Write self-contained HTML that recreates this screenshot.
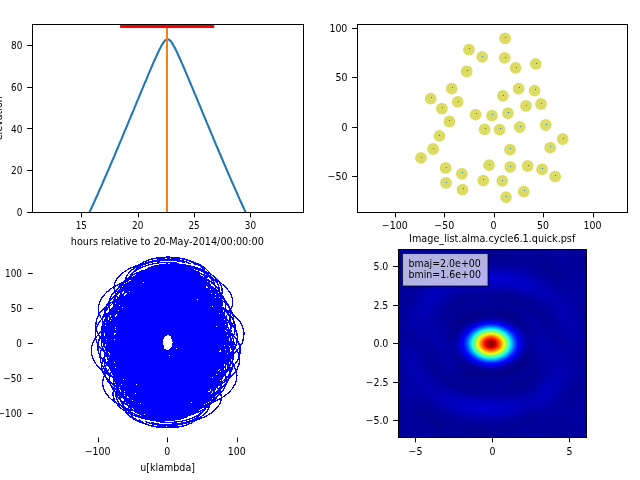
<!DOCTYPE html>
<html lang="en"><head><meta charset="utf-8"><title>simobserve quick look</title>
<style>html,body{margin:0;padding:0;background:#fff}svg{display:block}text{font-family:"DejaVu Sans","Liberation Sans",sans-serif;font-size:9.72px;fill:#000}.sp{stroke:#000;stroke-width:1;fill:none;stroke-linecap:square}.tk{stroke:#000;stroke-width:1;fill:none}</style></head><body>
<svg width="640" height="480" viewBox="0 0 640 480">
<rect width="640" height="480" fill="#fff"/>
<clipPath id="c1"><rect x="32.5" y="24.5" width="271.0" height="188.0"/></clipPath>
<g clip-path="url(#c1)">
<polyline points="32.3,289.4 33.4,289.4 34.6,289.3 35.7,289.1 36.8,288.8 37.9,288.5 39.1,288.1 40.2,287.6 41.3,287.0 42.4,286.3 43.6,285.6 44.7,284.8 45.8,283.9 47.0,283.0 48.1,282.0 49.2,280.9 50.3,279.7 51.5,278.5 52.6,277.2 53.7,275.9 54.8,274.5 56.0,273.0 57.1,271.5 58.2,270.0 59.4,268.4 60.5,266.7 61.6,265.0 62.7,263.3 63.9,261.5 65.0,259.6 66.1,257.8 67.2,255.9 68.4,253.9 69.5,251.9 70.6,249.9 71.8,247.9 72.9,245.8 74.0,243.7 75.1,241.5 76.3,239.4 77.4,237.2 78.5,235.0 79.6,232.7 80.8,230.5 81.9,228.2 83.0,225.9 84.2,223.5 85.3,221.2 86.4,218.8 87.5,216.4 88.7,214.0 89.8,211.6 90.9,209.2 92.0,206.7 93.2,204.3 94.3,201.8 95.4,199.3 96.6,196.8 97.7,194.3 98.8,191.7 99.9,189.2 101.1,186.7 102.2,184.1 103.3,181.5 104.4,178.9 105.6,176.3 106.7,173.7 107.8,171.1 109.0,168.5 110.1,165.9 111.2,163.3 112.3,160.6 113.5,158.0 114.6,155.3 115.7,152.7 116.8,150.0 118.0,147.3 119.1,144.7 120.2,142.0 121.4,139.3 122.5,136.6 123.6,133.9 124.7,131.2 125.9,128.5 127.0,125.8 128.1,123.1 129.2,120.4 130.4,117.7 131.5,115.0 132.6,112.3 133.8,109.6 134.9,106.9 136.0,104.1 137.1,101.4 138.3,98.7 139.4,96.0 140.5,93.3 141.6,90.6 142.8,87.9 143.9,85.2 145.0,82.5 146.2,79.8 147.3,77.1 148.4,74.4 149.5,71.8 150.7,69.1 151.8,66.5 152.9,63.9 154.0,61.3 155.2,58.8 156.3,56.3 157.4,53.8 158.6,51.4 159.7,49.1 160.8,46.9 161.9,44.9 163.1,43.1 164.2,41.5 165.3,40.3 166.4,39.5 167.6,39.2 168.7,39.5 169.8,40.3 171.0,41.5 172.1,43.1 173.2,44.9 174.3,46.9 175.5,49.1 176.6,51.4 177.7,53.8 178.8,56.3 180.0,58.8 181.1,61.3 182.2,63.9 183.4,66.5 184.5,69.1 185.6,71.8 186.7,74.4 187.9,77.1 189.0,79.8 190.1,82.5 191.2,85.2 192.4,87.9 193.5,90.6 194.6,93.3 195.8,96.0 196.9,98.7 198.0,101.4 199.1,104.1 200.3,106.9 201.4,109.6 202.5,112.3 203.6,115.0 204.8,117.7 205.9,120.4 207.0,123.1 208.2,125.8 209.3,128.5 210.4,131.2 211.5,133.9 212.7,136.6 213.8,139.3 214.9,142.0 216.0,144.7 217.2,147.3 218.3,150.0 219.4,152.7 220.6,155.3 221.7,158.0 222.8,160.6 223.9,163.3 225.1,165.9 226.2,168.5 227.3,171.1 228.4,173.7 229.6,176.3 230.7,178.9 231.8,181.5 233.0,184.1 234.1,186.7 235.2,189.2 236.3,191.7 237.5,194.3 238.6,196.8 239.7,199.3 240.8,201.8 242.0,204.3 243.1,206.7 244.2,209.2 245.4,211.6 246.5,214.0 247.6,216.4 248.7,218.8 249.9,221.2 251.0,223.5 252.1,225.9 253.2,228.2 254.4,230.5 255.5,232.7 256.6,235.0 257.8,237.2 258.9,239.4 260.0,241.5 261.1,243.7 262.3,245.8 263.4,247.9 264.5,249.9 265.6,251.9 266.8,253.9 267.9,255.9 269.0,257.8 270.2,259.6 271.3,261.5 272.4,263.3 273.5,265.0 274.7,266.7 275.8,268.4 276.9,270.0 278.0,271.5 279.2,273.0 280.3,274.5 281.4,275.9 282.6,277.2 283.7,278.5 284.8,279.7 285.9,280.9 287.1,282.0 288.2,283.0 289.3,283.9 290.4,284.8 291.6,285.6 292.7,286.3 293.8,287.0 295.0,287.6 296.1,288.1 297.2,288.5 298.3,288.8 299.5,289.1 300.6,289.3 301.7,289.4 302.9,289.4" fill="none" stroke="#1f77b4" stroke-width="2.08" stroke-linejoin="round"/>
<rect x="166" y="25" width="2" height="188" fill="#ff7f0e"/>
<rect x="120.1" y="25" width="94.2" height="3" fill="#f00"/>
</g>
<rect class="sp" x="32.5" y="24.5" width="271.0" height="188.0"/>
<path class="tk" d="M81.5 212.5v4.86M138.5 212.5v4.86M194.5 212.5v4.86M250.5 212.5v4.86"/>
<text transform="translate(81.30 229.40) scale(0.91 1.03)" text-anchor="middle">15</text>
<text transform="translate(137.67 229.40) scale(0.91 1.03)" text-anchor="middle">20</text>
<text transform="translate(194.03 229.40) scale(0.91 1.03)" text-anchor="middle">25</text>
<text transform="translate(250.39 229.40) scale(0.91 1.03)" text-anchor="middle">30</text>
<path class="tk" d="M32.0 212.5h-4.86M32.0 170.5h-4.86M32.0 128.5h-4.86M32.0 87.5h-4.86M32.0 45.5h-4.86"/>
<text transform="translate(22.38 216.00) scale(0.92 1.03)" text-anchor="end">0</text>
<text transform="translate(22.38 174.31) scale(0.92 1.03)" text-anchor="end">20</text>
<text transform="translate(22.38 132.62) scale(0.92 1.03)" text-anchor="end">40</text>
<text transform="translate(22.38 90.93) scale(0.92 1.03)" text-anchor="end">60</text>
<text transform="translate(22.38 49.24) scale(0.92 1.03)" text-anchor="end">80</text>
<text transform="translate(167.30 244.60) scale(0.997 1)" text-anchor="middle">hours relative to 20-May-2014/00:00:00</text>
<text transform="translate(2.40 118.20) rotate(-90) scale(0.985 1)" text-anchor="middle">elevation</text>
<clipPath id="c2"><rect x="357.5" y="24.5" width="270.0" height="188.0"/></clipPath>
<g clip-path="url(#c2)">
<g fill="#dcdc64"><circle cx="505.0" cy="38.3" r="5.9"/><circle cx="469.0" cy="49.7" r="5.9"/><circle cx="482.2" cy="56.9" r="5.9"/><circle cx="504.7" cy="57.8" r="5.9"/><circle cx="515.6" cy="67.9" r="5.9"/><circle cx="535.8" cy="63.8" r="5.9"/><circle cx="466.7" cy="71.5" r="5.9"/><circle cx="451.7" cy="88.6" r="5.9"/><circle cx="518.6" cy="88.7" r="5.9"/><circle cx="534.6" cy="90.7" r="5.9"/><circle cx="502.9" cy="95.8" r="5.9"/><circle cx="430.7" cy="98.7" r="5.9"/><circle cx="457.7" cy="101.9" r="5.9"/><circle cx="541.0" cy="104.0" r="5.9"/><circle cx="526.0" cy="105.9" r="5.9"/><circle cx="441.9" cy="108.6" r="5.9"/><circle cx="507.9" cy="113.2" r="5.9"/><circle cx="475.6" cy="114.6" r="5.9"/><circle cx="491.9" cy="115.7" r="5.9"/><circle cx="449.4" cy="121.5" r="5.9"/><circle cx="545.8" cy="125.0" r="5.9"/><circle cx="519.8" cy="127.0" r="5.9"/><circle cx="484.6" cy="129.3" r="5.9"/><circle cx="499.6" cy="129.7" r="5.9"/><circle cx="439.4" cy="135.8" r="5.9"/><circle cx="562.7" cy="139.0" r="5.9"/><circle cx="550.2" cy="147.7" r="5.9"/><circle cx="433.1" cy="149.0" r="5.9"/><circle cx="510.0" cy="149.6" r="5.9"/><circle cx="421.0" cy="157.9" r="5.9"/><circle cx="489.0" cy="165.1" r="5.9"/><circle cx="510.2" cy="166.9" r="5.9"/><circle cx="527.7" cy="166.0" r="5.9"/><circle cx="445.6" cy="167.9" r="5.9"/><circle cx="542.1" cy="169.4" r="5.9"/><circle cx="461.9" cy="173.8" r="5.9"/><circle cx="555.2" cy="176.7" r="5.9"/><circle cx="483.3" cy="180.6" r="5.9"/><circle cx="502.3" cy="180.8" r="5.9"/><circle cx="446.0" cy="182.9" r="5.9"/><circle cx="462.5" cy="189.6" r="5.9"/><circle cx="523.8" cy="191.7" r="5.9"/><circle cx="506.0" cy="197.1" r="5.9"/></g>
<path fill="#1f77b4" d="M505 37h1v1h-1zM469 48h1v1h-1zM482 56h1v1h-1zM505 57h1v1h-1zM516 67h1v1h-1zM536 63h1v1h-1zM467 70h1v1h-1zM452 87h1v1h-1zM519 87h1v1h-1zM535 89h1v1h-1zM503 95h1v1h-1zM431 97h1v1h-1zM458 101h1v1h-1zM541 103h1v1h-1zM526 105h1v1h-1zM442 107h1v1h-1zM508 112h1v1h-1zM476 113h1v1h-1zM492 114h1v1h-1zM449 120h1v1h-1zM546 124h1v1h-1zM520 126h1v1h-1zM485 128h1v1h-1zM500 128h1v1h-1zM439 135h1v1h-1zM563 138h1v1h-1zM550 146h1v1h-1zM433 148h1v1h-1zM510 148h1v1h-1zM421 157h1v1h-1zM489 164h1v1h-1zM510 166h1v1h-1zM528 165h1v1h-1zM446 167h1v1h-1zM542 168h1v1h-1zM462 172h1v1h-1zM555 175h1v1h-1zM483 179h1v1h-1zM502 180h1v1h-1zM446 182h1v1h-1zM463 188h1v1h-1zM524 190h1v1h-1zM506 196h1v1h-1z"/>
</g>
<rect class="sp" x="357.5" y="24.5" width="270.0" height="188.0"/>
<path class="tk" d="M395.5 212.5v4.86M444.5 212.5v4.86M494.5 212.5v4.86M543.5 212.5v4.86M593.5 212.5v4.86"/>
<text transform="translate(394.80 229.40) scale(0.97 1.03)" text-anchor="middle">−100</text>
<text transform="translate(444.20 229.40) scale(0.97 1.03)" text-anchor="middle">−50</text>
<text transform="translate(493.60 229.40) scale(0.97 1.03)" text-anchor="middle">0</text>
<text transform="translate(543.00 229.40) scale(0.97 1.03)" text-anchor="middle">50</text>
<text transform="translate(592.40 229.40) scale(0.97 1.03)" text-anchor="middle">100</text>
<path class="tk" d="M357.0 176.5h-4.86M357.0 127.5h-4.86M357.0 77.5h-4.86M357.0 28.5h-4.86"/>
<text transform="translate(347.38 180.32) scale(0.97 1.03)" text-anchor="end">−50</text>
<text transform="translate(347.38 130.90) scale(0.97 1.03)" text-anchor="end">0</text>
<text transform="translate(347.38 81.48) scale(0.97 1.03)" text-anchor="end">50</text>
<text transform="translate(347.38 32.05) scale(0.97 1.03)" text-anchor="end">100</text>
<path d="M160.0 356.4A19.6 9.8 0 0 1 155.9 339.5M164.9 356.8A12.9 6.5 0 0 1 158.1 346.1M171.1 352.0A4.1 2.1 0 0 1 164.0 351.8M175.9 354.3A8.5 4.3 0 0 1 165.1 359.3M180.6 347.6A17.5 8.8 0 0 1 171.3 362.0M163.4 367.5A21.8 11.0 0 0 1 151.2 349.6M162.5 379.4A30.7 15.4 0 0 1 144.1 354.3M180.5 363.7A12.9 6.5 0 0 1 162.1 370.1M185.2 360.9A19.4 9.8 0 0 1 166.1 374.8M177.6 370.8A12.2 6.1 0 0 1 156.6 369.8M158.6 389.2A42.1 21.1 0 0 1 136.6 354.3M166.5 384.4A28.8 14.5 0 0 1 143.3 362.2M189.4 365.9A23.9 12.0 0 0 1 165.4 382.8M185.7 370.3A18.2 9.1 0 0 1 161.0 380.2M163.5 391.4A37.1 18.7 0 0 1 137.8 361.7M182.1 378.1A15.9 8.0 0 0 1 154.7 379.5M173.7 386.4A22.6 11.4 0 0 1 145.8 372.6M178.3 383.1A17.8 8.9 0 0 1 150.0 376.9M167.9 395.9A34.8 17.5 0 0 1 137.4 369.8M194.5 374.9A28.6 14.4 0 0 1 162.8 394.1M187.9 382.0A20.4 10.2 0 0 1 155.4 388.9M178.8 391.4A22.1 11.1 0 0 1 145.5 381.8M182.9 388.0A19.5 9.8 0 0 1 149.5 385.5M167.8 405.1A40.9 20.6 0 0 1 132.1 374.3M201.6 377.7A37.7 18.9 0 0 1 164.8 404.8M199.8 384.9A33.6 16.9 0 0 1 159.9 406.1M168.5 413.0A45.3 22.7 0 0 1 128.0 379.3M189.3 395.3A23.6 11.9 0 0 1 148.7 397.6M166.8 420.2A51.9 26.1 0 0 1 123.1 380.7M186.5 407.7A28.1 14.1 0 0 1 140.2 400.2M192.6 403.6A27.3 13.7 0 0 1 145.5 406.0M197.1 399.1A29.6 14.9 0 0 1 150.4 409.7M175.3 419.2A42.1 21.2 0 0 1 127.9 391.4M201.6 397.3A34.2 17.1 0 0 1 153.7 414.7M180.8 418.3A36.9 18.5 0 0 1 131.3 398.0M206.5 397.8A39.8 20.0 0 0 1 155.9 421.4M187.8 416.6A32.2 16.2 0 0 1 135.8 406.4M193.0 412.2A30.1 15.1 0 0 1 140.9 410.9M178.2 426.4A44.1 22.1 0 0 1 125.3 398.7M183.8 425.8A39.3 19.7 0 0 1 128.5 405.9M200.7 412.4A33.9 17.0 0 0 1 144.7 421.2M196.9 419.2A33.5 16.8 0 0 1 138.9 419.7M172.5 342.8A7.3 3.7 0 0 1 169.9 349.0M178.8 338.0A19.3 9.7 0 0 1 175.8 354.8M183.6 340.3A25.4 12.8 0 0 1 176.9 362.2M188.3 333.6A36.2 18.2 0 0 1 183.1 365.0M171.0 353.6A4.8 2.4 0 0 1 163.0 352.5M170.1 365.4A12.4 6.2 0 0 1 155.9 357.3M188.2 349.7A28.0 14.1 0 0 1 173.9 373.0M192.8 346.9A36.4 18.3 0 0 1 177.9 377.7M185.2 356.9A20.7 10.4 0 0 1 168.4 372.8M166.3 375.2A23.1 11.6 0 0 1 148.4 357.2M174.1 370.4A12.6 6.3 0 0 1 155.1 365.1M197.0 351.9A40.5 20.3 0 0 1 177.2 385.7M193.3 356.3A33.0 16.6 0 0 1 172.8 383.1M171.1 377.4A19.2 9.6 0 0 1 149.6 364.7M189.8 364.1A24.9 12.5 0 0 1 166.5 382.4M181.3 372.4A14.2 7.1 0 0 1 157.6 375.5M185.9 369.1A18.6 9.4 0 0 1 161.8 379.8M175.5 381.9A18.5 9.3 0 0 1 149.2 372.7M202.1 360.9A44.4 22.3 0 0 1 174.6 397.0M195.5 368.0A31.9 16.0 0 0 1 167.2 391.9M186.4 377.4A18.8 9.4 0 0 1 157.3 384.7M190.5 374.1A23.6 11.9 0 0 1 161.3 388.4M175.4 391.2A24.2 12.1 0 0 1 143.9 377.3M209.3 363.8A54.0 27.1 0 0 1 176.6 407.8M207.5 370.9A48.5 24.3 0 0 1 171.6 409.0M176.1 399.0A28.5 14.3 0 0 1 139.8 382.2M197.0 381.3A30.6 15.3 0 0 1 160.5 400.5M174.5 406.2A34.5 17.3 0 0 1 134.9 383.7M194.1 393.7A26.6 13.4 0 0 1 152.0 403.1M200.2 389.6A33.3 16.7 0 0 1 157.3 409.0M204.7 385.1A40.1 20.1 0 0 1 162.2 412.6M182.9 405.3A28.0 14.0 0 0 1 139.7 394.3M209.3 383.3A46.8 23.5 0 0 1 165.5 417.7M188.4 404.3A26.5 13.3 0 0 1 143.1 400.9M214.1 383.8A53.7 27.0 0 0 1 167.7 424.3M195.4 402.6A28.7 14.4 0 0 1 147.6 409.3M200.6 398.2A33.0 16.6 0 0 1 152.7 413.8M185.8 412.5A30.7 15.4 0 0 1 137.1 401.7M191.5 411.8A29.7 14.9 0 0 1 140.3 408.8M208.4 398.5A42.1 21.1 0 0 1 156.5 424.2M204.6 405.3A37.0 18.6 0 0 1 150.7 422.6M173.9 337.6A12.1 6.1 0 0 1 173.6 348.2M178.7 339.9A18.2 9.1 0 0 1 174.7 355.6M183.4 333.2A29.0 14.5 0 0 1 180.9 358.4M166.1 353.2A8.9 4.5 0 0 1 160.8 345.9M165.2 365.0A17.8 8.9 0 0 1 153.6 350.7M183.3 349.3A20.8 10.4 0 0 1 171.7 366.4M188.0 346.5A29.2 14.6 0 0 1 175.6 371.1M180.3 356.5A13.9 7.0 0 0 1 166.1 366.2M161.4 374.8A29.2 14.6 0 0 1 146.1 350.6M169.3 370.0A16.3 8.2 0 0 1 152.8 358.5M192.1 351.5A33.3 16.7 0 0 1 174.9 379.1M188.4 355.9A25.8 13.0 0 0 1 170.5 376.5M166.2 377.0A24.3 12.2 0 0 1 147.3 358.1M184.9 363.7A18.3 9.2 0 0 1 164.3 375.8M176.4 372.0A12.7 6.4 0 0 1 155.3 368.9M181.0 368.7A13.5 6.8 0 0 1 159.5 373.2M170.6 381.5A22.3 11.2 0 0 1 147.0 366.1M197.3 360.6A37.2 18.7 0 0 1 172.4 390.4M190.6 367.6A25.1 12.6 0 0 1 165.0 385.3M181.5 377.0A15.3 7.7 0 0 1 155.1 378.1M185.7 373.7A18.0 9.0 0 0 1 159.0 381.8M170.5 390.8A28.5 14.3 0 0 1 141.7 370.7M204.4 363.4A46.8 23.5 0 0 1 174.4 401.2M202.6 370.5A41.4 20.8 0 0 1 169.4 402.4M171.2 398.6A32.9 16.5 0 0 1 137.6 375.6M192.1 380.9A24.7 12.4 0 0 1 158.2 393.9M169.6 405.8A39.3 19.7 0 0 1 132.7 377.1M189.3 393.3A23.1 11.6 0 0 1 149.7 396.5M195.3 389.2A27.7 13.9 0 0 1 155.1 402.4M199.9 384.7A33.7 16.9 0 0 1 160.0 406.0M178.1 404.9A30.6 15.4 0 0 1 137.5 387.7M204.4 383.0A40.1 20.1 0 0 1 163.3 411.1M183.5 403.9A27.0 13.6 0 0 1 140.8 394.4M209.2 383.4A46.8 23.5 0 0 1 165.5 417.7M190.6 402.2A26.1 13.1 0 0 1 145.3 402.7M195.7 397.8A28.3 14.2 0 0 1 150.4 407.3M180.9 412.1A33.0 16.6 0 0 1 134.9 395.1M186.6 411.4A30.0 15.0 0 0 1 138.1 402.2M203.5 398.1A36.2 18.2 0 0 1 154.2 417.6M199.7 404.9A32.3 16.2 0 0 1 148.4 416.0M172.4 344.8A6.3 3.1 0 0 1 168.7 349.9M177.1 338.1A16.8 8.5 0 0 1 174.9 352.7M159.9 358.0A20.7 10.4 0 0 1 154.9 340.2M159.0 369.8A29.3 14.7 0 0 1 147.7 344.9M177.0 354.2A9.9 5.0 0 0 1 165.8 360.7M181.7 351.4A17.6 8.8 0 0 1 169.7 365.4M174.1 361.3A8.1 4.1 0 0 1 160.2 360.5M155.2 379.7A40.9 20.5 0 0 1 140.2 344.9M163.0 374.9A27.0 13.6 0 0 1 146.9 352.8M185.9 356.3A21.9 11.0 0 0 1 169.0 373.4M182.2 360.8A15.3 7.7 0 0 1 164.6 370.8M160.0 381.8A35.5 17.9 0 0 1 141.4 352.3M178.6 368.6A11.8 5.9 0 0 1 158.4 370.1M170.2 376.8A19.8 9.9 0 0 1 149.4 363.2M174.8 373.5A14.0 7.0 0 0 1 153.6 367.5M164.4 386.3A32.7 16.4 0 0 1 141.1 360.4M191.0 365.4A26.3 13.2 0 0 1 166.5 384.7M184.4 372.5A16.7 8.4 0 0 1 159.1 379.6M175.3 381.8A18.6 9.3 0 0 1 149.2 372.4M179.4 378.5A15.4 7.7 0 0 1 153.1 376.1M164.3 395.6A38.9 19.5 0 0 1 135.8 365.0M198.1 368.2A35.7 17.9 0 0 1 168.5 395.4M196.4 375.4A31.0 15.6 0 0 1 163.5 396.7M165.0 403.5A43.2 21.7 0 0 1 131.7 369.9M185.9 385.7A19.6 9.8 0 0 1 152.3 388.2M163.4 410.6A49.9 25.0 0 0 1 126.8 371.4M183.0 398.2A24.2 12.1 0 0 1 143.8 390.8M189.1 394.1A23.2 11.7 0 0 1 149.2 396.7M193.6 389.5A26.0 13.1 0 0 1 154.1 400.3M171.8 409.7A39.5 19.8 0 0 1 131.6 382.0M198.1 387.8A31.0 15.6 0 0 1 157.3 405.4M177.3 408.7A33.7 16.9 0 0 1 134.9 388.6M203.0 388.3A37.0 18.6 0 0 1 159.5 412.0M184.3 407.0A28.4 14.2 0 0 1 139.4 397.0M189.5 402.7A26.0 13.1 0 0 1 144.5 401.5M174.7 416.9A41.2 20.7 0 0 1 128.9 389.3M180.4 416.3A35.9 18.1 0 0 1 132.2 396.5M197.3 402.9A30.1 15.1 0 0 1 148.3 411.9M193.5 409.7A29.4 14.8 0 0 1 142.5 410.3M172.4 335.7A10.9 5.5 0 0 1 173.9 345.2M155.1 355.7A26.4 13.3 0 0 1 153.8 332.7M154.2 367.5A34.8 17.5 0 0 1 146.6 337.5M172.3 351.8A4.7 2.3 0 0 1 164.7 353.2M176.9 349.0A11.3 5.7 0 0 1 168.6 358.0M169.3 359.0A9.0 4.5 0 0 1 159.1 353.0M150.4 377.3A46.3 23.2 0 0 1 139.1 337.5M158.2 372.5A32.1 16.1 0 0 1 145.8 345.4M181.1 354.0A15.7 7.9 0 0 1 167.9 365.9M177.4 358.4A9.8 4.9 0 0 1 163.5 363.3M155.2 379.5A40.7 20.4 0 0 1 140.3 344.9M173.9 366.2A10.4 5.2 0 0 1 157.3 362.6M165.4 374.5A23.7 11.9 0 0 1 148.3 355.7M170.0 371.2A16.3 8.2 0 0 1 152.5 360.1M159.6 384.0A37.5 18.8 0 0 1 140.0 352.9M186.2 363.1A20.3 10.2 0 0 1 165.4 377.2M179.6 370.1A12.7 6.4 0 0 1 158.0 372.1M170.5 379.5A21.2 10.6 0 0 1 148.1 365.0M174.6 376.2A15.6 7.9 0 0 1 152.0 368.7M159.5 393.3A43.5 21.9 0 0 1 134.7 357.5M193.4 365.9A29.5 14.8 0 0 1 167.4 388.0M191.6 373.0A25.1 12.6 0 0 1 162.4 389.3M160.2 401.1A47.7 24.0 0 0 1 130.6 362.4M181.1 383.4A17.5 8.8 0 0 1 151.2 380.8M158.6 408.3A54.5 27.4 0 0 1 125.7 363.9M178.2 395.8A25.0 12.6 0 0 1 142.7 383.3M184.3 391.7A21.1 10.6 0 0 1 148.1 389.2M188.8 387.2A21.7 10.9 0 0 1 153.0 392.9M167.0 407.4A43.3 21.7 0 0 1 130.5 374.5M193.4 385.5A25.8 12.9 0 0 1 156.2 397.9M172.5 406.4A36.6 18.4 0 0 1 133.8 381.2M198.2 385.9A31.4 15.8 0 0 1 158.5 404.5M179.5 404.7A29.5 14.8 0 0 1 138.3 389.5M184.7 400.3A24.9 12.5 0 0 1 143.4 394.1M169.9 414.6A44.7 22.5 0 0 1 127.9 381.9M175.6 413.9A38.5 19.3 0 0 1 131.1 389.0M192.5 400.6A26.5 13.3 0 0 1 147.2 404.4M188.7 407.4A27.8 13.9 0 0 1 141.4 402.9M150.4 362.4A37.3 18.7 0 0 1 147.6 330.0M149.5 374.2A45.7 22.9 0 0 1 140.4 334.7M167.6 358.6A10.7 5.4 0 0 1 158.5 350.5M172.2 355.8A5.7 2.9 0 0 1 162.4 355.2M164.6 365.7A19.0 9.5 0 0 1 152.9 350.2M145.7 384.0A57.2 28.7 0 0 1 132.9 334.7M153.5 379.3A42.9 21.5 0 0 1 139.6 342.6M176.4 360.7A8.9 4.5 0 0 1 161.7 363.2M172.7 365.2A10.3 5.2 0 0 1 157.3 360.6M150.5 386.2A51.6 25.9 0 0 1 134.1 342.1M169.2 373.0A18.3 9.2 0 0 1 151.1 359.9M160.7 381.2A34.2 17.2 0 0 1 142.1 353.0M165.3 377.9A26.1 13.1 0 0 1 146.3 357.3M154.9 390.7A48.2 24.2 0 0 1 133.8 350.2M181.5 369.8A14.0 7.0 0 0 1 159.2 374.5M174.9 376.9A15.9 8.0 0 0 1 151.8 369.3M165.8 386.2A30.9 15.5 0 0 1 141.9 362.2M169.9 382.9A24.0 12.0 0 0 1 145.8 365.9M154.8 400.0A54.2 27.2 0 0 1 128.5 354.7M188.7 372.6A21.5 10.8 0 0 1 161.2 385.2M186.9 379.8A19.3 9.7 0 0 1 156.2 386.5M155.5 407.9A58.3 29.3 0 0 1 124.4 359.7M176.4 390.1A22.8 11.5 0 0 1 145.0 378.0M153.9 415.0A65.1 32.7 0 0 1 119.5 361.1M173.5 402.6A33.1 16.6 0 0 1 136.5 380.6M179.6 398.5A25.8 12.9 0 0 1 141.9 386.4M184.1 393.9A22.0 11.1 0 0 1 146.8 390.1M162.3 414.1A53.4 26.8 0 0 1 124.3 371.8M188.7 392.2A22.5 11.3 0 0 1 150.0 395.1M167.8 413.1A46.1 23.2 0 0 1 127.6 378.4M193.5 392.7A26.0 13.1 0 0 1 152.3 401.8M174.8 411.4A37.6 18.9 0 0 1 132.1 386.8M180.0 407.1A30.6 15.4 0 0 1 137.2 391.3M165.2 421.3A54.6 27.4 0 0 1 121.7 379.1M170.9 420.7A47.6 23.9 0 0 1 124.9 386.3M187.8 407.3A27.8 13.9 0 0 1 141.0 401.7M184.0 414.1A32.4 16.3 0 0 1 135.2 400.1M166.7 354.3A8.9 4.5 0 0 1 160.5 347.2M184.8 338.6A28.2 14.2 0 0 1 178.5 363.0M189.5 335.8A36.9 18.5 0 0 1 182.5 367.7M181.9 345.7A20.2 10.1 0 0 1 173.0 362.7M162.9 364.1A20.3 10.2 0 0 1 153.0 347.2M170.8 359.3A8.0 4.0 0 0 1 159.7 355.1M193.6 340.8A40.7 20.4 0 0 1 181.8 375.7M189.9 345.2A32.8 16.5 0 0 1 177.4 373.1M167.7 366.3A15.5 7.8 0 0 1 154.2 354.6M186.4 353.0A23.9 12.0 0 0 1 171.1 372.3M177.9 361.3A10.3 5.2 0 0 1 162.2 365.4M182.5 358.0A16.5 8.3 0 0 1 166.4 369.8M172.1 370.8A14.1 7.1 0 0 1 153.8 362.6M198.8 349.8A44.2 22.2 0 0 1 179.2 387.0M192.1 356.9A31.0 15.5 0 0 1 171.8 381.8M183.0 366.3A15.6 7.8 0 0 1 161.9 374.7M187.2 363.0A21.6 10.8 0 0 1 165.9 378.4M172.0 380.0A20.0 10.1 0 0 1 148.5 367.2M205.9 352.7A53.7 27.0 0 0 1 181.2 397.7M204.1 359.8A47.8 24.0 0 0 1 176.3 399.0M172.7 387.9A24.4 12.3 0 0 1 144.4 372.2M193.6 370.2A28.6 14.4 0 0 1 165.1 390.5M171.1 395.1A30.7 15.4 0 0 1 139.5 373.6M190.8 382.6A23.1 11.6 0 0 1 156.6 393.1M196.8 378.5A30.9 15.5 0 0 1 162.0 398.9M201.4 374.0A38.5 19.3 0 0 1 166.8 402.6M179.6 394.2A23.3 11.7 0 0 1 144.3 384.3M205.9 372.2A45.6 22.9 0 0 1 170.1 407.6M185.0 393.2A21.7 10.9 0 0 1 147.7 390.9M210.8 372.7A52.7 26.4 0 0 1 172.3 414.2M192.1 391.5A24.7 12.4 0 0 1 152.2 399.3M197.2 387.1A30.0 15.1 0 0 1 157.3 403.8M182.4 401.3A26.0 13.1 0 0 1 141.7 391.6M188.1 400.7A25.0 12.6 0 0 1 144.9 398.7M205.0 387.4A39.9 20.0 0 0 1 161.1 414.1M201.2 394.1A33.9 17.0 0 0 1 155.3 412.6M185.7 326.8A36.1 18.1 0 0 1 185.7 358.2M190.4 324.0A44.7 22.5 0 0 1 189.6 362.9M182.8 333.9A27.7 13.9 0 0 1 180.1 358.0M163.8 352.3A11.5 5.8 0 0 1 160.1 342.4M171.7 347.5A4.3 2.2 0 0 1 166.8 350.3M194.6 329.0A48.3 24.3 0 0 1 188.9 370.9M190.9 333.4A40.3 20.2 0 0 1 184.5 368.3M168.7 354.5A6.8 3.4 0 0 1 161.4 349.9M187.3 341.2A30.8 15.5 0 0 1 178.3 367.6M178.9 349.5A14.0 7.0 0 0 1 169.3 360.7M183.5 346.2A22.4 11.3 0 0 1 173.5 365.0M173.0 358.9A7.1 3.5 0 0 1 161.0 357.9M199.7 338.0A51.4 25.8 0 0 1 186.4 382.2M193.0 345.1A37.6 18.9 0 0 1 179.0 377.1M184.0 354.5A19.7 9.9 0 0 1 169.1 369.9M188.1 351.1A27.3 13.7 0 0 1 173.1 373.6M173.0 368.2A12.0 6.0 0 0 1 155.7 362.5M206.8 340.8A60.8 30.6 0 0 1 188.4 392.9M205.0 348.0A54.6 27.4 0 0 1 183.4 394.2M173.7 376.1A16.2 8.1 0 0 1 151.6 367.4M194.5 358.4A34.0 17.1 0 0 1 172.2 385.7M172.0 383.3A22.1 11.1 0 0 1 146.7 368.9M191.7 370.8A25.8 13.0 0 0 1 163.7 388.3M197.7 366.7A35.6 17.9 0 0 1 169.1 394.2M202.3 362.2A44.1 22.2 0 0 1 174.0 397.8M180.5 382.3A17.1 8.6 0 0 1 151.5 379.5M206.8 360.4A51.7 26.0 0 0 1 177.3 402.9M186.0 381.4A18.8 9.4 0 0 1 154.8 386.1M211.7 360.9A58.9 29.6 0 0 1 179.5 409.5M193.0 379.7A25.8 13.0 0 0 1 159.4 394.5M198.2 375.3A33.5 16.8 0 0 1 164.5 399.0M183.3 389.5A20.1 10.1 0 0 1 148.9 386.8M189.0 388.9A22.1 11.1 0 0 1 152.1 394.0M205.9 375.5A44.6 22.4 0 0 1 168.2 409.4M202.1 382.3A37.2 18.7 0 0 1 162.5 407.8M172.3 339.7A8.6 4.3 0 0 1 171.6 347.2M164.7 349.6A8.6 4.3 0 0 1 162.1 342.2M145.8 367.9A47.5 23.8 0 0 1 142.1 326.7M153.6 363.1A33.0 16.6 0 0 1 148.8 334.6M176.5 344.6A12.5 6.3 0 0 1 170.9 355.1M172.8 349.1A5.4 2.7 0 0 1 166.5 352.5M150.6 370.1A41.6 20.9 0 0 1 143.3 334.1M169.2 356.8A7.8 3.9 0 0 1 160.3 351.8M160.8 365.1A23.8 12.0 0 0 1 151.3 344.9M165.4 361.8A15.5 7.8 0 0 1 155.5 349.3M155.0 374.6A38.0 19.1 0 0 1 143.0 342.1M181.6 353.7A16.6 8.3 0 0 1 168.4 366.4M175.0 360.7A8.1 4.1 0 0 1 161.0 361.3M165.9 370.1A20.3 10.2 0 0 1 151.1 354.2M170.0 366.8A13.4 6.7 0 0 1 155.0 357.9M154.9 383.9A43.9 22.0 0 0 1 137.7 346.7M188.7 356.5A26.1 13.1 0 0 1 170.4 377.2M187.0 363.6A21.1 10.6 0 0 1 165.4 378.5M155.6 391.8A47.9 24.0 0 0 1 133.6 351.6M176.5 374.0A13.7 6.9 0 0 1 154.2 370.0M154.0 398.9A54.7 27.4 0 0 1 128.7 353.1M173.6 386.5A22.7 11.4 0 0 1 145.7 372.6M179.7 382.3A17.1 8.6 0 0 1 151.1 378.4M184.2 377.8A17.0 8.6 0 0 1 156.0 382.1M162.4 398.0A42.8 21.5 0 0 1 133.5 363.7M188.7 376.1A21.2 10.7 0 0 1 159.2 387.1M167.9 397.0A35.5 17.8 0 0 1 136.8 370.4M193.6 376.5A27.1 13.6 0 0 1 161.4 393.7M174.9 395.3A27.2 13.7 0 0 1 141.3 378.7M180.1 390.9A21.3 10.7 0 0 1 146.4 383.3M165.3 405.2A43.9 22.1 0 0 1 130.8 371.1M171.0 404.6A37.0 18.6 0 0 1 134.1 378.2M187.9 391.2A21.9 11.0 0 0 1 150.2 393.6M184.1 398.0A23.9 12.0 0 0 1 144.4 392.1M160.0 352.4A17.1 8.6 0 0 1 158.2 337.5M141.1 370.7A56.1 28.2 0 0 1 138.2 321.9M148.9 365.9A41.6 20.9 0 0 1 144.9 329.8M171.8 347.4A4.5 2.2 0 0 1 166.9 350.4M168.1 351.8A5.6 2.8 0 0 1 162.6 347.8M145.9 372.9A50.2 25.2 0 0 1 139.4 329.4M164.6 359.6A15.2 7.6 0 0 1 156.3 347.1M156.1 367.9A32.2 16.2 0 0 1 147.4 340.2M160.7 364.6A23.6 11.9 0 0 1 151.6 344.6M150.3 377.4A46.4 23.3 0 0 1 139.0 337.4M176.9 356.5A9.4 4.7 0 0 1 164.4 361.7M170.3 363.5A11.1 5.6 0 0 1 157.0 356.6M161.2 372.9A28.2 14.2 0 0 1 147.1 349.4M165.3 369.6A20.6 10.3 0 0 1 151.1 353.2M150.2 386.7A52.3 26.2 0 0 1 133.7 342.0M184.1 359.3A18.3 9.2 0 0 1 166.4 372.5M182.3 366.4A14.7 7.4 0 0 1 161.4 373.8M150.9 394.5A56.1 28.2 0 0 1 129.6 346.9M171.8 376.8A18.2 9.1 0 0 1 150.2 365.2M149.3 401.7A62.9 31.6 0 0 1 124.7 348.4M168.9 389.2A29.2 14.7 0 0 1 141.7 367.8M175.0 385.1A20.8 10.4 0 0 1 147.1 373.7M179.6 380.6A16.3 8.2 0 0 1 152.0 377.4M157.7 400.8A50.7 25.5 0 0 1 129.5 359.0M184.1 378.9A17.1 8.6 0 0 1 155.3 382.4M163.2 399.8A43.0 21.6 0 0 1 132.9 365.7M188.9 379.3A21.3 10.7 0 0 1 157.5 389.0M170.2 398.1A33.6 16.9 0 0 1 137.4 374.0M175.4 393.7A25.8 13.0 0 0 1 142.5 378.6M160.6 408.0A51.6 25.9 0 0 1 126.9 366.4M166.3 407.3A44.2 22.2 0 0 1 130.1 373.5M183.2 394.0A22.1 11.1 0 0 1 146.3 388.9M179.4 400.8A27.2 13.7 0 0 1 140.5 387.3M148.7 360.8A39.0 19.6 0 0 1 147.6 326.9M156.6 356.0A24.4 12.3 0 0 1 154.3 334.8M179.4 337.5A20.6 10.4 0 0 1 176.4 355.4M175.7 341.9A12.6 6.4 0 0 1 172.0 352.8M153.5 363.0A33.0 16.6 0 0 1 148.9 334.3M172.2 349.7A4.6 2.3 0 0 1 165.8 352.1M163.7 358.0A15.3 7.7 0 0 1 156.8 345.2M168.3 354.7A7.3 3.7 0 0 1 161.0 349.5M157.9 367.5A29.4 14.8 0 0 1 148.5 342.4M184.6 346.5A24.0 12.0 0 0 1 173.9 366.7M177.9 353.6A11.2 5.6 0 0 1 166.5 361.5M168.8 363.0A12.1 6.1 0 0 1 156.6 354.4M173.0 359.7A7.4 3.7 0 0 1 160.6 358.1M157.8 376.8A35.3 17.7 0 0 1 143.2 346.9M191.7 349.4A33.5 16.8 0 0 1 175.9 377.4M189.9 356.5A27.8 13.9 0 0 1 170.9 378.7M158.5 384.6A39.3 19.7 0 0 1 139.1 351.9M179.4 366.9A12.0 6.0 0 0 1 159.7 370.2M156.9 391.8A46.1 23.2 0 0 1 134.2 353.3M176.6 379.3A16.4 8.3 0 0 1 151.2 372.8M182.6 375.2A15.5 7.8 0 0 1 156.6 378.6M187.2 370.7A20.0 10.0 0 0 1 161.5 382.3M165.4 390.9A34.5 17.3 0 0 1 139.0 364.0M191.7 368.9A26.2 13.2 0 0 1 164.8 387.3M170.8 389.9A27.6 13.8 0 0 1 142.3 370.6M196.5 369.4A33.0 16.6 0 0 1 167.0 394.0M177.9 388.2A20.8 10.4 0 0 1 146.9 379.0M183.0 383.8A17.9 9.0 0 0 1 152.0 383.5M168.2 398.0A35.8 18.0 0 0 1 136.4 371.3M173.9 397.4A29.4 14.8 0 0 1 139.6 378.5M190.8 384.1A23.2 11.6 0 0 1 155.7 393.9M187.0 390.9A21.4 10.8 0 0 1 150.0 392.3M175.5 337.7A14.6 7.3 0 0 1 174.4 350.3M198.4 319.1A59.5 29.9 0 0 1 196.4 370.9M194.7 323.6A51.5 25.8 0 0 1 192.0 368.3M172.5 344.6A6.4 3.2 0 0 1 168.9 349.9M191.1 331.4A41.8 21.0 0 0 1 185.8 367.6M182.7 339.6A24.5 12.3 0 0 1 176.9 360.7M187.3 336.3A33.2 16.7 0 0 1 181.1 365.1M176.9 349.1A11.2 5.6 0 0 1 168.5 357.9M203.5 328.2A62.4 31.3 0 0 1 193.9 382.2M196.9 335.3A48.5 24.3 0 0 1 186.5 377.1M187.8 344.6A29.8 15.0 0 0 1 176.6 369.9M191.9 341.3A37.8 19.0 0 0 1 180.6 373.7M176.8 358.4A9.1 4.6 0 0 1 163.2 362.5M210.6 331.0A71.7 36.0 0 0 1 195.9 393.0M208.9 338.2A65.3 32.8 0 0 1 190.9 394.3M177.5 366.3A10.7 5.4 0 0 1 159.1 367.4M198.4 348.5A44.1 22.2 0 0 1 179.7 385.7M175.9 373.4A13.5 6.8 0 0 1 154.2 368.9M195.5 361.0A34.4 17.3 0 0 1 171.2 388.3M201.6 356.9A45.3 22.7 0 0 1 176.6 394.2M206.1 352.3A54.2 27.2 0 0 1 181.5 397.9M184.3 372.5A16.7 8.4 0 0 1 159.0 379.5M210.6 350.6A61.9 31.1 0 0 1 184.8 402.9M189.8 371.5A23.1 11.6 0 0 1 162.4 386.2M215.5 351.1A69.2 34.7 0 0 1 187.0 409.5M196.8 369.8A33.2 16.7 0 0 1 166.9 394.5M202.0 365.5A42.3 21.3 0 0 1 172.0 399.1M187.2 379.7A19.6 9.8 0 0 1 156.4 386.9M192.8 379.1A25.7 12.9 0 0 1 159.6 394.0M209.8 365.7A53.9 27.1 0 0 1 175.8 409.4M206.0 372.5A45.6 22.9 0 0 1 170.0 407.8M190.5 323.9A45.0 22.6 0 0 1 189.7 363.0M186.8 328.4A36.9 18.5 0 0 1 185.3 360.4M164.6 349.4A8.6 4.3 0 0 1 162.2 342.0M183.3 336.1A27.2 13.7 0 0 1 179.1 359.7M174.8 344.4A10.0 5.0 0 0 1 170.2 352.8M179.4 341.1A18.7 9.4 0 0 1 174.4 357.2M169.0 353.9A6.1 3.1 0 0 1 161.8 350.0M195.6 333.0A47.8 24.0 0 0 1 187.2 374.3M189.0 340.0A33.9 17.0 0 0 1 179.8 369.2M179.9 349.4A15.6 7.8 0 0 1 169.9 362.1M184.0 346.1A23.4 11.7 0 0 1 173.9 365.8M168.9 363.2A12.2 6.1 0 0 1 156.5 354.6M202.8 335.8A57.2 28.7 0 0 1 189.2 385.1M201.0 343.0A50.8 25.5 0 0 1 184.2 386.4M169.6 371.1A16.6 8.3 0 0 1 152.4 359.5M190.5 353.3A30.0 15.0 0 0 1 173.0 377.9M168.0 378.2A23.1 11.6 0 0 1 147.5 361.0M187.6 365.8A21.5 10.8 0 0 1 164.5 380.4M193.7 361.7A31.5 15.8 0 0 1 169.9 386.3M198.3 357.1A40.1 20.1 0 0 1 174.8 390.0M176.4 377.3A15.4 7.7 0 0 1 152.3 371.6M202.8 355.4A47.7 24.0 0 0 1 178.1 395.0M181.9 376.3A15.3 7.7 0 0 1 155.7 378.3M207.6 355.8A54.9 27.6 0 0 1 180.3 401.6M188.9 374.6A21.6 10.8 0 0 1 160.2 386.6M194.1 370.2A29.3 14.7 0 0 1 165.3 391.2M179.3 384.5A18.2 9.2 0 0 1 149.7 379.0M185.0 383.9A18.7 9.4 0 0 1 152.9 386.1M201.9 370.5A40.4 20.3 0 0 1 169.1 401.5M198.1 377.3A32.9 16.5 0 0 1 163.3 400.0M163.9 346.9A8.1 4.1 0 0 1 163.3 339.9M141.7 367.9A53.5 26.9 0 0 1 140.1 321.4M160.4 354.7A18.0 9.0 0 0 1 157.0 339.1M151.9 362.9A35.4 17.8 0 0 1 148.1 332.2M156.5 359.6A26.6 13.4 0 0 1 152.3 336.6M146.1 372.4A49.6 24.9 0 0 1 139.7 329.4M172.8 351.5A5.1 2.6 0 0 1 165.1 353.8M166.1 358.6A12.4 6.2 0 0 1 157.7 348.6M157.1 368.0A30.9 15.5 0 0 1 147.8 341.5M161.2 364.6A23.0 11.5 0 0 1 151.8 345.2M146.0 381.7A55.2 27.7 0 0 1 134.4 334.0M179.9 354.3A13.8 7.0 0 0 1 167.1 364.5M178.1 361.5A10.5 5.3 0 0 1 162.1 365.8M146.8 389.6A59.0 29.6 0 0 1 130.3 339.0M167.6 371.8A19.3 9.7 0 0 1 151.0 357.3M145.1 396.8A65.8 33.0 0 0 1 125.4 340.4M164.8 384.3A30.9 15.5 0 0 1 142.5 359.9M170.8 380.2A21.3 10.7 0 0 1 147.8 365.7M175.4 375.6A14.9 7.5 0 0 1 152.7 369.4M153.6 395.8A53.2 26.7 0 0 1 130.2 351.1M179.9 373.9A13.8 6.9 0 0 1 156.0 374.4M159.1 394.8A45.2 22.7 0 0 1 133.6 357.7M184.8 374.4A17.2 8.6 0 0 1 158.2 381.0M166.1 393.1A35.1 17.6 0 0 1 138.1 366.1M171.2 388.8A26.4 13.3 0 0 1 143.2 370.6M156.4 403.0A53.9 27.1 0 0 1 127.6 358.4M162.1 402.4A46.1 23.1 0 0 1 130.8 365.5M179.0 389.0A20.7 10.4 0 0 1 147.0 380.9M175.2 395.8A27.3 13.7 0 0 1 141.2 379.4M145.4 363.5A45.4 22.8 0 0 1 144.5 324.0M164.1 350.2A9.9 5.0 0 0 1 161.4 341.7M155.6 358.5A27.3 13.7 0 0 1 152.5 334.8M160.2 355.2A18.5 9.3 0 0 1 156.7 339.2M149.8 368.0A41.5 20.8 0 0 1 144.1 332.0M176.5 347.1A11.4 5.7 0 0 1 169.5 356.4M169.8 354.1A5.6 2.8 0 0 1 162.1 351.2M160.8 363.5A22.9 11.5 0 0 1 152.2 344.1M164.9 360.2A15.1 7.6 0 0 1 156.2 347.8M149.7 377.3A47.2 23.7 0 0 1 138.8 336.6M183.6 349.9A21.0 10.5 0 0 1 171.5 367.1M181.8 357.0A15.8 7.9 0 0 1 166.5 368.4M150.5 385.2A51.0 25.6 0 0 1 134.7 341.6M171.3 367.4A12.6 6.3 0 0 1 155.3 359.9M148.8 392.3A57.7 29.0 0 0 1 129.8 343.0M168.5 379.8A23.6 11.8 0 0 1 146.8 362.5M174.5 375.7A15.4 7.8 0 0 1 152.2 368.3M179.1 371.2A12.7 6.4 0 0 1 157.1 372.0M157.3 391.4A45.3 22.8 0 0 1 134.6 353.7M183.6 369.5A16.0 8.0 0 0 1 160.4 377.0M162.8 390.4A37.4 18.8 0 0 1 138.0 360.3M188.5 369.9A21.7 10.9 0 0 1 162.6 383.6M169.8 388.7A27.9 14.0 0 0 1 142.5 368.7M174.9 384.3A20.3 10.2 0 0 1 147.6 373.2M160.1 398.6A46.1 23.2 0 0 1 132.0 361.0M165.8 397.9A38.6 19.4 0 0 1 135.2 368.1M182.7 384.6A18.1 9.1 0 0 1 151.4 383.5M178.9 391.4A22.1 11.1 0 0 1 145.6 382.0M186.3 329.2A35.6 17.9 0 0 1 184.6 360.2M177.8 337.5A18.2 9.2 0 0 1 175.6 353.3M182.4 334.2A27.0 13.6 0 0 1 179.8 357.6M172.0 346.9A4.9 2.4 0 0 1 167.3 350.5M198.7 326.0A56.2 28.2 0 0 1 192.7 374.8M192.0 333.1A42.2 21.2 0 0 1 185.3 369.7M183.0 342.5A23.5 11.8 0 0 1 175.4 362.5M187.1 339.1A31.5 15.8 0 0 1 179.4 366.2M171.9 356.2A5.9 3.0 0 0 1 162.0 355.1M205.8 328.8A65.5 32.9 0 0 1 194.7 385.5M204.0 336.0A59.0 29.6 0 0 1 189.7 386.8M172.7 364.1A9.8 4.9 0 0 1 157.9 360.0M193.5 346.4A37.8 19.0 0 0 1 178.5 378.3M171.0 371.3A15.3 7.7 0 0 1 153.0 361.5M190.7 358.8A28.1 14.1 0 0 1 170.0 380.9M196.7 354.7A38.9 19.5 0 0 1 175.4 386.8M201.3 350.2A47.9 24.0 0 0 1 180.3 390.4M179.5 370.3A12.7 6.4 0 0 1 157.8 372.1M205.8 348.4A55.6 27.9 0 0 1 183.6 395.5M185.0 369.4A17.5 8.8 0 0 1 161.1 378.7M210.7 348.9A62.8 31.5 0 0 1 185.8 402.1M192.0 367.7A27.0 13.6 0 0 1 165.7 387.1M197.1 363.3A36.0 18.1 0 0 1 170.8 391.6M182.3 377.5A15.8 8.0 0 0 1 155.2 379.4M188.0 376.9A20.4 10.2 0 0 1 158.4 386.6M204.9 363.5A47.5 23.9 0 0 1 174.5 402.0M201.1 370.3A39.3 19.7 0 0 1 168.8 400.4M159.2 350.7A17.4 8.8 0 0 1 158.7 335.5M163.8 347.4A8.7 4.3 0 0 1 162.9 339.9M153.4 360.2A31.6 15.9 0 0 1 150.3 332.7M180.0 339.3A20.6 10.3 0 0 1 175.7 357.1M173.4 346.4A7.1 3.5 0 0 1 168.3 351.9M164.3 355.7A13.0 6.5 0 0 1 158.4 344.8M168.4 352.4A5.7 2.8 0 0 1 162.4 348.5M153.3 369.5A37.3 18.7 0 0 1 145.0 337.3M187.2 342.1A30.1 15.1 0 0 1 177.7 367.8M185.4 349.3A24.0 12.0 0 0 1 172.8 369.1M154.0 377.4A41.1 20.6 0 0 1 140.9 342.3M174.9 359.6A7.8 3.9 0 0 1 161.6 360.6M152.4 384.5A47.8 24.0 0 0 1 136.0 343.7M172.0 372.1A15.0 7.5 0 0 1 153.1 363.2M178.1 368.0A11.4 5.7 0 0 1 158.5 369.0M182.6 363.4A15.4 7.8 0 0 1 163.3 372.7M160.8 383.6A35.5 17.9 0 0 1 140.8 354.4M187.2 361.7A21.9 11.0 0 0 1 166.6 377.7M166.3 382.6A27.9 14.0 0 0 1 144.2 361.0M192.0 362.1A28.8 14.5 0 0 1 168.8 384.3M173.3 380.9A19.5 9.8 0 0 1 148.7 369.4M178.5 376.6A14.6 7.3 0 0 1 153.8 373.9M163.7 390.8A36.5 18.3 0 0 1 138.2 361.7M169.4 390.2A29.3 14.7 0 0 1 141.4 368.8M186.3 376.8A18.6 9.4 0 0 1 157.6 384.2M182.5 383.6A17.7 8.9 0 0 1 151.8 382.7M172.2 339.2A8.8 4.4 0 0 1 171.8 346.8M161.8 351.9A14.2 7.1 0 0 1 159.3 339.6M188.5 331.0A37.9 19.1 0 0 1 184.7 364.0M181.8 338.1A24.0 12.1 0 0 1 177.3 358.8M172.8 347.5A5.8 2.9 0 0 1 167.4 351.7M176.9 344.1A13.3 6.7 0 0 1 171.4 355.4M161.8 361.2A20.0 10.1 0 0 1 154.0 344.2M195.6 333.8A47.3 23.7 0 0 1 186.7 374.7M193.8 341.0A40.9 20.5 0 0 1 181.7 376.0M162.5 369.1A24.1 12.1 0 0 1 149.9 349.2M183.3 351.4A20.0 10.0 0 0 1 170.5 367.5M160.8 376.3A30.9 15.5 0 0 1 145.0 350.6M180.5 363.8A12.9 6.5 0 0 1 162.0 370.1M186.5 359.7A21.7 10.9 0 0 1 167.4 375.9M191.1 355.2A30.1 15.1 0 0 1 172.3 379.6M169.3 375.3A19.7 9.9 0 0 1 149.8 361.3M195.6 353.4A37.7 18.9 0 0 1 175.6 384.6M174.8 374.4A14.5 7.3 0 0 1 153.1 367.9M200.5 353.9A44.9 22.6 0 0 1 177.8 391.3M181.8 372.7A14.5 7.3 0 0 1 157.7 376.3M187.0 368.3A20.1 10.1 0 0 1 162.8 380.8M172.1 382.5A21.5 10.8 0 0 1 147.2 368.6M177.8 381.9A17.3 8.7 0 0 1 150.4 375.8M194.7 368.5A30.7 15.4 0 0 1 166.6 391.1M190.9 375.3A23.9 12.0 0 0 1 160.8 389.6M157.2 355.2A23.0 11.5 0 0 1 155.1 335.3M183.9 334.3A29.2 14.6 0 0 1 180.5 359.6M177.2 341.4A15.2 7.7 0 0 1 173.1 354.5M168.2 350.8A4.9 2.4 0 0 1 163.2 347.3M172.3 347.4A5.1 2.6 0 0 1 167.2 351.0M157.2 364.5A28.6 14.4 0 0 1 149.8 339.9M191.0 337.1A38.5 19.3 0 0 1 182.5 370.4M189.2 344.3A32.2 16.2 0 0 1 177.5 371.7M157.9 372.4A32.5 16.3 0 0 1 145.7 344.8M178.7 354.6A12.1 6.1 0 0 1 166.3 363.1M156.2 379.6A39.3 19.7 0 0 1 140.8 346.3M175.9 367.1A10.5 5.3 0 0 1 157.8 365.7M181.9 363.0A14.6 7.4 0 0 1 163.2 371.6M186.5 358.4A22.0 11.1 0 0 1 168.1 375.2M164.7 378.6A27.3 13.7 0 0 1 145.6 356.9M191.0 356.7A29.4 14.7 0 0 1 171.4 380.3M170.2 377.6A20.3 10.2 0 0 1 148.9 363.6M195.9 357.2A36.5 18.3 0 0 1 173.6 386.9M177.2 375.9A14.5 7.3 0 0 1 153.5 371.9M182.4 371.6A14.8 7.5 0 0 1 158.6 376.5M167.5 385.8A28.5 14.3 0 0 1 143.0 364.3M173.2 385.2A22.2 11.2 0 0 1 146.2 371.4M190.1 371.8A23.5 11.8 0 0 1 162.4 386.8M186.3 378.6A18.8 9.4 0 0 1 156.6 385.2M194.3 321.5A52.0 26.1 0 0 1 193.0 366.8M187.7 328.6A38.0 19.1 0 0 1 185.6 361.6M178.6 338.0A19.1 9.6 0 0 1 175.7 354.5M182.7 334.6A27.1 13.6 0 0 1 179.7 358.2M167.6 351.7A6.2 3.1 0 0 1 162.3 347.0M201.4 324.3A61.3 30.8 0 0 1 195.0 377.5M199.6 331.5A54.7 27.5 0 0 1 190.1 378.8M168.3 359.6A10.5 5.3 0 0 1 158.2 352.0M189.1 341.9A33.2 16.7 0 0 1 178.9 370.3M166.6 366.8A17.1 8.6 0 0 1 153.3 353.4M186.3 354.3A23.3 11.7 0 0 1 170.4 372.9M192.4 350.2A34.2 17.2 0 0 1 175.8 378.7M196.9 345.7A43.3 21.7 0 0 1 180.6 382.4M175.1 365.8A10.0 5.0 0 0 1 158.1 364.1M201.4 343.9A51.0 25.6 0 0 1 183.9 387.4M180.6 364.9A12.9 6.5 0 0 1 161.5 370.7M206.3 344.4A58.3 29.3 0 0 1 186.1 394.1M187.6 363.2A22.1 11.1 0 0 1 166.0 379.1M192.8 358.8A31.2 15.7 0 0 1 171.1 383.6M178.0 373.0A13.1 6.6 0 0 1 155.5 371.4M183.6 372.4A16.0 8.0 0 0 1 158.7 378.6M200.5 359.0A42.8 21.5 0 0 1 174.9 393.9M196.7 365.8A34.5 17.3 0 0 1 169.1 392.4M161.0 349.5A14.0 7.0 0 0 1 160.3 337.3M151.9 358.9A33.0 16.6 0 0 1 150.3 330.2M156.0 355.6A25.0 12.5 0 0 1 154.3 333.9M140.9 372.7A57.5 28.9 0 0 1 137.0 322.7M174.8 345.3A9.6 4.8 0 0 1 169.7 353.2M173.0 352.4A5.3 2.7 0 0 1 164.7 354.5M141.6 380.5A61.0 30.6 0 0 1 132.9 327.6M162.5 362.8A20.0 10.0 0 0 1 153.5 346.0M140.0 387.7A67.7 34.0 0 0 1 128.0 329.1M159.7 375.2A31.8 16.0 0 0 1 145.0 348.6M165.7 371.1A21.1 10.6 0 0 1 150.4 354.4M170.3 366.6A13.0 6.6 0 0 1 155.3 358.1M148.5 386.8A54.8 27.5 0 0 1 132.8 339.7M174.8 364.9A9.6 4.8 0 0 1 158.5 363.1M153.9 385.8A46.4 23.3 0 0 1 136.1 346.4M179.6 365.3A12.0 6.0 0 0 1 160.7 369.7M160.9 384.1A35.7 17.9 0 0 1 140.6 354.7M166.1 379.7A26.3 13.2 0 0 1 145.7 359.3M151.3 394.0A55.2 27.7 0 0 1 130.1 347.1M157.0 393.3A47.0 23.6 0 0 1 133.4 354.2M173.9 380.0A18.4 9.3 0 0 1 149.5 369.6M170.1 386.8A26.3 13.2 0 0 1 143.7 368.1M158.6 351.8A19.0 9.5 0 0 1 157.7 335.3M162.7 348.5A10.9 5.5 0 0 1 161.7 339.0M147.6 365.6A43.4 21.8 0 0 1 144.3 327.8M181.4 338.2A23.3 11.7 0 0 1 177.0 358.3M179.6 345.4A17.0 8.5 0 0 1 172.1 359.6M148.3 373.5A47.0 23.6 0 0 1 140.2 332.8M169.1 355.7A7.1 3.6 0 0 1 160.9 351.1M146.6 380.6A53.7 27.0 0 0 1 135.3 334.2M166.3 368.2A18.5 9.3 0 0 1 152.4 353.7M172.4 364.1A9.9 5.0 0 0 1 157.8 359.5M176.9 359.5A9.3 4.7 0 0 1 162.7 363.2M155.1 379.7A41.0 20.6 0 0 1 140.2 344.9M181.4 357.8A15.0 7.5 0 0 1 165.9 368.2M160.6 378.7A32.8 16.5 0 0 1 143.5 351.5M186.3 358.2A21.8 10.9 0 0 1 168.1 374.9M167.6 377.0A22.7 11.4 0 0 1 148.0 359.9M172.8 372.7A14.8 7.4 0 0 1 153.1 364.4M158.0 386.9A41.5 20.9 0 0 1 137.5 352.2M163.6 386.3A33.6 16.9 0 0 1 140.7 359.4M180.5 372.9A13.8 6.9 0 0 1 156.9 374.8M176.7 379.7A16.6 8.3 0 0 1 151.1 373.2M171.8 339.1A8.1 4.1 0 0 1 171.6 346.2M156.6 356.2A24.4 12.3 0 0 1 154.3 335.0M190.5 328.8A42.2 21.2 0 0 1 187.0 365.5M188.7 336.0A35.6 17.9 0 0 1 182.0 366.8M157.4 364.1A28.1 14.1 0 0 1 150.2 339.9M178.2 346.3A14.4 7.2 0 0 1 170.8 358.3M155.7 371.2A34.9 17.5 0 0 1 145.3 341.4M175.4 358.8A7.9 4.0 0 0 1 162.3 360.8M181.4 354.7A15.9 8.0 0 0 1 167.7 366.7M186.0 350.1A24.5 12.3 0 0 1 172.6 370.4M164.2 370.3A22.6 11.3 0 0 1 150.1 352.0M190.5 348.4A32.2 16.2 0 0 1 175.8 375.4M169.6 369.3A15.4 7.7 0 0 1 153.4 358.7M195.4 348.9A39.4 19.8 0 0 1 178.0 382.0M176.7 367.6A10.8 5.4 0 0 1 157.9 367.0M181.8 363.3A14.5 7.3 0 0 1 163.0 371.6M167.0 377.5A23.7 11.9 0 0 1 147.4 359.4M172.7 376.9A17.4 8.8 0 0 1 150.7 366.5M189.6 363.5A24.9 12.5 0 0 1 166.8 381.9M185.8 370.3A18.4 9.2 0 0 1 161.0 380.4M152.5 359.5A32.5 16.3 0 0 1 150.3 331.3M186.4 332.2A34.1 17.1 0 0 1 183.0 361.8M184.6 339.3A27.6 13.8 0 0 1 178.0 363.1M153.2 367.4A36.1 18.1 0 0 1 146.2 336.2M174.1 349.7A7.0 3.5 0 0 1 166.8 354.5M151.6 374.6A42.8 21.5 0 0 1 141.3 337.7M171.3 362.1A9.4 4.7 0 0 1 158.3 357.1M177.3 358.0A9.7 4.9 0 0 1 163.7 363.0M181.9 353.5A17.0 8.5 0 0 1 168.6 366.7M160.1 373.7A30.2 15.2 0 0 1 146.1 348.3M186.4 351.7A24.4 12.3 0 0 1 171.9 371.7M165.5 372.7A22.4 11.2 0 0 1 149.4 355.0M191.2 352.2A31.6 15.9 0 0 1 174.1 378.3M172.6 371.0A13.9 7.0 0 0 1 153.9 363.3M177.7 366.6A10.9 5.5 0 0 1 159.0 367.9M162.9 380.8A31.0 15.6 0 0 1 143.5 355.7M168.6 380.2A23.7 11.9 0 0 1 146.7 362.8M185.5 366.9A18.5 9.3 0 0 1 162.8 378.2M181.7 373.6A14.6 7.4 0 0 1 157.1 376.6M201.5 315.1A66.5 33.4 0 0 1 200.3 372.9M199.7 322.2A59.8 30.1 0 0 1 195.4 374.2M168.4 350.3A4.4 2.2 0 0 1 163.5 347.4M189.2 332.6A38.2 19.2 0 0 1 184.2 365.7M166.7 357.5A11.0 5.5 0 0 1 158.6 348.9M186.4 345.0A27.5 13.8 0 0 1 175.7 368.3M192.4 340.9A38.8 19.5 0 0 1 181.1 374.2M197.0 336.4A48.1 24.1 0 0 1 186.0 377.8M175.2 356.6A7.6 3.8 0 0 1 163.5 359.5M201.5 334.6A55.9 28.1 0 0 1 189.2 382.8M180.7 355.6A14.5 7.3 0 0 1 166.8 366.1M206.4 335.1A63.1 31.7 0 0 1 191.4 389.5M187.7 353.9A25.5 12.8 0 0 1 171.3 374.5M192.8 349.5A35.2 17.7 0 0 1 176.4 379.0M178.0 363.7A10.6 5.3 0 0 1 160.8 366.8M183.7 363.1A16.9 8.5 0 0 1 164.1 374.0M200.6 349.8A47.0 23.6 0 0 1 180.2 389.4M196.8 356.5A38.2 19.2 0 0 1 174.4 387.8M165.9 349.6A7.0 3.5 0 0 1 162.7 343.7M134.5 377.7A70.0 35.1 0 0 1 130.9 316.9M155.4 360.0A28.5 14.3 0 0 1 151.5 335.2M132.9 384.9A76.6 38.5 0 0 1 126.0 318.4M152.5 372.4A40.2 20.2 0 0 1 143.0 337.8M158.6 368.3A28.9 14.5 0 0 1 148.4 343.7M163.1 363.8A19.7 9.9 0 0 1 153.3 347.3M141.3 383.9A63.5 31.9 0 0 1 130.8 329.0M167.6 362.0A12.8 6.4 0 0 1 156.5 352.4M146.8 383.0A54.9 27.6 0 0 1 134.1 335.6M172.5 362.5A8.9 4.5 0 0 1 158.7 359.0M153.8 381.3A43.7 22.0 0 0 1 138.6 344.0M159.0 376.9A33.8 17.0 0 0 1 143.7 348.5M144.2 391.1A63.7 32.0 0 0 1 128.1 336.4M149.9 390.5A55.1 27.7 0 0 1 131.4 343.5M166.8 377.2A23.8 11.9 0 0 1 147.5 358.9M163.0 383.9A33.0 16.6 0 0 1 141.7 357.3M136.3 370.6A63.2 31.7 0 0 1 135.8 315.6M157.1 352.8A21.7 10.9 0 0 1 156.5 333.9M134.7 377.7A69.8 35.0 0 0 1 130.9 317.1M154.3 365.3A33.2 16.7 0 0 1 148.0 336.5M160.4 361.1A22.0 11.0 0 0 1 153.3 342.4M164.9 356.6A12.7 6.4 0 0 1 158.2 346.0M143.1 376.8A56.6 28.4 0 0 1 135.7 327.7M169.4 354.9A6.3 3.2 0 0 1 161.5 351.1M148.6 375.8A48.0 24.1 0 0 1 139.1 334.4M174.3 355.3A6.7 3.4 0 0 1 163.7 357.7M155.6 374.1A36.8 18.5 0 0 1 143.6 342.7M160.8 369.7A26.8 13.4 0 0 1 148.7 347.3M146.0 384.0A56.7 28.5 0 0 1 133.1 335.1M151.6 383.4A48.1 24.2 0 0 1 136.3 342.2M168.6 370.0A17.0 8.6 0 0 1 152.5 357.6M164.8 376.8A26.0 13.1 0 0 1 146.7 356.0M188.5 324.7A41.5 20.8 0 0 1 188.3 360.8M166.0 349.6A6.8 3.4 0 0 1 162.8 343.9M185.7 337.1A30.4 15.2 0 0 1 179.8 363.4M191.7 333.0A41.8 21.0 0 0 1 185.2 369.2M196.3 328.5A51.2 25.7 0 0 1 190.1 372.9M174.5 348.7A7.8 3.9 0 0 1 167.6 354.6M200.8 326.8A59.0 29.6 0 0 1 193.3 377.9M179.9 347.7A16.4 8.2 0 0 1 170.9 361.2M205.7 327.2A66.2 33.2 0 0 1 195.5 384.5M187.0 346.0A27.9 14.0 0 0 1 175.4 369.6M192.1 341.6A37.9 19.1 0 0 1 180.5 374.1M177.3 355.9A10.0 5.0 0 0 1 164.9 361.9M183.0 355.2A18.0 9.1 0 0 1 168.2 369.0M199.9 341.9A49.7 25.0 0 0 1 184.3 384.4M196.1 348.7A40.6 20.4 0 0 1 178.5 382.9M145.2 367.4A48.1 24.1 0 0 1 142.1 325.6M164.8 354.9A11.8 5.9 0 0 1 159.2 345.0M170.9 350.8A3.7 1.8 0 0 1 164.5 350.9M175.4 346.2A10.2 5.1 0 0 1 169.4 354.6M153.6 366.4A35.0 17.6 0 0 1 146.9 336.2M179.9 344.5A17.8 8.9 0 0 1 172.7 359.6M159.1 365.5A26.5 13.3 0 0 1 150.3 342.9M184.8 345.0A25.1 12.6 0 0 1 174.9 366.2M166.1 363.8A15.8 7.9 0 0 1 154.8 351.2M171.3 359.4A7.8 3.9 0 0 1 159.9 355.8M156.5 373.6A35.2 17.7 0 0 1 144.3 343.6M162.1 373.0A27.0 13.6 0 0 1 147.5 350.7M179.1 359.6A11.6 5.8 0 0 1 163.7 366.1M175.3 366.4A10.3 5.1 0 0 1 157.9 364.5M187.3 330.0A36.7 18.4 0 0 1 184.7 361.9M193.4 325.9A48.2 24.2 0 0 1 190.1 367.7M197.9 321.3A57.6 28.9 0 0 1 195.0 371.4M176.1 341.5A13.4 6.8 0 0 1 172.5 353.1M202.4 319.6A65.4 32.8 0 0 1 198.2 376.4M181.6 340.5A22.3 11.2 0 0 1 175.8 359.7M207.3 320.1A72.5 36.4 0 0 1 200.4 383.1M188.6 338.8A34.0 17.1 0 0 1 180.3 368.1M193.8 334.5A44.1 22.2 0 0 1 185.4 372.6M179.0 348.7A14.5 7.3 0 0 1 169.8 360.4M184.6 348.1A23.4 11.7 0 0 1 173.1 367.6M201.6 334.7A55.9 28.1 0 0 1 189.2 383.0M197.8 341.5A46.6 23.4 0 0 1 183.4 381.4M173.7 338.3A11.4 5.7 0 0 1 173.0 348.3M178.3 333.8A20.9 10.5 0 0 1 177.9 352.0M156.5 354.0A23.4 11.8 0 0 1 155.4 333.6M182.8 332.1A28.7 14.4 0 0 1 181.2 357.0M161.9 353.0A14.7 7.4 0 0 1 158.8 340.3M187.6 332.5A35.8 18.0 0 0 1 183.4 363.6M168.9 351.3A4.5 2.3 0 0 1 163.3 348.6M174.1 346.9A7.9 4.0 0 0 1 168.4 353.2M159.3 361.2A23.5 11.8 0 0 1 152.8 341.0M165.0 360.6A15.2 7.6 0 0 1 156.0 348.1M181.9 347.2A19.6 9.8 0 0 1 172.2 363.5M178.1 354.0A11.4 5.7 0 0 1 166.4 362.0M172.2 337.9A9.4 4.7 0 0 1 172.5 346.1M150.4 358.1A34.9 17.5 0 0 1 150.0 327.8M176.7 336.2A17.2 8.6 0 0 1 175.8 351.1M155.9 357.1A26.1 13.1 0 0 1 153.4 334.4M181.6 336.6A24.4 12.2 0 0 1 178.0 357.8M162.9 355.4A14.8 7.4 0 0 1 157.9 342.8M168.1 351.0A5.2 2.6 0 0 1 163.0 347.3M153.3 365.3A34.8 17.5 0 0 1 147.4 335.1M158.9 364.7A26.2 13.1 0 0 1 150.6 342.3M175.8 351.3A9.0 4.5 0 0 1 166.8 357.7M172.0 358.1A6.8 3.4 0 0 1 161.0 356.1M145.8 362.6A44.3 22.3 0 0 1 145.1 324.1M172.2 340.7A7.8 3.9 0 0 1 170.9 347.5M151.3 361.7A35.5 17.9 0 0 1 148.5 330.8M177.0 341.2A15.0 7.5 0 0 1 173.1 354.1M158.3 360.0A24.2 12.1 0 0 1 153.0 339.1M163.5 355.6A14.1 7.1 0 0 1 158.1 343.7M148.7 369.8A44.2 22.2 0 0 1 142.5 331.5M154.4 369.2A35.5 17.8 0 0 1 145.7 338.6M171.3 355.8A5.8 2.9 0 0 1 161.9 354.0M167.5 362.6A13.4 6.7 0 0 1 156.1 352.4M194.0 320.5A52.1 26.2 0 0 1 193.4 365.8M173.1 341.5A8.9 4.5 0 0 1 171.0 349.1M198.8 321.0A59.2 29.7 0 0 1 195.6 372.4M180.1 339.8A20.5 10.3 0 0 1 175.5 357.5M185.3 335.4A30.7 15.4 0 0 1 180.6 362.0M170.5 349.6A3.2 1.6 0 0 1 165.0 349.8M176.2 349.0A10.2 5.1 0 0 1 168.2 356.9M193.1 335.7A42.5 21.3 0 0 1 184.4 372.3M189.3 342.4A33.2 16.7 0 0 1 178.6 370.8M146.8 363.4A43.3 21.7 0 0 1 145.2 325.7M172.5 342.9A7.2 3.6 0 0 1 169.9 349.1M153.8 361.7A31.8 16.0 0 0 1 149.7 334.1M159.0 357.3A21.6 10.9 0 0 1 154.8 338.6M144.2 371.6A51.9 26.1 0 0 1 139.3 326.4M149.9 370.9A43.2 21.7 0 0 1 142.5 333.6M166.8 357.6A11.0 5.5 0 0 1 158.6 349.0M163.0 364.4A20.3 10.2 0 0 1 152.8 347.4M193.4 322.0A50.4 25.3 0 0 1 192.3 365.8M174.7 340.7A11.6 5.8 0 0 1 172.2 350.8M179.8 336.4A21.9 11.0 0 0 1 177.3 355.4M165.0 350.6A8.8 4.4 0 0 1 161.7 343.2M170.7 350.0A3.4 1.7 0 0 1 164.9 350.3M187.6 336.6A33.6 16.9 0 0 1 181.1 365.7M183.8 343.4A24.3 12.2 0 0 1 175.3 364.1M149.0 361.2A38.8 19.5 0 0 1 147.5 327.5M154.1 356.9A28.6 14.3 0 0 1 152.6 332.0M139.3 371.1A58.9 29.6 0 0 1 137.1 319.8M145.0 370.5A50.1 25.2 0 0 1 140.3 327.0M161.9 357.1A17.3 8.7 0 0 1 156.4 342.3M158.1 363.9A26.9 13.5 0 0 1 150.6 340.8M172.8 338.1A10.3 5.1 0 0 1 172.7 347.0M158.0 352.3A20.1 10.1 0 0 1 157.2 334.8M163.7 351.7A11.4 5.7 0 0 1 160.4 341.9M180.6 338.3A22.0 11.0 0 0 1 176.5 357.3M176.8 345.1A12.7 6.4 0 0 1 170.8 355.8M152.8 356.7A30.4 15.3 0 0 1 152.1 330.3M158.5 356.1A21.6 10.8 0 0 1 155.3 337.4M175.4 342.7A11.8 5.9 0 0 1 171.4 352.8M171.6 349.5A4.0 2.0 0 0 1 165.7 351.2M173.3 341.8A9.0 4.5 0 0 1 170.9 349.6M190.2 328.5A42.0 21.1 0 0 1 187.0 365.0M186.4 335.3A32.5 16.3 0 0 1 181.2 363.4M184.6 329.1A33.1 16.6 0 0 1 183.8 357.8M180.8 335.9A23.5 11.8 0 0 1 178.0 356.3M163.8 349.2A9.6 4.8 0 0 1 161.9 340.9M175.3 328.5A19.6 9.8 0 0 1 179.4 345.4M170.4 328.1A12.9 6.5 0 0 1 177.2 338.8M164.2 332.9A4.1 2.1 0 0 1 171.3 333.1M159.4 330.6A8.5 4.3 0 0 1 170.2 325.6M154.7 337.3A17.5 8.8 0 0 1 164.0 322.9M171.9 317.4A21.8 11.0 0 0 1 184.1 335.3M172.8 305.5A30.7 15.4 0 0 1 191.2 330.6M154.8 321.2A12.9 6.5 0 0 1 173.2 314.8M150.1 324.0A19.4 9.8 0 0 1 169.2 310.1M157.7 314.1A12.2 6.1 0 0 1 178.7 315.1M176.7 295.7A42.1 21.1 0 0 1 198.7 330.6M168.8 300.5A28.8 14.5 0 0 1 192.0 322.7M145.9 319.0A23.9 12.0 0 0 1 169.9 302.1M149.6 314.6A18.2 9.1 0 0 1 174.3 304.7M171.8 293.5A37.1 18.7 0 0 1 197.5 323.2M153.2 306.8A15.9 8.0 0 0 1 180.6 305.4M161.6 298.5A22.6 11.4 0 0 1 189.5 312.3M157.0 301.8A17.8 8.9 0 0 1 185.3 308.0M167.4 289.0A34.8 17.5 0 0 1 197.9 315.1M140.8 310.0A28.6 14.4 0 0 1 172.5 290.8M147.4 302.9A20.4 10.2 0 0 1 179.9 296.0M156.5 293.5A22.1 11.1 0 0 1 189.8 303.1M152.4 296.9A19.5 9.8 0 0 1 185.8 299.4M167.5 279.8A40.9 20.6 0 0 1 203.2 310.6M133.7 307.2A37.7 18.9 0 0 1 170.5 280.1M135.5 300.0A33.6 16.9 0 0 1 175.4 278.8M166.8 271.9A45.3 22.7 0 0 1 207.3 305.6M146.0 289.6A23.6 11.9 0 0 1 186.6 287.3M168.5 264.7A51.9 26.1 0 0 1 212.2 304.2M148.8 277.2A28.1 14.1 0 0 1 195.1 284.7M142.7 281.3A27.3 13.7 0 0 1 189.8 278.9M138.2 285.8A29.6 14.9 0 0 1 184.9 275.2M160.0 265.7A42.1 21.2 0 0 1 207.4 293.5M133.7 287.6A34.2 17.1 0 0 1 181.6 270.2M154.5 266.6A36.9 18.5 0 0 1 204.0 286.9M128.8 287.1A39.8 20.0 0 0 1 179.4 263.5M147.5 268.3A32.2 16.2 0 0 1 199.5 278.5M142.3 272.7A30.1 15.1 0 0 1 194.4 274.0M157.1 258.5A44.1 22.1 0 0 1 210.0 286.2M151.5 259.1A39.3 19.7 0 0 1 206.8 279.0M134.6 272.5A33.9 17.0 0 0 1 190.6 263.7M138.4 265.7A33.5 16.8 0 0 1 196.4 265.2M162.8 342.1A7.3 3.7 0 0 1 165.4 335.9M156.5 346.9A19.3 9.7 0 0 1 159.5 330.1M151.7 344.6A25.4 12.8 0 0 1 158.4 322.7M147.0 351.3A36.2 18.2 0 0 1 152.2 319.9M164.3 331.3A4.8 2.4 0 0 1 172.3 332.4M165.2 319.5A12.4 6.2 0 0 1 179.4 327.6M147.1 335.2A28.0 14.1 0 0 1 161.4 311.9M142.5 338.0A36.4 18.3 0 0 1 157.4 307.2M150.1 328.0A20.7 10.4 0 0 1 166.9 312.1M169.0 309.7A23.1 11.6 0 0 1 186.9 327.7M161.2 314.5A12.6 6.3 0 0 1 180.2 319.8M138.3 333.0A40.5 20.3 0 0 1 158.1 299.2M142.0 328.6A33.0 16.6 0 0 1 162.5 301.8M164.2 307.5A19.2 9.6 0 0 1 185.7 320.2M145.5 320.8A24.9 12.5 0 0 1 168.8 302.5M154.0 312.5A14.2 7.1 0 0 1 177.7 309.4M149.4 315.8A18.6 9.4 0 0 1 173.5 305.1M159.8 303.0A18.5 9.3 0 0 1 186.1 312.2M133.2 324.0A44.4 22.3 0 0 1 160.7 287.9M139.8 316.9A31.9 16.0 0 0 1 168.1 293.0M148.9 307.5A18.8 9.4 0 0 1 178.0 300.2M144.8 310.8A23.6 11.9 0 0 1 174.0 296.5M159.9 293.7A24.2 12.1 0 0 1 191.4 307.6M126.0 321.1A54.0 27.1 0 0 1 158.7 277.1M127.8 314.0A48.5 24.3 0 0 1 163.7 275.9M159.2 285.9A28.5 14.3 0 0 1 195.5 302.7M138.3 303.6A30.6 15.3 0 0 1 174.8 284.4M160.8 278.7A34.5 17.3 0 0 1 200.4 301.2M141.2 291.2A26.6 13.4 0 0 1 183.3 281.8M135.1 295.3A33.3 16.7 0 0 1 178.0 275.9M130.6 299.8A40.1 20.1 0 0 1 173.1 272.3M152.4 279.6A28.0 14.0 0 0 1 195.6 290.6M126.0 301.6A46.8 23.5 0 0 1 169.8 267.2M146.9 280.6A26.5 13.3 0 0 1 192.2 284.0M121.2 301.1A53.7 27.0 0 0 1 167.6 260.6M139.9 282.3A28.7 14.4 0 0 1 187.7 275.6M134.7 286.7A33.0 16.6 0 0 1 182.6 271.1M149.5 272.4A30.7 15.4 0 0 1 198.2 283.2M143.8 273.1A29.7 14.9 0 0 1 195.0 276.1M126.9 286.4A42.1 21.1 0 0 1 178.8 260.7M130.7 279.6A37.0 18.6 0 0 1 184.6 262.3M161.4 347.3A12.1 6.1 0 0 1 161.7 336.7M156.6 345.0A18.2 9.1 0 0 1 160.6 329.3M151.9 351.7A29.0 14.5 0 0 1 154.4 326.5M169.2 331.7A8.9 4.5 0 0 1 174.5 339.0M170.1 319.9A17.8 8.9 0 0 1 181.7 334.2M152.0 335.6A20.8 10.4 0 0 1 163.6 318.5M147.3 338.4A29.2 14.6 0 0 1 159.7 313.8M155.0 328.4A13.9 7.0 0 0 1 169.2 318.7M173.9 310.1A29.2 14.6 0 0 1 189.2 334.3M166.0 314.9A16.3 8.2 0 0 1 182.5 326.4M143.2 333.4A33.3 16.7 0 0 1 160.4 305.8M146.9 329.0A25.8 13.0 0 0 1 164.8 308.4M169.1 307.9A24.3 12.2 0 0 1 188.0 326.8M150.4 321.2A18.3 9.2 0 0 1 171.0 309.1M158.9 312.9A12.7 6.4 0 0 1 180.0 316.0M154.3 316.2A13.5 6.8 0 0 1 175.8 311.7M164.7 303.4A22.3 11.2 0 0 1 188.3 318.8M138.0 324.3A37.2 18.7 0 0 1 162.9 294.5M144.7 317.3A25.1 12.6 0 0 1 170.3 299.6M153.8 307.9A15.3 7.7 0 0 1 180.2 306.8M149.6 311.2A18.0 9.0 0 0 1 176.3 303.1M164.8 294.1A28.5 14.3 0 0 1 193.6 314.2M130.9 321.5A46.8 23.5 0 0 1 160.9 283.7M132.7 314.4A41.4 20.8 0 0 1 165.9 282.5M164.1 286.3A32.9 16.5 0 0 1 197.7 309.3M143.2 304.0A24.7 12.4 0 0 1 177.1 291.0M165.7 279.1A39.3 19.7 0 0 1 202.6 307.8M146.0 291.6A23.1 11.6 0 0 1 185.6 288.4M140.0 295.7A27.7 13.9 0 0 1 180.2 282.5M135.4 300.2A33.7 16.9 0 0 1 175.3 278.9M157.2 280.0A30.6 15.4 0 0 1 197.8 297.2M130.9 301.9A40.1 20.1 0 0 1 172.0 273.8M151.8 281.0A27.0 13.6 0 0 1 194.5 290.5M126.1 301.5A46.8 23.5 0 0 1 169.8 267.2M144.7 282.7A26.1 13.1 0 0 1 190.0 282.2M139.6 287.1A28.3 14.2 0 0 1 184.9 277.6M154.4 272.8A33.0 16.6 0 0 1 200.4 289.8M148.7 273.5A30.0 15.0 0 0 1 197.2 282.7M131.8 286.8A36.2 18.2 0 0 1 181.1 267.3M135.6 280.0A32.3 16.2 0 0 1 186.9 268.9M162.9 340.1A6.3 3.1 0 0 1 166.6 335.0M158.2 346.8A16.8 8.5 0 0 1 160.4 332.2M175.4 326.9A20.7 10.4 0 0 1 180.4 344.7M176.3 315.1A29.3 14.7 0 0 1 187.6 340.0M158.3 330.7A9.9 5.0 0 0 1 169.5 324.2M153.6 333.5A17.6 8.8 0 0 1 165.6 319.5M161.2 323.6A8.1 4.1 0 0 1 175.1 324.4M180.1 305.2A40.9 20.5 0 0 1 195.1 340.0M172.3 310.0A27.0 13.6 0 0 1 188.4 332.1M149.4 328.6A21.9 11.0 0 0 1 166.3 311.5M153.1 324.1A15.3 7.7 0 0 1 170.7 314.1M175.3 303.1A35.5 17.9 0 0 1 193.9 332.6M156.7 316.3A11.8 5.9 0 0 1 176.9 314.8M165.1 308.1A19.8 9.9 0 0 1 185.9 321.7M160.5 311.4A14.0 7.0 0 0 1 181.7 317.4M170.9 298.6A32.7 16.4 0 0 1 194.2 324.5M144.3 319.5A26.3 13.2 0 0 1 168.8 300.2M150.9 312.4A16.7 8.4 0 0 1 176.2 305.3M160.0 303.1A18.6 9.3 0 0 1 186.1 312.5M155.9 306.4A15.4 7.7 0 0 1 182.2 308.8M171.0 289.3A38.9 19.5 0 0 1 199.5 319.9M137.2 316.7A35.7 17.9 0 0 1 166.8 289.5M138.9 309.5A31.0 15.6 0 0 1 171.8 288.2M170.3 281.4A43.2 21.7 0 0 1 203.6 315.0M149.4 299.2A19.6 9.8 0 0 1 183.0 296.7M171.9 274.3A49.9 25.0 0 0 1 208.5 313.5M152.3 286.7A24.2 12.1 0 0 1 191.5 294.1M146.2 290.8A23.2 11.7 0 0 1 186.1 288.2M141.7 295.4A26.0 13.1 0 0 1 181.2 284.6M163.5 275.2A39.5 19.8 0 0 1 203.7 302.9M137.2 297.1A31.0 15.6 0 0 1 178.0 279.5M158.0 276.2A33.7 16.9 0 0 1 200.4 296.3M132.3 296.6A37.0 18.6 0 0 1 175.8 272.9M151.0 277.9A28.4 14.2 0 0 1 195.9 287.9M145.8 282.2A26.0 13.1 0 0 1 190.8 283.4M160.6 268.0A41.2 20.7 0 0 1 206.4 295.6M154.9 268.6A35.9 18.1 0 0 1 203.1 288.4M138.0 282.0A30.1 15.1 0 0 1 187.0 273.0M141.8 275.2A29.4 14.8 0 0 1 192.8 274.6M162.9 349.2A10.9 5.5 0 0 1 161.4 339.7M180.2 329.2A26.4 13.3 0 0 1 181.5 352.2M181.1 317.4A34.8 17.5 0 0 1 188.7 347.4M163.0 333.1A4.7 2.3 0 0 1 170.6 331.7M158.4 335.9A11.3 5.7 0 0 1 166.7 326.9M166.0 325.9A9.0 4.5 0 0 1 176.2 331.9M184.9 307.6A46.3 23.2 0 0 1 196.2 347.4M177.1 312.4A32.1 16.1 0 0 1 189.5 339.5M154.2 330.9A15.7 7.9 0 0 1 167.4 319.0M157.9 326.5A9.8 4.9 0 0 1 171.8 321.6M180.1 305.4A40.7 20.4 0 0 1 195.0 340.0M161.4 318.7A10.4 5.2 0 0 1 178.0 322.3M169.9 310.4A23.7 11.9 0 0 1 187.0 329.2M165.3 313.7A16.3 8.2 0 0 1 182.8 324.8M175.7 300.9A37.5 18.8 0 0 1 195.3 332.0M149.1 321.8A20.3 10.2 0 0 1 169.9 307.7M155.7 314.8A12.7 6.4 0 0 1 177.3 312.8M164.8 305.4A21.2 10.6 0 0 1 187.2 319.9M160.7 308.7A15.6 7.9 0 0 1 183.3 316.2M175.8 291.6A43.5 21.9 0 0 1 200.6 327.4M141.9 319.0A29.5 14.8 0 0 1 167.9 296.9M143.7 311.9A25.1 12.6 0 0 1 172.9 295.6M175.1 283.8A47.7 24.0 0 0 1 204.7 322.5M154.2 301.5A17.5 8.8 0 0 1 184.1 304.1M176.7 276.6A54.5 27.4 0 0 1 209.6 321.0M157.1 289.1A25.0 12.6 0 0 1 192.6 301.6M151.0 293.2A21.1 10.6 0 0 1 187.2 295.7M146.5 297.7A21.7 10.9 0 0 1 182.3 292.0M168.3 277.5A43.3 21.7 0 0 1 204.8 310.4M141.9 299.4A25.8 12.9 0 0 1 179.1 287.0M162.8 278.5A36.6 18.4 0 0 1 201.5 303.7M137.1 299.0A31.4 15.8 0 0 1 176.8 280.4M155.8 280.2A29.5 14.8 0 0 1 197.0 295.4M150.6 284.6A24.9 12.5 0 0 1 191.9 290.8M165.4 270.3A44.7 22.5 0 0 1 207.4 303.0M159.7 271.0A38.5 19.3 0 0 1 204.2 295.9M142.8 284.3A26.5 13.3 0 0 1 188.1 280.5M146.6 277.5A27.8 13.9 0 0 1 193.9 282.0M184.9 322.5A37.3 18.7 0 0 1 187.7 354.9M185.8 310.7A45.7 22.9 0 0 1 194.9 350.2M167.7 326.3A10.7 5.4 0 0 1 176.8 334.4M163.1 329.1A5.7 2.9 0 0 1 172.9 329.7M170.7 319.2A19.0 9.5 0 0 1 182.4 334.7M189.6 300.9A57.2 28.7 0 0 1 202.4 350.2M181.8 305.6A42.9 21.5 0 0 1 195.7 342.3M158.9 324.2A8.9 4.5 0 0 1 173.6 321.7M162.6 319.7A10.3 5.2 0 0 1 178.0 324.3M184.8 298.7A51.6 25.9 0 0 1 201.2 342.8M166.1 311.9A18.3 9.2 0 0 1 184.2 325.0M174.6 303.7A34.2 17.2 0 0 1 193.2 331.9M170.0 307.0A26.1 13.1 0 0 1 189.0 327.6M180.4 294.2A48.2 24.2 0 0 1 201.5 334.7M153.8 315.1A14.0 7.0 0 0 1 176.1 310.4M160.4 308.0A15.9 8.0 0 0 1 183.5 315.6M169.5 298.7A30.9 15.5 0 0 1 193.4 322.7M165.4 302.0A24.0 12.0 0 0 1 189.5 319.0M180.5 284.9A54.2 27.2 0 0 1 206.8 330.2M146.6 312.3A21.5 10.8 0 0 1 174.1 299.7M148.4 305.1A19.3 9.7 0 0 1 179.1 298.4M179.8 277.0A58.3 29.3 0 0 1 210.9 325.2M158.9 294.8A22.8 11.5 0 0 1 190.3 306.9M181.4 269.9A65.1 32.7 0 0 1 215.8 323.8M161.8 282.3A33.1 16.6 0 0 1 198.8 304.3M155.7 286.4A25.8 12.9 0 0 1 193.4 298.5M151.2 291.0A22.0 11.1 0 0 1 188.5 294.8M173.0 270.8A53.4 26.8 0 0 1 211.0 313.1M146.6 292.7A22.5 11.3 0 0 1 185.3 289.8M167.5 271.8A46.1 23.2 0 0 1 207.7 306.5M141.8 292.2A26.0 13.1 0 0 1 183.0 283.1M160.5 273.5A37.6 18.9 0 0 1 203.2 298.1M155.3 277.8A30.6 15.4 0 0 1 198.1 293.6M170.1 263.6A54.6 27.4 0 0 1 213.6 305.8M164.4 264.2A47.6 23.9 0 0 1 210.4 298.6M147.5 277.6A27.8 13.9 0 0 1 194.3 283.2M151.3 270.8A32.4 16.3 0 0 1 200.1 284.8M168.6 330.6A8.9 4.5 0 0 1 174.8 337.7M150.5 346.3A28.2 14.2 0 0 1 156.8 321.9M145.8 349.1A36.9 18.5 0 0 1 152.8 317.2M153.4 339.2A20.2 10.1 0 0 1 162.3 322.2M172.4 320.8A20.3 10.2 0 0 1 182.3 337.7M164.5 325.6A8.0 4.0 0 0 1 175.6 329.8M141.7 344.1A40.7 20.4 0 0 1 153.5 309.2M145.4 339.7A32.8 16.5 0 0 1 157.9 311.8M167.6 318.6A15.5 7.8 0 0 1 181.1 330.3M148.9 331.9A23.9 12.0 0 0 1 164.2 312.6M157.4 323.6A10.3 5.2 0 0 1 173.1 319.5M152.8 326.9A16.5 8.3 0 0 1 168.9 315.1M163.2 314.1A14.1 7.1 0 0 1 181.5 322.3M136.5 335.1A44.2 22.2 0 0 1 156.1 297.9M143.2 328.0A31.0 15.5 0 0 1 163.5 303.1M152.3 318.6A15.6 7.8 0 0 1 173.4 310.2M148.1 321.9A21.6 10.8 0 0 1 169.4 306.5M163.3 304.9A20.0 10.1 0 0 1 186.8 317.7M129.4 332.2A53.7 27.0 0 0 1 154.1 287.2M131.2 325.1A47.8 24.0 0 0 1 159.0 285.9M162.6 297.0A24.4 12.3 0 0 1 190.9 312.7M141.7 314.7A28.6 14.4 0 0 1 170.2 294.4M164.2 289.8A30.7 15.4 0 0 1 195.8 311.3M144.5 302.3A23.1 11.6 0 0 1 178.7 291.8M138.5 306.4A30.9 15.5 0 0 1 173.3 286.0M133.9 310.9A38.5 19.3 0 0 1 168.5 282.3M155.7 290.7A23.3 11.7 0 0 1 191.0 300.6M129.4 312.7A45.6 22.9 0 0 1 165.2 277.3M150.3 291.7A21.7 10.9 0 0 1 187.6 294.0M124.5 312.2A52.7 26.4 0 0 1 163.0 270.7M143.2 293.4A24.7 12.4 0 0 1 183.1 285.6M138.1 297.8A30.0 15.1 0 0 1 178.0 281.1M152.9 283.6A26.0 13.1 0 0 1 193.6 293.3M147.2 284.2A25.0 12.6 0 0 1 190.4 286.2M130.3 297.5A39.9 20.0 0 0 1 174.2 270.8M134.1 290.8A33.9 17.0 0 0 1 180.0 272.3M149.6 358.1A36.1 18.1 0 0 1 149.6 326.7M144.9 360.9A44.7 22.5 0 0 1 145.7 322.0M152.5 351.0A27.7 13.9 0 0 1 155.2 326.9M171.5 332.6A11.5 5.8 0 0 1 175.2 342.5M163.6 337.4A4.3 2.2 0 0 1 168.5 334.6M140.7 355.9A48.3 24.3 0 0 1 146.4 314.0M144.4 351.5A40.3 20.2 0 0 1 150.8 316.6M166.6 330.4A6.8 3.4 0 0 1 173.9 335.0M148.0 343.7A30.8 15.5 0 0 1 157.0 317.3M156.4 335.4A14.0 7.0 0 0 1 166.0 324.2M151.8 338.7A22.4 11.3 0 0 1 161.8 319.9M162.3 326.0A7.1 3.5 0 0 1 174.3 327.0M135.6 346.9A51.4 25.8 0 0 1 148.9 302.7M142.3 339.8A37.6 18.9 0 0 1 156.3 307.8M151.3 330.4A19.7 9.9 0 0 1 166.2 315.0M147.2 333.8A27.3 13.7 0 0 1 162.2 311.3M162.3 316.7A12.0 6.0 0 0 1 179.6 322.4M128.5 344.1A60.8 30.6 0 0 1 146.9 292.0M130.3 336.9A54.6 27.4 0 0 1 151.9 290.7M161.6 308.8A16.2 8.1 0 0 1 183.7 317.5M140.8 326.5A34.0 17.1 0 0 1 163.1 299.2M163.3 301.6A22.1 11.1 0 0 1 188.6 316.0M143.6 314.1A25.8 13.0 0 0 1 171.6 296.6M137.6 318.2A35.6 17.9 0 0 1 166.2 290.7M133.0 322.7A44.1 22.2 0 0 1 161.3 287.1M154.8 302.6A17.1 8.6 0 0 1 183.8 305.4M128.5 324.5A51.7 26.0 0 0 1 158.0 282.0M149.3 303.5A18.8 9.4 0 0 1 180.5 298.8M123.6 324.0A58.9 29.6 0 0 1 155.8 275.4M142.3 305.2A25.8 13.0 0 0 1 175.9 290.4M137.1 309.6A33.5 16.8 0 0 1 170.8 285.9M152.0 295.4A20.1 10.1 0 0 1 186.4 298.1M146.3 296.0A22.1 11.1 0 0 1 183.2 290.9M129.4 309.4A44.6 22.4 0 0 1 167.1 275.5M133.2 302.6A37.2 18.7 0 0 1 172.8 277.1M163.0 345.2A8.6 4.3 0 0 1 163.7 337.7M170.6 335.3A8.6 4.3 0 0 1 173.2 342.7M189.5 317.0A47.5 23.8 0 0 1 193.2 358.2M181.7 321.8A33.0 16.6 0 0 1 186.5 350.3M158.8 340.3A12.5 6.3 0 0 1 164.4 329.8M162.5 335.8A5.4 2.7 0 0 1 168.8 332.4M184.7 314.8A41.6 20.9 0 0 1 192.0 350.8M166.1 328.1A7.8 3.9 0 0 1 175.0 333.1M174.5 319.8A23.8 12.0 0 0 1 184.0 340.0M169.9 323.1A15.5 7.8 0 0 1 179.8 335.6M180.3 310.3A38.0 19.1 0 0 1 192.3 342.8M153.7 331.2A16.6 8.3 0 0 1 166.9 318.5M160.3 324.2A8.1 4.1 0 0 1 174.3 323.6M169.4 314.8A20.3 10.2 0 0 1 184.2 330.7M165.3 318.1A13.4 6.7 0 0 1 180.3 327.0M180.4 301.0A43.9 22.0 0 0 1 197.6 338.2M146.6 328.4A26.1 13.1 0 0 1 164.9 307.7M148.3 321.3A21.1 10.6 0 0 1 169.9 306.4M179.7 293.1A47.9 24.0 0 0 1 201.7 333.3M158.8 310.9A13.7 6.9 0 0 1 181.1 314.9M181.3 286.0A54.7 27.4 0 0 1 206.6 331.8M161.7 298.4A22.7 11.4 0 0 1 189.6 312.3M155.6 302.6A17.1 8.6 0 0 1 184.2 306.5M151.1 307.1A17.0 8.6 0 0 1 179.3 302.8M172.9 286.9A42.8 21.5 0 0 1 201.8 321.2M146.6 308.8A21.2 10.7 0 0 1 176.1 297.8M167.4 287.9A35.5 17.8 0 0 1 198.5 314.5M141.7 308.4A27.1 13.6 0 0 1 173.9 291.2M160.4 289.6A27.2 13.7 0 0 1 194.0 306.2M155.2 294.0A21.3 10.7 0 0 1 188.9 301.6M170.0 279.7A43.9 22.1 0 0 1 204.5 313.8M164.3 280.3A37.0 18.6 0 0 1 201.2 306.7M147.4 293.7A21.9 11.0 0 0 1 185.1 291.3M151.2 286.9A23.9 12.0 0 0 1 190.9 292.8M175.3 332.5A17.1 8.6 0 0 1 177.1 347.4M194.2 314.2A56.1 28.2 0 0 1 197.1 363.0M186.4 319.0A41.6 20.9 0 0 1 190.4 355.1M163.5 337.5A4.5 2.2 0 0 1 168.4 334.5M167.2 333.1A5.6 2.8 0 0 1 172.7 337.1M189.4 312.0A50.2 25.2 0 0 1 195.9 355.5M170.7 325.3A15.2 7.6 0 0 1 179.0 337.8M179.2 317.0A32.2 16.2 0 0 1 187.9 344.7M174.6 320.3A23.6 11.9 0 0 1 183.7 340.3M185.0 307.5A46.4 23.3 0 0 1 196.3 347.5M158.4 328.4A9.4 4.7 0 0 1 170.9 323.2M165.0 321.4A11.1 5.6 0 0 1 178.3 328.3M174.1 312.0A28.2 14.2 0 0 1 188.2 335.5M170.0 315.3A20.6 10.3 0 0 1 184.2 331.7M185.1 298.2A52.3 26.2 0 0 1 201.6 342.9M151.2 325.6A18.3 9.2 0 0 1 168.9 312.4M153.0 318.5A14.7 7.4 0 0 1 173.9 311.1M184.4 290.4A56.1 28.2 0 0 1 205.7 338.0M163.5 308.1A18.2 9.1 0 0 1 185.1 319.7M186.0 283.2A62.9 31.6 0 0 1 210.6 336.5M166.4 295.7A29.2 14.7 0 0 1 193.6 317.1M160.3 299.8A20.8 10.4 0 0 1 188.2 311.2M155.7 304.3A16.3 8.2 0 0 1 183.3 307.5M177.6 284.1A50.7 25.5 0 0 1 205.8 325.9M151.2 306.0A17.1 8.6 0 0 1 180.0 302.5M172.1 285.1A43.0 21.6 0 0 1 202.4 319.2M146.4 305.6A21.3 10.7 0 0 1 177.8 295.9M165.1 286.8A33.6 16.9 0 0 1 197.9 310.9M159.9 291.2A25.8 13.0 0 0 1 192.8 306.3M174.7 276.9A51.6 25.9 0 0 1 208.4 318.5M169.0 277.6A44.2 22.2 0 0 1 205.2 311.4M152.1 290.9A22.1 11.1 0 0 1 189.0 296.0M155.9 284.1A27.2 13.7 0 0 1 194.8 297.6M186.6 324.1A39.0 19.6 0 0 1 187.7 358.0M178.7 328.9A24.4 12.3 0 0 1 181.0 350.1M155.9 347.4A20.6 10.4 0 0 1 158.9 329.5M159.6 343.0A12.6 6.4 0 0 1 163.3 332.1M181.8 321.9A33.0 16.6 0 0 1 186.4 350.6M163.1 335.2A4.6 2.3 0 0 1 169.5 332.8M171.6 326.9A15.3 7.7 0 0 1 178.5 339.7M167.0 330.2A7.3 3.7 0 0 1 174.3 335.4M177.4 317.4A29.4 14.8 0 0 1 186.8 342.5M150.7 338.4A24.0 12.0 0 0 1 161.4 318.2M157.4 331.3A11.2 5.6 0 0 1 168.8 323.4M166.5 321.9A12.1 6.1 0 0 1 178.7 330.5M162.3 325.2A7.4 3.7 0 0 1 174.7 326.8M177.5 308.1A35.3 17.7 0 0 1 192.1 338.0M143.6 335.5A33.5 16.8 0 0 1 159.4 307.5M145.4 328.4A27.8 13.9 0 0 1 164.4 306.2M176.8 300.3A39.3 19.7 0 0 1 196.2 333.0M155.9 318.0A12.0 6.0 0 0 1 175.6 314.7M178.4 293.1A46.1 23.2 0 0 1 201.1 331.6M158.7 305.6A16.4 8.3 0 0 1 184.1 312.1M152.7 309.7A15.5 7.8 0 0 1 178.7 306.3M148.1 314.2A20.0 10.0 0 0 1 173.8 302.6M169.9 294.0A34.5 17.3 0 0 1 196.3 320.9M143.6 316.0A26.2 13.2 0 0 1 170.5 297.6M164.5 295.0A27.6 13.8 0 0 1 193.0 314.3M138.8 315.5A33.0 16.6 0 0 1 168.3 290.9M157.4 296.7A20.8 10.4 0 0 1 188.4 305.9M152.3 301.1A17.9 9.0 0 0 1 183.3 301.4M167.1 286.9A35.8 18.0 0 0 1 198.9 313.6M161.4 287.5A29.4 14.8 0 0 1 195.7 306.4M144.5 300.8A23.2 11.6 0 0 1 179.6 291.0M148.3 294.0A21.4 10.8 0 0 1 185.3 292.6M159.8 347.2A14.6 7.3 0 0 1 160.9 334.6M136.9 365.8A59.5 29.9 0 0 1 138.9 314.0M140.6 361.3A51.5 25.8 0 0 1 143.3 316.6M162.8 340.3A6.4 3.2 0 0 1 166.4 335.0M144.2 353.5A41.8 21.0 0 0 1 149.5 317.3M152.6 345.3A24.5 12.3 0 0 1 158.4 324.2M148.0 348.6A33.2 16.7 0 0 1 154.2 319.8M158.4 335.8A11.2 5.6 0 0 1 166.8 327.0M131.8 356.7A62.4 31.3 0 0 1 141.4 302.7M138.4 349.6A48.5 24.3 0 0 1 148.8 307.8M147.5 340.3A29.8 15.0 0 0 1 158.7 315.0M143.4 343.6A37.8 19.0 0 0 1 154.7 311.2M158.5 326.5A9.1 4.6 0 0 1 172.1 322.4M124.7 353.9A71.7 36.0 0 0 1 139.4 291.9M126.4 346.7A65.3 32.8 0 0 1 144.4 290.6M157.8 318.6A10.7 5.4 0 0 1 176.2 317.5M136.9 336.4A44.1 22.2 0 0 1 155.6 299.2M159.4 311.5A13.5 6.8 0 0 1 181.1 316.0M139.8 323.9A34.4 17.3 0 0 1 164.1 296.6M133.7 328.0A45.3 22.7 0 0 1 158.7 290.7M129.2 332.6A54.2 27.2 0 0 1 153.8 287.0M151.0 312.4A16.7 8.4 0 0 1 176.3 305.4M124.7 334.3A61.9 31.1 0 0 1 150.5 282.0M145.5 313.4A23.1 11.6 0 0 1 172.9 298.7M119.8 333.8A69.2 34.7 0 0 1 148.3 275.4M138.5 315.1A33.2 16.7 0 0 1 168.4 290.4M133.3 319.4A42.3 21.3 0 0 1 163.3 285.8M148.1 305.2A19.6 9.8 0 0 1 178.9 298.0M142.5 305.8A25.7 12.9 0 0 1 175.7 290.9M125.5 319.2A53.9 27.1 0 0 1 159.5 275.5M129.3 312.4A45.6 22.9 0 0 1 165.3 277.1M144.8 361.0A45.0 22.6 0 0 1 145.6 321.9M148.5 356.5A36.9 18.5 0 0 1 150.0 324.5M170.7 335.5A8.6 4.3 0 0 1 173.1 342.9M152.0 348.8A27.2 13.7 0 0 1 156.2 325.2M160.5 340.5A10.0 5.0 0 0 1 165.1 332.1M155.9 343.8A18.7 9.4 0 0 1 160.9 327.7M166.3 331.0A6.1 3.1 0 0 1 173.5 334.9M139.7 351.9A47.8 24.0 0 0 1 148.1 310.6M146.3 344.9A33.9 17.0 0 0 1 155.5 315.7M155.4 335.5A15.6 7.8 0 0 1 165.4 322.8M151.3 338.8A23.4 11.7 0 0 1 161.4 319.1M166.4 321.7A12.2 6.1 0 0 1 178.8 330.3M132.5 349.1A57.2 28.7 0 0 1 146.1 299.8M134.3 341.9A50.8 25.5 0 0 1 151.1 298.5M165.7 313.8A16.6 8.3 0 0 1 182.9 325.4M144.8 331.6A30.0 15.0 0 0 1 162.3 307.0M167.3 306.7A23.1 11.6 0 0 1 187.8 323.9M147.7 319.1A21.5 10.8 0 0 1 170.8 304.5M141.6 323.2A31.5 15.8 0 0 1 165.4 298.6M137.0 327.8A40.1 20.1 0 0 1 160.5 294.9M158.9 307.6A15.4 7.7 0 0 1 183.0 313.3M132.5 329.5A47.7 24.0 0 0 1 157.2 289.9M153.4 308.6A15.3 7.7 0 0 1 179.6 306.6M127.7 329.1A54.9 27.6 0 0 1 155.0 283.3M146.4 310.3A21.6 10.8 0 0 1 175.1 298.3M141.2 314.7A29.3 14.7 0 0 1 170.0 293.7M156.0 300.4A18.2 9.2 0 0 1 185.6 305.9M150.3 301.0A18.7 9.4 0 0 1 182.4 298.8M133.4 314.4A40.4 20.3 0 0 1 166.2 283.4M137.2 307.6A32.9 16.5 0 0 1 172.0 284.9M171.4 338.0A8.1 4.1 0 0 1 172.0 345.0M193.6 317.0A53.5 26.9 0 0 1 195.2 363.5M174.9 330.2A18.0 9.0 0 0 1 178.3 345.8M183.4 322.0A35.4 17.8 0 0 1 187.2 352.7M178.8 325.3A26.6 13.4 0 0 1 183.0 348.3M189.2 312.5A49.6 24.9 0 0 1 195.6 355.5M162.5 333.4A5.1 2.6 0 0 1 170.2 331.1M169.2 326.3A12.4 6.2 0 0 1 177.6 336.3M178.2 316.9A30.9 15.5 0 0 1 187.5 343.4M174.1 320.3A23.0 11.5 0 0 1 183.5 339.7M189.3 303.2A55.2 27.7 0 0 1 200.9 350.9M155.4 330.6A13.8 7.0 0 0 1 168.2 320.4M157.2 323.4A10.5 5.3 0 0 1 173.2 319.1M188.5 295.3A59.0 29.6 0 0 1 205.0 345.9M167.7 313.1A19.3 9.7 0 0 1 184.3 327.6M190.2 288.1A65.8 33.0 0 0 1 209.9 344.5M170.5 300.6A30.9 15.5 0 0 1 192.8 325.0M164.5 304.7A21.3 10.7 0 0 1 187.5 319.2M159.9 309.3A14.9 7.5 0 0 1 182.6 315.5M181.7 289.1A53.2 26.7 0 0 1 205.1 333.8M155.4 311.0A13.8 6.9 0 0 1 179.3 310.5M176.2 290.1A45.2 22.7 0 0 1 201.7 327.2M150.5 310.5A17.2 8.6 0 0 1 177.1 303.9M169.2 291.8A35.1 17.6 0 0 1 197.2 318.8M164.1 296.1A26.4 13.3 0 0 1 192.1 314.3M178.9 281.9A53.9 27.1 0 0 1 207.7 326.5M173.2 282.5A46.1 23.1 0 0 1 204.5 319.4M156.3 295.9A20.7 10.4 0 0 1 188.3 304.0M160.1 289.1A27.3 13.7 0 0 1 194.1 305.5M189.9 321.4A45.4 22.8 0 0 1 190.8 360.9M171.2 334.7A9.9 5.0 0 0 1 173.9 343.2M179.7 326.4A27.3 13.7 0 0 1 182.8 350.1M175.1 329.7A18.5 9.3 0 0 1 178.6 345.7M185.5 316.9A41.5 20.8 0 0 1 191.2 352.9M158.8 337.8A11.4 5.7 0 0 1 165.8 328.5M165.5 330.8A5.6 2.8 0 0 1 173.2 333.7M174.5 321.4A22.9 11.5 0 0 1 183.1 340.8M170.4 324.7A15.1 7.6 0 0 1 179.1 337.1M185.6 307.6A47.2 23.7 0 0 1 196.5 348.3M151.7 335.0A21.0 10.5 0 0 1 163.8 317.8M153.5 327.9A15.8 7.9 0 0 1 168.8 316.5M184.8 299.7A51.0 25.6 0 0 1 200.6 343.3M164.0 317.5A12.6 6.3 0 0 1 180.0 325.0M186.5 292.6A57.7 29.0 0 0 1 205.5 341.9M166.8 305.1A23.6 11.8 0 0 1 188.5 322.4M160.8 309.2A15.4 7.8 0 0 1 183.1 316.6M156.2 313.7A12.7 6.4 0 0 1 178.2 312.9M178.0 293.5A45.3 22.8 0 0 1 200.7 331.2M151.7 315.4A16.0 8.0 0 0 1 174.9 307.9M172.5 294.5A37.4 18.8 0 0 1 197.3 324.6M146.8 315.0A21.7 10.9 0 0 1 172.7 301.3M165.5 296.2A27.9 14.0 0 0 1 192.8 316.2M160.4 300.6A20.3 10.2 0 0 1 187.7 311.7M175.2 286.3A46.1 23.2 0 0 1 203.3 323.9M169.5 287.0A38.6 19.4 0 0 1 200.1 316.8M152.6 300.3A18.1 9.1 0 0 1 183.9 301.4M156.4 293.5A22.1 11.1 0 0 1 189.7 302.9M149.0 355.7A35.6 17.9 0 0 1 150.7 324.7M157.5 347.4A18.2 9.2 0 0 1 159.7 331.6M152.9 350.7A27.0 13.6 0 0 1 155.5 327.3M163.3 338.0A4.9 2.4 0 0 1 168.0 334.4M136.6 358.9A56.2 28.2 0 0 1 142.6 310.1M143.3 351.8A42.2 21.2 0 0 1 150.0 315.2M152.3 342.4A23.5 11.8 0 0 1 159.9 322.4M148.2 345.8A31.5 15.8 0 0 1 155.9 318.7M163.4 328.7A5.9 3.0 0 0 1 173.3 329.8M129.5 356.1A65.5 32.9 0 0 1 140.6 299.4M131.3 348.9A59.0 29.6 0 0 1 145.6 298.1M162.6 320.8A9.8 4.9 0 0 1 177.4 324.9M141.8 338.5A37.8 19.0 0 0 1 156.8 306.6M164.3 313.6A15.3 7.7 0 0 1 182.3 323.4M144.6 326.1A28.1 14.1 0 0 1 165.3 304.0M138.6 330.2A38.9 19.5 0 0 1 159.9 298.1M134.0 334.7A47.9 24.0 0 0 1 155.0 294.5M155.8 314.6A12.7 6.4 0 0 1 177.5 312.8M129.5 336.5A55.6 27.9 0 0 1 151.7 289.4M150.3 315.5A17.5 8.8 0 0 1 174.2 306.2M124.6 336.0A62.8 31.5 0 0 1 149.5 282.8M143.3 317.2A27.0 13.6 0 0 1 169.6 297.8M138.2 321.6A36.0 18.1 0 0 1 164.5 293.3M153.0 307.4A15.8 8.0 0 0 1 180.1 305.5M147.3 308.0A20.4 10.2 0 0 1 176.9 298.3M130.4 321.4A47.5 23.9 0 0 1 160.8 282.9M134.2 314.6A39.3 19.7 0 0 1 166.5 284.5M176.1 334.2A17.4 8.8 0 0 1 176.6 349.4M171.5 337.5A8.7 4.3 0 0 1 172.4 345.0M181.9 324.7A31.6 15.9 0 0 1 185.0 352.2M155.3 345.6A20.6 10.3 0 0 1 159.6 327.8M161.9 338.5A7.1 3.5 0 0 1 167.0 333.0M171.0 329.2A13.0 6.5 0 0 1 176.9 340.1M166.9 332.5A5.7 2.8 0 0 1 172.9 336.4M182.0 315.4A37.3 18.7 0 0 1 190.3 347.6M148.1 342.8A30.1 15.1 0 0 1 157.6 317.1M149.9 335.6A24.0 12.0 0 0 1 162.5 315.8M181.3 307.5A41.1 20.6 0 0 1 194.4 342.6M160.4 325.3A7.8 3.9 0 0 1 173.7 324.3M182.9 300.4A47.8 24.0 0 0 1 199.3 341.2M163.3 312.8A15.0 7.5 0 0 1 182.2 321.7M157.2 316.9A11.4 5.7 0 0 1 176.8 315.9M152.7 321.5A15.4 7.8 0 0 1 172.0 312.2M174.5 301.3A35.5 17.9 0 0 1 194.5 330.5M148.1 323.2A21.9 11.0 0 0 1 168.7 307.2M169.0 302.3A27.9 14.0 0 0 1 191.1 323.9M143.3 322.8A28.8 14.5 0 0 1 166.5 300.6M162.0 304.0A19.5 9.8 0 0 1 186.6 315.5M156.8 308.3A14.6 7.3 0 0 1 181.5 311.0M171.6 294.1A36.5 18.3 0 0 1 197.1 323.2M165.9 294.7A29.3 14.7 0 0 1 193.9 316.1M149.0 308.1A18.6 9.4 0 0 1 177.7 300.7M152.8 301.3A17.7 8.9 0 0 1 183.5 302.2M163.1 345.7A8.8 4.4 0 0 1 163.5 338.1M173.5 333.0A14.2 7.1 0 0 1 176.0 345.3M146.8 353.9A37.9 19.1 0 0 1 150.6 320.9M153.5 346.8A24.0 12.1 0 0 1 158.0 326.1M162.5 337.4A5.8 2.9 0 0 1 167.9 333.2M158.4 340.8A13.3 6.7 0 0 1 163.9 329.5M173.5 323.7A20.0 10.1 0 0 1 181.3 340.7M139.7 351.1A47.3 23.7 0 0 1 148.6 310.2M141.5 343.9A40.9 20.5 0 0 1 153.6 308.9M172.8 315.8A24.1 12.1 0 0 1 185.4 335.7M152.0 333.5A20.0 10.0 0 0 1 164.8 317.4M174.5 308.6A30.9 15.5 0 0 1 190.3 334.3M154.8 321.1A12.9 6.5 0 0 1 173.3 314.8M148.8 325.2A21.7 10.9 0 0 1 167.9 309.0M144.2 329.7A30.1 15.1 0 0 1 163.0 305.3M166.0 309.6A19.7 9.9 0 0 1 185.5 323.6M139.7 331.5A37.7 18.9 0 0 1 159.7 300.3M160.5 310.5A14.5 7.3 0 0 1 182.2 317.0M134.8 331.0A44.9 22.6 0 0 1 157.5 293.6M153.5 312.2A14.5 7.3 0 0 1 177.6 308.6M148.3 316.6A20.1 10.1 0 0 1 172.5 304.1M163.2 302.4A21.5 10.8 0 0 1 188.1 316.3M157.5 303.0A17.3 8.7 0 0 1 184.9 309.1M140.6 316.4A30.7 15.4 0 0 1 168.7 293.8M144.4 309.6A23.9 12.0 0 0 1 174.5 295.3M178.1 329.7A23.0 11.5 0 0 1 180.2 349.6M151.4 350.6A29.2 14.6 0 0 1 154.8 325.3M158.1 343.5A15.2 7.7 0 0 1 162.2 330.4M167.1 334.1A4.9 2.4 0 0 1 172.1 337.6M163.0 337.5A5.1 2.6 0 0 1 168.1 333.9M178.1 320.4A28.6 14.4 0 0 1 185.5 345.0M144.3 347.8A38.5 19.3 0 0 1 152.8 314.5M146.1 340.6A32.2 16.2 0 0 1 157.8 313.2M177.4 312.5A32.5 16.3 0 0 1 189.6 340.1M156.6 330.3A12.1 6.1 0 0 1 169.0 321.8M179.1 305.3A39.3 19.7 0 0 1 194.5 338.6M159.4 317.8A10.5 5.3 0 0 1 177.5 319.2M153.4 321.9A14.6 7.4 0 0 1 172.1 313.3M148.8 326.5A22.0 11.1 0 0 1 167.2 309.7M170.6 306.3A27.3 13.7 0 0 1 189.7 328.0M144.3 328.2A29.4 14.7 0 0 1 163.9 304.6M165.1 307.3A20.3 10.2 0 0 1 186.4 321.3M139.4 327.7A36.5 18.3 0 0 1 161.7 298.0M158.1 309.0A14.5 7.3 0 0 1 181.8 313.0M152.9 313.3A14.8 7.5 0 0 1 176.7 308.4M167.8 299.1A28.5 14.3 0 0 1 192.3 320.6M162.1 299.7A22.2 11.2 0 0 1 189.1 313.5M145.2 313.1A23.5 11.8 0 0 1 172.9 298.1M149.0 306.3A18.8 9.4 0 0 1 178.7 299.7M141.0 363.4A52.0 26.1 0 0 1 142.3 318.1M147.6 356.3A38.0 19.1 0 0 1 149.7 323.3M156.7 346.9A19.1 9.6 0 0 1 159.6 330.4M152.6 350.3A27.1 13.6 0 0 1 155.6 326.7M167.7 333.2A6.2 3.1 0 0 1 173.0 337.9M133.9 360.6A61.3 30.8 0 0 1 140.3 307.4M135.7 353.4A54.7 27.5 0 0 1 145.2 306.1M167.0 325.3A10.5 5.3 0 0 1 177.1 332.9M146.2 343.0A33.2 16.7 0 0 1 156.4 314.6M168.7 318.1A17.1 8.6 0 0 1 182.0 331.5M149.0 330.6A23.3 11.7 0 0 1 164.9 312.0M142.9 334.7A34.2 17.2 0 0 1 159.5 306.2M138.4 339.2A43.3 21.7 0 0 1 154.7 302.5M160.2 319.1A10.0 5.0 0 0 1 177.2 320.8M133.9 341.0A51.0 25.6 0 0 1 151.4 297.5M154.7 320.0A12.9 6.5 0 0 1 173.8 314.2M129.0 340.5A58.3 29.3 0 0 1 149.2 290.8M147.7 321.7A22.1 11.1 0 0 1 169.3 305.8M142.5 326.1A31.2 15.7 0 0 1 164.2 301.3M157.3 311.9A13.1 6.6 0 0 1 179.8 313.5M151.7 312.5A16.0 8.0 0 0 1 176.6 306.3M134.8 325.9A42.8 21.5 0 0 1 160.4 291.0M138.6 319.1A34.5 17.3 0 0 1 166.2 292.5M174.3 335.4A14.0 7.0 0 0 1 175.0 347.6M183.4 326.0A33.0 16.6 0 0 1 185.0 354.7M179.3 329.3A25.0 12.5 0 0 1 181.0 351.0M194.4 312.2A57.5 28.9 0 0 1 198.3 362.2M160.5 339.6A9.6 4.8 0 0 1 165.6 331.7M162.3 332.5A5.3 2.7 0 0 1 170.6 330.4M193.7 304.4A61.0 30.6 0 0 1 202.4 357.3M172.8 322.1A20.0 10.0 0 0 1 181.8 338.9M195.3 297.2A67.7 34.0 0 0 1 207.3 355.8M175.6 309.7A31.8 16.0 0 0 1 190.3 336.3M169.6 313.8A21.1 10.6 0 0 1 184.9 330.5M165.0 318.3A13.0 6.6 0 0 1 180.0 326.8M186.8 298.1A54.8 27.5 0 0 1 202.5 345.2M160.5 320.0A9.6 4.8 0 0 1 176.8 321.8M181.4 299.1A46.4 23.3 0 0 1 199.2 338.5M155.7 319.6A12.0 6.0 0 0 1 174.6 315.2M174.4 300.8A35.7 17.9 0 0 1 194.7 330.2M169.2 305.2A26.3 13.2 0 0 1 189.6 325.6M184.0 290.9A55.2 27.7 0 0 1 205.2 337.8M178.3 291.6A47.0 23.6 0 0 1 201.9 330.7M161.4 304.9A18.4 9.3 0 0 1 185.8 315.3M165.2 298.1A26.3 13.2 0 0 1 191.6 316.8M176.7 333.1A19.0 9.5 0 0 1 177.6 349.6M172.6 336.4A10.9 5.5 0 0 1 173.6 345.9M187.7 319.3A43.4 21.8 0 0 1 191.0 357.1M153.9 346.7A23.3 11.7 0 0 1 158.3 326.6M155.7 339.5A17.0 8.5 0 0 1 163.2 325.3M187.0 311.4A47.0 23.6 0 0 1 195.1 352.1M166.2 329.2A7.1 3.6 0 0 1 174.4 333.8M188.7 304.3A53.7 27.0 0 0 1 200.0 350.7M169.0 316.7A18.5 9.3 0 0 1 182.9 331.2M162.9 320.8A9.9 5.0 0 0 1 177.5 325.4M158.4 325.4A9.3 4.7 0 0 1 172.6 321.7M180.2 305.2A41.0 20.6 0 0 1 195.1 340.0M153.9 327.1A15.0 7.5 0 0 1 169.4 316.7M174.7 306.2A32.8 16.5 0 0 1 191.8 333.4M149.0 326.7A21.8 10.9 0 0 1 167.2 310.0M167.7 307.9A22.7 11.4 0 0 1 187.3 325.0M162.5 312.2A14.8 7.4 0 0 1 182.2 320.5M177.3 298.0A41.5 20.9 0 0 1 197.8 332.7M171.7 298.6A33.6 16.9 0 0 1 194.6 325.5M154.8 312.0A13.8 6.9 0 0 1 178.4 310.1M158.6 305.2A16.6 8.3 0 0 1 184.2 311.7M163.5 345.8A8.1 4.1 0 0 1 163.7 338.7M178.7 328.7A24.4 12.3 0 0 1 181.0 349.9M144.8 356.1A42.2 21.2 0 0 1 148.3 319.4M146.6 348.9A35.6 17.9 0 0 1 153.3 318.1M177.9 320.8A28.1 14.1 0 0 1 185.1 345.0M157.1 338.6A14.4 7.2 0 0 1 164.5 326.6M179.6 313.7A34.9 17.5 0 0 1 190.0 343.5M159.9 326.1A7.9 4.0 0 0 1 173.0 324.1M153.9 330.2A15.9 8.0 0 0 1 167.6 318.2M149.3 334.8A24.5 12.3 0 0 1 162.7 314.5M171.1 314.6A22.6 11.3 0 0 1 185.2 332.9M144.8 336.5A32.2 16.2 0 0 1 159.5 309.5M165.7 315.6A15.4 7.7 0 0 1 181.9 326.2M139.9 336.0A39.4 19.8 0 0 1 157.3 302.9M158.6 317.3A10.8 5.4 0 0 1 177.4 317.9M153.5 321.6A14.5 7.3 0 0 1 172.3 313.3M168.3 307.4A23.7 11.9 0 0 1 187.9 325.5M162.6 308.0A17.4 8.8 0 0 1 184.6 318.4M145.7 321.4A24.9 12.5 0 0 1 168.5 303.0M149.5 314.6A18.4 9.2 0 0 1 174.3 304.5M182.8 325.4A32.5 16.3 0 0 1 185.0 353.6M148.9 352.7A34.1 17.1 0 0 1 152.3 323.1M150.7 345.6A27.6 13.8 0 0 1 157.3 321.8M182.1 317.5A36.1 18.1 0 0 1 189.1 348.7M161.2 335.2A7.0 3.5 0 0 1 168.5 330.4M183.7 310.3A42.8 21.5 0 0 1 194.0 347.2M164.0 322.8A9.4 4.7 0 0 1 177.0 327.8M158.0 326.9A9.7 4.9 0 0 1 171.6 321.9M153.4 331.4A17.0 8.5 0 0 1 166.7 318.2M175.2 311.2A30.2 15.2 0 0 1 189.2 336.6M148.9 333.2A24.4 12.3 0 0 1 163.4 313.2M169.8 312.2A22.4 11.2 0 0 1 185.9 329.9M144.1 332.7A31.6 15.9 0 0 1 161.2 306.6M162.7 313.9A13.9 7.0 0 0 1 181.4 321.6M157.6 318.3A10.9 5.5 0 0 1 176.3 317.0M172.4 304.1A31.0 15.6 0 0 1 191.8 329.2M166.7 304.7A23.7 11.9 0 0 1 188.6 322.1M149.8 318.0A18.5 9.3 0 0 1 172.5 306.7M153.6 311.3A14.6 7.4 0 0 1 178.2 308.3M133.8 369.8A66.5 33.4 0 0 1 135.0 312.0M135.6 362.7A59.8 30.1 0 0 1 139.9 310.7M166.9 334.6A4.4 2.2 0 0 1 171.8 337.5M146.1 352.3A38.2 19.2 0 0 1 151.1 319.2M168.6 327.4A11.0 5.5 0 0 1 176.7 336.0M148.9 339.9A27.5 13.8 0 0 1 159.6 316.6M142.9 344.0A38.8 19.5 0 0 1 154.2 310.7M138.3 348.5A48.1 24.1 0 0 1 149.3 307.1M160.1 328.3A7.6 3.8 0 0 1 171.8 325.4M133.8 350.3A55.9 28.1 0 0 1 146.1 302.1M154.6 329.3A14.5 7.3 0 0 1 168.5 318.8M128.9 349.8A63.1 31.7 0 0 1 143.9 295.4M147.6 331.0A25.5 12.8 0 0 1 164.0 310.4M142.5 335.4A35.2 17.7 0 0 1 158.9 305.9M157.3 321.2A10.6 5.3 0 0 1 174.5 318.1M151.6 321.8A16.9 8.5 0 0 1 171.2 310.9M134.7 335.1A47.0 23.6 0 0 1 155.1 295.5M138.5 328.4A38.2 19.2 0 0 1 160.9 297.1M169.4 335.3A7.0 3.5 0 0 1 172.6 341.2M200.8 307.2A70.0 35.1 0 0 1 204.4 368.0M179.9 324.9A28.5 14.3 0 0 1 183.8 349.7M202.4 300.0A76.6 38.5 0 0 1 209.3 366.5M182.8 312.5A40.2 20.2 0 0 1 192.3 347.1M176.7 316.6A28.9 14.5 0 0 1 186.9 341.2M172.2 321.1A19.7 9.9 0 0 1 182.0 337.6M194.0 301.0A63.5 31.9 0 0 1 204.5 355.9M167.7 322.9A12.8 6.4 0 0 1 178.8 332.5M188.5 301.9A54.9 27.6 0 0 1 201.2 349.3M162.8 322.4A8.9 4.5 0 0 1 176.6 325.9M181.5 303.6A43.7 22.0 0 0 1 196.7 340.9M176.3 308.0A33.8 17.0 0 0 1 191.6 336.4M191.1 293.8A63.7 32.0 0 0 1 207.2 348.5M185.4 294.4A55.1 27.7 0 0 1 203.9 341.4M168.5 307.7A23.8 11.9 0 0 1 187.8 326.0M172.3 301.0A33.0 16.6 0 0 1 193.6 327.6M199.0 314.3A63.2 31.7 0 0 1 199.5 369.3M178.2 332.1A21.7 10.9 0 0 1 178.8 351.0M200.6 307.2A69.8 35.0 0 0 1 204.4 367.8M181.0 319.6A33.2 16.7 0 0 1 187.3 348.4M174.9 323.8A22.0 11.0 0 0 1 182.0 342.5M170.4 328.3A12.7 6.4 0 0 1 177.1 338.9M192.2 308.1A56.6 28.4 0 0 1 199.6 357.2M165.9 330.0A6.3 3.2 0 0 1 173.8 333.8M186.7 309.1A48.0 24.1 0 0 1 196.2 350.5M161.0 329.6A6.7 3.4 0 0 1 171.6 327.2M179.7 310.8A36.8 18.5 0 0 1 191.7 342.2M174.5 315.2A26.8 13.4 0 0 1 186.6 337.6M189.3 300.9A56.7 28.5 0 0 1 202.2 349.8M183.7 301.5A48.1 24.2 0 0 1 199.0 342.7M166.7 314.9A17.0 8.6 0 0 1 182.8 327.3M170.5 308.1A26.0 13.1 0 0 1 188.6 328.9M146.8 360.2A41.5 20.8 0 0 1 147.0 324.1M169.3 335.3A6.8 3.4 0 0 1 172.5 341.0M149.6 347.8A30.4 15.2 0 0 1 155.5 321.5M143.6 351.9A41.8 21.0 0 0 1 150.1 315.7M139.0 356.4A51.2 25.7 0 0 1 145.2 312.0M160.8 336.2A7.8 3.9 0 0 1 167.7 330.3M134.5 358.1A59.0 29.6 0 0 1 142.0 307.0M155.4 337.2A16.4 8.2 0 0 1 164.4 323.7M129.6 357.7A66.2 33.2 0 0 1 139.8 300.4M148.3 338.9A27.9 14.0 0 0 1 159.9 315.3M143.2 343.3A37.9 19.1 0 0 1 154.8 310.8M158.0 329.0A10.0 5.0 0 0 1 170.4 323.0M152.3 329.7A18.0 9.1 0 0 1 167.1 315.9M135.4 343.0A49.7 25.0 0 0 1 151.0 300.5M139.2 336.2A40.6 20.4 0 0 1 156.8 302.0M190.1 317.5A48.1 24.1 0 0 1 193.2 359.3M170.5 330.0A11.8 5.9 0 0 1 176.1 339.9M164.4 334.1A3.7 1.8 0 0 1 170.8 334.0M159.9 338.7A10.2 5.1 0 0 1 165.9 330.3M181.7 318.5A35.0 17.6 0 0 1 188.4 348.7M155.4 340.4A17.8 8.9 0 0 1 162.6 325.3M176.2 319.4A26.5 13.3 0 0 1 185.0 342.0M150.5 339.9A25.1 12.6 0 0 1 160.4 318.7M169.2 321.1A15.8 7.9 0 0 1 180.5 333.7M164.0 325.5A7.8 3.9 0 0 1 175.4 329.1M178.8 311.3A35.2 17.7 0 0 1 191.0 341.3M173.2 311.9A27.0 13.6 0 0 1 187.8 334.2M156.2 325.3A11.6 5.8 0 0 1 171.6 318.8M160.0 318.5A10.3 5.1 0 0 1 177.4 320.4M148.0 354.9A36.7 18.4 0 0 1 150.6 323.0M141.9 359.0A48.2 24.2 0 0 1 145.2 317.2M137.4 363.6A57.6 28.9 0 0 1 140.3 313.5M159.2 343.4A13.4 6.8 0 0 1 162.8 331.8M132.9 365.3A65.4 32.8 0 0 1 137.1 308.5M153.7 344.4A22.3 11.2 0 0 1 159.5 325.2M128.0 364.8A72.5 36.4 0 0 1 134.9 301.8M146.7 346.1A34.0 17.1 0 0 1 155.0 316.8M141.5 350.4A44.1 22.2 0 0 1 149.9 312.3M156.3 336.2A14.5 7.3 0 0 1 165.5 324.5M150.7 336.8A23.4 11.7 0 0 1 162.2 317.3M133.7 350.2A55.9 28.1 0 0 1 146.1 301.9M137.5 343.4A46.6 23.4 0 0 1 151.9 303.5M161.6 346.6A11.4 5.7 0 0 1 162.3 336.6M157.0 351.1A20.9 10.5 0 0 1 157.4 332.9M178.8 330.9A23.4 11.8 0 0 1 179.9 351.3M152.5 352.8A28.7 14.4 0 0 1 154.1 327.9M173.4 331.9A14.7 7.4 0 0 1 176.5 344.6M147.7 352.4A35.8 18.0 0 0 1 151.9 321.3M166.4 333.6A4.5 2.3 0 0 1 172.0 336.3M161.2 338.0A7.9 4.0 0 0 1 166.9 331.7M176.0 323.7A23.5 11.8 0 0 1 182.5 343.9M170.3 324.3A15.2 7.6 0 0 1 179.3 336.8M153.4 337.7A19.6 9.8 0 0 1 163.1 321.4M157.2 330.9A11.4 5.7 0 0 1 168.9 322.9M163.1 347.0A9.4 4.7 0 0 1 162.8 338.8M184.9 326.8A34.9 17.5 0 0 1 185.3 357.1M158.6 348.7A17.2 8.6 0 0 1 159.5 333.8M179.4 327.8A26.1 13.1 0 0 1 181.9 350.5M153.7 348.3A24.4 12.2 0 0 1 157.3 327.1M172.4 329.5A14.8 7.4 0 0 1 177.4 342.1M167.2 333.9A5.2 2.6 0 0 1 172.3 337.6M182.0 319.6A34.8 17.5 0 0 1 187.9 349.8M176.4 320.2A26.2 13.1 0 0 1 184.7 342.6M159.5 333.6A9.0 4.5 0 0 1 168.5 327.2M163.3 326.8A6.8 3.4 0 0 1 174.3 328.8M189.5 322.3A44.3 22.3 0 0 1 190.2 360.8M163.1 344.2A7.8 3.9 0 0 1 164.4 337.4M184.0 323.2A35.5 17.9 0 0 1 186.8 354.1M158.3 343.7A15.0 7.5 0 0 1 162.2 330.8M177.0 324.9A24.2 12.1 0 0 1 182.3 345.8M171.8 329.3A14.1 7.1 0 0 1 177.2 341.2M186.6 315.1A44.2 22.2 0 0 1 192.8 353.4M180.9 315.7A35.5 17.8 0 0 1 189.6 346.3M164.0 329.1A5.8 2.9 0 0 1 173.4 330.9M167.8 322.3A13.4 6.7 0 0 1 179.2 332.5M141.3 364.4A52.1 26.2 0 0 1 141.9 319.1M162.2 343.4A8.9 4.5 0 0 1 164.3 335.8M136.5 363.9A59.2 29.7 0 0 1 139.7 312.5M155.2 345.1A20.5 10.3 0 0 1 159.8 327.4M150.0 349.5A30.7 15.4 0 0 1 154.7 322.9M164.8 335.3A3.2 1.6 0 0 1 170.3 335.1M159.1 335.9A10.2 5.1 0 0 1 167.1 328.0M142.2 349.2A42.5 21.3 0 0 1 150.9 312.6M146.0 342.5A33.2 16.7 0 0 1 156.7 314.1M188.5 321.5A43.3 21.7 0 0 1 190.1 359.2M162.8 342.0A7.2 3.6 0 0 1 165.4 335.8M181.5 323.2A31.8 16.0 0 0 1 185.6 350.8M176.3 327.6A21.6 10.9 0 0 1 180.5 346.3M191.1 313.3A51.9 26.1 0 0 1 196.0 358.5M185.4 314.0A43.2 21.7 0 0 1 192.8 351.3M168.5 327.3A11.0 5.5 0 0 1 176.7 335.9M172.3 320.5A20.3 10.2 0 0 1 182.5 337.5M141.9 362.9A50.4 25.3 0 0 1 143.0 319.1M160.6 344.2A11.6 5.8 0 0 1 163.1 334.1M155.5 348.5A21.9 11.0 0 0 1 158.0 329.5M170.3 334.3A8.8 4.4 0 0 1 173.6 341.7M164.6 334.9A3.4 1.7 0 0 1 170.4 334.6M147.7 348.3A33.6 16.9 0 0 1 154.2 319.2M151.5 341.5A24.3 12.2 0 0 1 160.0 320.8M186.3 323.7A38.8 19.5 0 0 1 187.8 357.4M181.2 328.0A28.6 14.3 0 0 1 182.7 352.9M196.0 313.8A58.9 29.6 0 0 1 198.2 365.1M190.3 314.4A50.1 25.2 0 0 1 195.0 357.9M173.4 327.8A17.3 8.7 0 0 1 178.9 342.6M177.2 321.0A26.9 13.5 0 0 1 184.7 344.1M162.5 346.8A10.3 5.1 0 0 1 162.6 337.9M177.3 332.6A20.1 10.1 0 0 1 178.1 350.1M171.6 333.2A11.4 5.7 0 0 1 174.9 343.0M154.7 346.6A22.0 11.0 0 0 1 158.8 327.6M158.5 339.8A12.7 6.4 0 0 1 164.5 329.1M182.5 328.2A30.4 15.3 0 0 1 183.2 354.6M176.8 328.8A21.6 10.8 0 0 1 180.0 347.5M159.9 342.2A11.8 5.9 0 0 1 163.9 332.1M163.7 335.4A4.0 2.0 0 0 1 169.6 333.7M162.0 343.1A9.0 4.5 0 0 1 164.4 335.3M145.1 356.4A42.0 21.1 0 0 1 148.3 319.9M148.9 349.6A32.5 16.3 0 0 1 154.1 321.5M150.7 355.8A33.1 16.6 0 0 1 151.5 327.1M154.5 349.0A23.5 11.8 0 0 1 157.3 328.6M171.5 335.7A9.6 4.8 0 0 1 173.4 344.0" fill="none" stroke="#00f" stroke-width="1.3" shape-rendering="crispEdges"/>
<path class="tk" d="M98.5 437.5v4.86M167.5 437.5v4.86M237.5 437.5v4.86"/>
<text transform="translate(97.65 454.90) scale(0.97 1.03)" text-anchor="middle">−100</text>
<text transform="translate(167.15 454.90) scale(0.97 1.03)" text-anchor="middle">0</text>
<text transform="translate(236.65 454.90) scale(0.97 1.03)" text-anchor="middle">100</text>
<path class="tk" d="M32.7 413.5h-4.86M32.7 378.5h-4.86M32.7 343.5h-4.86M32.7 308.5h-4.86M32.7 273.5h-4.86"/>
<text transform="translate(21.88 416.85) scale(0.91 1.03)" text-anchor="end">−100</text>
<text transform="translate(21.88 381.95) scale(0.91 1.03)" text-anchor="end">−50</text>
<text transform="translate(21.88 347.05) scale(0.91 1.03)" text-anchor="end">0</text>
<text transform="translate(21.88 312.15) scale(0.91 1.03)" text-anchor="end">50</text>
<text transform="translate(21.88 277.25) scale(0.91 1.03)" text-anchor="end">100</text>
<text transform="translate(167.60 470.60) scale(0.985 1)" text-anchor="middle">u[klambda]</text>
<filter id="jet" x="0" y="0" width="1" height="1" color-interpolation-filters="sRGB"><feGaussianBlur stdDeviation="2.00"/><feComponentTransfer><feFuncR type="table" tableValues="0 0 0 0 0 0 0 0 0 0 0 0 0 0 0 0 0 0 0 0 0 0 0 0 0 0 0 0 0 0 0 0 0 0 0 0 0 0 0 0 0 0 0 0 0 0 0 0 0 0 0 0 0 0 0 0 0 0 0 0 0 0 0 0 0 0 0 0 0 0 0 0 0 0 0 0 0 0 0 0 0 0 0 0 0 0 0 0 0 0 0 0 0 0 0 0 0 0 0 0 0 0 0 0 0 0 0 0 0 0 0 0 0 0 0 0 0 0 0 0 0 0 0 0 0 0 0 0 0 0 0 0 0 0 0 0 0 0 0 0 0 0.009 0.022 0.035 0.047 0.073 0.085 0.098 0.123 0.136 0.149 0.174 0.187 0.199 0.225 0.237 0.262 0.275 0.3 0.313 0.326 0.351 0.364 0.389 0.402 0.427 0.44 0.465 0.478 0.503 0.515 0.541 0.553 0.579 0.604 0.617 0.642 0.655 0.68 0.705 0.718 0.743 0.756 0.781 0.806 0.819 0.844 0.87 0.895 0.908 0.933 0.958 0.971 0.996 1 1 1 1 1 1 1 1 1 1 1 1 1 1 1 1 1 1 1 1 1 1 1 1 1 1 1 1 1 1 0.999 0.963 0.928 0.892 0.857 0.821 0.785 0.75 0.714 0.678 0.643 0.589 0.553 0.518 0.5 0.5 0.5 0.5 0.5 0.5 0.5 0.5 0.5 0.5 0.5 0.5 0.5 0.5 0.5 0.5 0.5 0.5"/><feFuncG type="table" tableValues="0 0 0 0 0 0 0 0 0 0 0 0 0 0 0 0 0 0 0 0 0 0 0 0 0 0 0 0 0 0 0 0 0 0 0 0 0 0 0 0 0 0 0 0 0 0 0 0 0 0 0 0 0 0 0 0 0 0 0 0 0 0 0 0 0 0 0 0 0 0 0 0 0 0 0 0 0 0 0 0 0 0 0 0 0 0.002 0.018 0.033 0.049 0.049 0.065 0.08 0.096 0.112 0.127 0.127 0.143 0.159 0.175 0.19 0.206 0.222 0.237 0.253 0.253 0.269 0.284 0.3 0.316 0.331 0.347 0.363 0.378 0.394 0.41 0.425 0.441 0.457 0.488 0.504 0.52 0.535 0.551 0.567 0.582 0.598 0.614 0.645 0.661 0.676 0.692 0.708 0.724 0.755 0.771 0.786 0.802 0.818 0.849 0.865 0.88 0.912 0.927 0.943 0.959 0.99 1 1 1 1 1 1 1 1 1 1 1 1 1 1 1 1 1 1 1 1 1 1 1 1 1 1 1 1 1 1 1 1 1 1 1 1 1 1 1 1 1 1 1 1 1 0.974 0.959 0.93 0.901 0.872 0.858 0.829 0.8 0.771 0.741 0.727 0.698 0.669 0.64 0.611 0.582 0.567 0.538 0.509 0.48 0.451 0.422 0.393 0.364 0.335 0.306 0.277 0.248 0.219 0.19 0.16 0.131 0.102 0.073 0.044 0.015 0 0 0 0 0 0 0 0 0 0 0 0 0 0 0 0 0 0 0 0 0 0 0 0 0 0 0 0 0"/><feFuncB type="table" tableValues="0.5 0.5 0.5 0.5 0.5 0.5 0.5 0.5 0.5 0.5 0.5 0.5 0.5 0.5 0.5 0.518 0.518 0.518 0.518 0.518 0.518 0.518 0.536 0.536 0.536 0.536 0.553 0.553 0.553 0.553 0.571 0.571 0.571 0.571 0.589 0.589 0.589 0.607 0.607 0.607 0.625 0.625 0.625 0.643 0.643 0.66 0.66 0.678 0.678 0.678 0.696 0.696 0.714 0.714 0.732 0.732 0.75 0.75 0.767 0.767 0.785 0.785 0.803 0.803 0.821 0.839 0.839 0.857 0.857 0.874 0.892 0.892 0.91 0.928 0.928 0.946 0.963 0.963 0.981 0.999 0.999 1 1 1 1 1 1 1 1 1 1 1 1 1 1 1 1 1 1 1 1 1 1 1 1 1 1 1 1 1 1 1 1 1 1 1 1 1 1 1 1 1 1 1 1 1 1 1 1 1 1 1 1 1 1 1 1 1 1 0.996 0.984 0.958 0.946 0.933 0.92 0.895 0.882 0.87 0.844 0.832 0.819 0.794 0.781 0.769 0.743 0.731 0.705 0.693 0.667 0.655 0.642 0.617 0.604 0.579 0.566 0.541 0.528 0.503 0.49 0.465 0.452 0.427 0.414 0.389 0.364 0.351 0.326 0.313 0.288 0.262 0.25 0.225 0.212 0.187 0.161 0.149 0.123 0.098 0.073 0.06 0.035 0.009 0 0 0 0 0 0 0 0 0 0 0 0 0 0 0 0 0 0 0 0 0 0 0 0 0 0 0 0 0 0 0 0 0 0 0 0 0 0 0 0 0 0 0 0 0 0 0 0 0 0 0 0 0 0 0 0 0 0 0 0 0 0 0 0"/><feFuncA type="linear" slope="0" intercept="1"/></feComponentTransfer></filter>
<clipPath id="jetc"><rect x="398.50" y="249.50" width="188.00" height="188.00"/></clipPath>
<g clip-path="url(#jetc)"><g filter="url(#jet)" shape-rendering="crispEdges">
<rect x="378.0" y="229.0" width="228.0" height="228.0" fill="#000"/>
<path fill="#151515" d="M474 313h4v4h-4zM506 369h4v4h-4z"/>
<path fill="#161616" d="M478 313h4v4h-4zM502 313h8v4h-8zM462 317h8v4h-8zM458 321h4v4h-4zM514 365h8v4h-8zM470 369h8v4h-8zM510 369h4v4h-4z"/>
<path fill="#171717" d="M470 313h4v4h-4zM498 313h4v4h-4zM522 361h4v4h-4zM502 369h4v4h-4z"/>
<path fill="#181818" d="M482 313h4v4h-4zM510 313h4v4h-4zM510 317h4v4h-4zM454 325h4v4h-4zM466 369h4v4h-4zM478 373h24v4h-24z"/>
<path fill="#191919" d="M486 313h12v4h-12zM470 317h4v4h-4zM514 317h4v4h-4zM462 321h4v4h-4zM518 361h4v4h-4zM478 369h4v4h-4zM514 369h4v4h-4zM474 373h4v4h-4zM502 373h4v4h-4z"/>
<path fill="#1a1a1a" d="M486 309h16v4h-16zM466 313h4v4h-4zM454 321h4v4h-4zM526 357h4v4h-4zM466 365h4v4h-4zM510 365h4v4h-4zM498 369h4v4h-4z"/>
<path fill="#1b1b1b" d="M482 309h4v4h-4zM502 309h4v4h-4zM458 317h4v4h-4zM522 357h4v4h-4zM462 365h4v4h-4zM470 373h4v4h-4zM506 373h4v4h-4z"/>
<path fill="#1c1c1c" d="M478 309h4v4h-4zM506 317h4v4h-4zM458 325h4v4h-4zM522 365h4v4h-4zM482 369h4v4h-4zM494 369h4v4h-4z"/>
<path fill="#1d1d1d" d="M474 309h4v4h-4zM506 309h4v4h-4zM450 329h8v4h-8zM526 353h4v4h-4zM526 361h4v4h-4z"/>
<path fill="#1e1e1e" d="M506 297h8v4h-8zM462 313h4v4h-4zM514 313h4v4h-4zM518 321h4v4h-4zM450 325h4v4h-4zM470 365h4v4h-4zM462 369h4v4h-4zM486 369h8v4h-8zM518 369h4v4h-4zM466 385h4v4h-4z"/>
<path fill="#1f1f1f" d="M546 265h4v4h-4zM502 297h4v4h-4zM514 297h4v4h-4zM454 301h8v4h-8zM514 301h12v4h-12zM474 317h4v4h-4zM518 317h4v4h-4zM514 321h4v4h-4zM466 373h4v4h-4zM510 373h4v4h-4zM522 381h8v4h-8zM462 385h4v4h-4zM470 385h4v4h-4zM518 385h4v4h-4zM482 429h4v4h-4z"/>
<path fill="#202020" d="M490 253h16v4h-16zM490 257h16v4h-16zM538 261h12v4h-12zM542 265h4v4h-4zM550 265h4v4h-4zM546 269h8v4h-8zM458 297h8v4h-8zM498 297h4v4h-4zM510 301h4v4h-4zM450 305h8v4h-8zM470 309h4v4h-4zM510 309h4v4h-4zM454 317h4v4h-4zM450 333h4v4h-4zM458 361h4v4h-4zM478 377h16v4h-16zM526 377h8v4h-8zM454 381h12v4h-12zM458 385h4v4h-4zM474 385h4v4h-4zM514 385h4v4h-4zM522 385h4v4h-4zM474 389h8v4h-8zM426 413h8v4h-8zM426 417h12v4h-12zM430 421h12v4h-12zM438 425h4v4h-4zM474 429h8v4h-8zM486 429h8v4h-8z"/>
<path fill="#212121" d="M486 253h4v4h-4zM506 253h4v4h-4zM538 253h4v4h-4zM486 257h4v4h-4zM506 257h4v4h-4zM534 257h12v4h-12zM538 265h4v4h-4zM554 269h4v4h-4zM550 273h8v4h-8zM498 293h4v4h-4zM466 297h4v4h-4zM518 297h4v4h-4zM450 301h4v4h-4zM462 301h4v4h-4zM506 301h4v4h-4zM526 301h4v4h-4zM446 305h4v4h-4zM526 305h8v4h-8zM446 309h8v4h-8zM450 321h4v4h-4zM530 353h4v4h-4zM530 357h4v4h-4zM462 361h4v4h-4zM458 365h4v4h-4zM506 365h4v4h-4zM526 365h4v4h-4zM446 377h4v4h-4zM474 377h4v4h-4zM494 377h4v4h-4zM450 381h4v4h-4zM466 381h4v4h-4zM518 381h4v4h-4zM530 381h4v4h-4zM478 385h4v4h-4zM470 389h4v4h-4zM482 389h8v4h-8zM422 413h4v4h-4zM438 417h4v4h-4zM442 421h4v4h-4zM434 425h4v4h-4zM442 425h4v4h-4zM470 425h20v4h-20zM438 429h8v4h-8zM470 429h4v4h-4zM494 429h4v4h-4zM474 433h16v4h-16z"/>
<path fill="#222222" d="M418 237h8v4h-8zM418 241h4v4h-4zM526 245h4v4h-4zM490 249h24v4h-24zM526 249h12v4h-12zM482 253h4v4h-4zM510 253h8v4h-8zM530 253h8v4h-8zM542 253h4v4h-4zM482 257h4v4h-4zM510 257h8v4h-8zM530 257h4v4h-4zM546 257h4v4h-4zM534 261h4v4h-4zM550 261h4v4h-4zM554 265h4v4h-4zM542 269h4v4h-4zM558 269h4v4h-4zM558 273h4v4h-4zM490 293h8v4h-8zM502 293h8v4h-8zM454 297h4v4h-4zM470 297h4v4h-4zM494 297h4v4h-4zM494 305h12v4h-12zM518 305h8v4h-8zM534 305h4v4h-4zM534 309h8v4h-8zM458 313h4v4h-4zM542 313h4v4h-4zM502 317h4v4h-4zM466 321h4v4h-4zM522 321h4v4h-4zM526 349h4v4h-4zM514 361h4v4h-4zM522 369h4v4h-4zM438 373h8v4h-8zM514 373h4v4h-4zM530 373h4v4h-4zM442 377h4v4h-4zM450 377h4v4h-4zM470 377h4v4h-4zM498 377h4v4h-4zM522 377h4v4h-4zM470 381h4v4h-4zM454 385h4v4h-4zM482 385h4v4h-4zM510 385h4v4h-4zM526 385h4v4h-4zM466 389h4v4h-4zM490 389h8v4h-8zM506 389h12v4h-12zM422 409h8v4h-8zM434 413h4v4h-4zM422 417h4v4h-4zM426 421h4v4h-4zM430 425h4v4h-4zM446 425h4v4h-4zM466 425h4v4h-4zM490 425h8v4h-8zM434 429h4v4h-4zM446 429h8v4h-8zM466 429h4v4h-4zM498 429h4v4h-4zM442 433h12v4h-12zM466 433h8v4h-8zM490 433h4v4h-4zM450 437h4v4h-4zM558 441h4v4h-4zM558 445h4v4h-4z"/>
<path fill="#232323" d="M418 233h12v4h-12zM426 237h4v4h-4zM414 241h4v4h-4zM422 241h4v4h-4zM510 241h20v4h-20zM414 245h12v4h-12zM498 245h28v4h-28zM530 245h8v4h-8zM486 249h4v4h-4zM514 249h12v4h-12zM538 249h4v4h-4zM474 253h8v4h-8zM518 253h12v4h-12zM474 257h8v4h-8zM518 257h12v4h-12zM450 261h8v4h-8zM530 261h4v4h-4zM446 265h8v4h-8zM534 265h4v4h-4zM546 273h4v4h-4zM470 293h20v4h-20zM474 297h4v4h-4zM490 297h4v4h-4zM522 297h4v4h-4zM502 301h4v4h-4zM530 301h4v4h-4zM458 305h4v4h-4zM486 305h8v4h-8zM506 305h12v4h-12zM454 309h4v4h-4zM466 309h4v4h-4zM514 309h4v4h-4zM530 309h4v4h-4zM446 313h12v4h-12zM518 313h4v4h-4zM538 313h4v4h-4zM450 317h4v4h-4zM542 317h8v4h-8zM546 321h4v4h-4zM522 325h4v4h-4zM450 337h4v4h-4zM530 349h4v4h-4zM530 361h4v4h-4zM434 365h4v4h-4zM434 369h8v4h-8zM526 369h4v4h-4zM462 373h4v4h-4zM526 373h4v4h-4zM534 373h4v4h-4zM454 377h8v4h-8zM466 377h4v4h-4zM502 377h4v4h-4zM534 377h4v4h-4zM446 381h4v4h-4zM474 381h4v4h-4zM506 385h4v4h-4zM498 389h8v4h-8zM518 389h4v4h-4zM418 409h4v4h-4zM430 409h4v4h-4zM418 413h4v4h-4zM442 417h4v4h-4zM530 417h8v4h-8zM446 421h4v4h-4zM522 421h12v4h-12zM450 425h4v4h-4zM462 425h4v4h-4zM498 425h8v4h-8zM454 429h12v4h-12zM502 429h4v4h-4zM438 433h4v4h-4zM454 433h12v4h-12zM494 433h8v4h-8zM442 437h8v4h-8zM454 437h32v4h-32zM558 437h8v4h-8zM450 441h24v4h-24zM554 441h4v4h-4zM562 441h4v4h-4zM458 445h8v4h-8zM554 445h4v4h-4zM562 445h4v4h-4zM550 449h12v4h-12z"/>
<path fill="#242424" d="M378 229h4v4h-4zM422 229h8v4h-8zM430 233h4v4h-4zM414 237h4v4h-4zM430 237h4v4h-4zM510 237h16v4h-16zM426 241h4v4h-4zM502 241h8v4h-8zM530 241h4v4h-4zM490 245h8v4h-8zM538 245h4v4h-4zM414 249h12v4h-12zM478 249h8v4h-8zM542 249h4v4h-4zM470 253h4v4h-4zM546 253h4v4h-4zM462 257h12v4h-12zM550 257h4v4h-4zM446 261h4v4h-4zM458 261h8v4h-8zM494 261h24v4h-24zM526 261h4v4h-4zM554 261h4v4h-4zM582 261h8v4h-8zM442 265h4v4h-4zM454 265h4v4h-4zM558 265h4v4h-4zM586 265h4v4h-4zM538 269h4v4h-4zM562 269h4v4h-4zM562 273h4v4h-4zM554 277h8v4h-8zM466 293h4v4h-4zM510 293h4v4h-4zM478 297h12v4h-12zM466 301h4v4h-4zM498 301h4v4h-4zM482 305h4v4h-4zM538 305h4v4h-4zM590 305h4v4h-4zM442 309h4v4h-4zM542 309h4v4h-4zM586 309h8v4h-8zM442 313h4v4h-4zM546 313h4v4h-4zM586 313h8v4h-8zM446 317h4v4h-4zM590 317h4v4h-4zM446 325h4v4h-4zM446 329h4v4h-4zM522 353h4v4h-4zM454 357h4v4h-4zM430 361h4v4h-4zM430 365h4v4h-4zM530 365h4v4h-4zM390 369h4v4h-4zM530 369h8v4h-8zM390 373h4v4h-4zM434 373h4v4h-4zM446 373h4v4h-4zM518 373h8v4h-8zM390 377h4v4h-4zM438 377h4v4h-4zM462 377h4v4h-4zM478 381h4v4h-4zM514 381h4v4h-4zM486 385h4v4h-4zM502 385h4v4h-4zM462 389h4v4h-4zM422 405h4v4h-4zM438 413h4v4h-4zM418 417h4v4h-4zM526 417h4v4h-4zM538 417h4v4h-4zM390 421h8v4h-8zM422 421h4v4h-4zM450 421h4v4h-4zM518 421h4v4h-4zM534 421h4v4h-4zM394 425h4v4h-4zM426 425h4v4h-4zM454 425h8v4h-8zM506 425h20v4h-20zM430 429h4v4h-4zM506 429h8v4h-8zM434 433h4v4h-4zM502 433h4v4h-4zM558 433h8v4h-8zM438 437h4v4h-4zM486 437h8v4h-8zM554 437h4v4h-4zM566 437h4v4h-4zM446 441h4v4h-4zM474 441h8v4h-8zM566 441h4v4h-4zM450 445h8v4h-8zM466 445h8v4h-8zM550 445h4v4h-4zM566 445h4v4h-4zM546 449h4v4h-4zM562 449h4v4h-4zM602 449h4v4h-4zM550 453h12v4h-12zM602 453h4v4h-4z"/>
<path fill="#252525" d="M382 229h4v4h-4zM418 229h4v4h-4zM430 229h8v4h-8zM378 233h4v4h-4zM414 233h4v4h-4zM434 233h4v4h-4zM378 237h4v4h-4zM434 237h4v4h-4zM502 237h8v4h-8zM526 237h4v4h-4zM378 241h4v4h-4zM410 241h4v4h-4zM430 241h4v4h-4zM494 241h8v4h-8zM534 241h4v4h-4zM378 245h4v4h-4zM410 245h4v4h-4zM426 245h4v4h-4zM482 245h8v4h-8zM410 249h4v4h-4zM426 249h4v4h-4zM474 249h4v4h-4zM414 253h12v4h-12zM466 253h4v4h-4zM550 253h4v4h-4zM578 253h4v4h-4zM418 257h8v4h-8zM450 257h12v4h-12zM578 257h12v4h-12zM438 261h8v4h-8zM466 261h8v4h-8zM486 261h8v4h-8zM518 261h8v4h-8zM578 261h4v4h-4zM590 261h4v4h-4zM438 265h4v4h-4zM458 265h4v4h-4zM530 265h4v4h-4zM562 265h4v4h-4zM578 265h8v4h-8zM590 265h8v4h-8zM442 269h12v4h-12zM566 269h4v4h-4zM586 269h8v4h-8zM542 273h4v4h-4zM566 273h4v4h-4zM550 277h4v4h-4zM562 277h4v4h-4zM598 285h8v4h-8zM594 289h12v4h-12zM462 293h4v4h-4zM594 293h12v4h-12zM590 297h12v4h-12zM446 301h4v4h-4zM470 301h4v4h-4zM494 301h4v4h-4zM590 301h8v4h-8zM462 305h4v4h-4zM478 305h4v4h-4zM586 305h4v4h-4zM594 305h4v4h-4zM458 309h8v4h-8zM518 309h4v4h-4zM526 309h4v4h-4zM594 309h4v4h-4zM534 313h4v4h-4zM594 313h4v4h-4zM442 317h4v4h-4zM478 317h4v4h-4zM538 317h4v4h-4zM586 317h4v4h-4zM594 317h4v4h-4zM446 321h4v4h-4zM542 321h4v4h-4zM550 321h4v4h-4zM590 321h8v4h-8zM518 325h4v4h-4zM546 325h8v4h-8zM598 325h4v4h-4zM550 329h4v4h-4zM602 329h4v4h-4zM446 333h4v4h-4zM454 333h4v4h-4zM530 345h4v4h-4zM378 357h4v4h-4zM430 357h4v4h-4zM518 357h4v4h-4zM382 361h8v4h-8zM434 361h4v4h-4zM454 361h4v4h-4zM386 365h8v4h-8zM438 365h4v4h-4zM534 365h4v4h-4zM386 369h4v4h-4zM394 369h4v4h-4zM430 369h4v4h-4zM442 369h4v4h-4zM458 369h4v4h-4zM386 373h4v4h-4zM394 373h4v4h-4zM386 377h4v4h-4zM394 377h4v4h-4zM506 377h4v4h-4zM518 377h4v4h-4zM386 381h8v4h-8zM482 381h8v4h-8zM382 385h8v4h-8zM450 385h4v4h-4zM490 385h12v4h-12zM378 389h12v4h-12zM522 389h4v4h-4zM378 393h8v4h-8zM378 397h8v4h-8zM418 405h4v4h-4zM426 405h4v4h-4zM414 409h4v4h-4zM434 409h4v4h-4zM414 413h4v4h-4zM386 417h16v4h-16zM446 417h4v4h-4zM522 417h4v4h-4zM542 417h4v4h-4zM386 421h4v4h-4zM398 421h4v4h-4zM454 421h4v4h-4zM466 421h12v4h-12zM514 421h4v4h-4zM538 421h8v4h-8zM390 425h4v4h-4zM398 425h8v4h-8zM526 425h8v4h-8zM558 425h8v4h-8zM398 429h8v4h-8zM514 429h4v4h-4zM554 429h12v4h-12zM506 433h4v4h-4zM554 433h4v4h-4zM566 433h4v4h-4zM494 437h8v4h-8zM602 437h4v4h-4zM442 441h4v4h-4zM482 441h8v4h-8zM550 441h4v4h-4zM602 441h4v4h-4zM474 445h8v4h-8zM546 445h4v4h-4zM602 445h4v4h-4zM458 449h16v4h-16zM542 449h4v4h-4zM566 449h4v4h-4zM542 453h8v4h-8zM562 453h4v4h-4zM598 453h4v4h-4z"/>
<path fill="#262626" d="M414 229h4v4h-4zM438 229h20v4h-20zM382 233h4v4h-4zM438 233h24v4h-24zM502 233h24v4h-24zM410 237h4v4h-4zM438 237h4v4h-4zM494 237h8v4h-8zM530 237h4v4h-4zM490 241h4v4h-4zM538 241h4v4h-4zM430 245h4v4h-4zM474 245h8v4h-8zM542 245h4v4h-4zM378 249h4v4h-4zM466 249h8v4h-8zM546 249h4v4h-4zM574 249h8v4h-8zM378 253h4v4h-4zM410 253h4v4h-4zM426 253h4v4h-4zM458 253h8v4h-8zM574 253h4v4h-4zM582 253h4v4h-4zM414 257h4v4h-4zM426 257h4v4h-4zM446 257h4v4h-4zM554 257h4v4h-4zM574 257h4v4h-4zM590 257h4v4h-4zM414 261h24v4h-24zM474 261h12v4h-12zM558 261h4v4h-4zM574 261h4v4h-4zM594 261h4v4h-4zM418 265h20v4h-20zM566 265h4v4h-4zM574 265h4v4h-4zM598 265h4v4h-4zM434 269h8v4h-8zM534 269h4v4h-4zM570 269h16v4h-16zM594 269h8v4h-8zM570 273h4v4h-4zM586 273h20v4h-20zM566 277h4v4h-4zM598 277h8v4h-8zM558 281h4v4h-4zM594 281h12v4h-12zM410 285h4v4h-4zM594 285h4v4h-4zM406 289h8v4h-8zM406 293h8v4h-8zM458 293h4v4h-4zM514 293h4v4h-4zM590 293h4v4h-4zM406 297h4v4h-4zM450 297h4v4h-4zM526 297h4v4h-4zM586 297h4v4h-4zM602 297h4v4h-4zM474 301h4v4h-4zM490 301h4v4h-4zM534 301h4v4h-4zM586 301h4v4h-4zM598 301h4v4h-4zM442 305h4v4h-4zM466 305h12v4h-12zM582 305h4v4h-4zM522 309h4v4h-4zM582 309h4v4h-4zM582 313h4v4h-4zM522 317h4v4h-4zM550 317h4v4h-4zM598 317h4v4h-4zM586 321h4v4h-4zM598 321h8v4h-8zM590 325h8v4h-8zM602 325h4v4h-4zM526 329h4v4h-4zM598 329h4v4h-4zM602 333h4v4h-4zM446 337h4v4h-4zM450 341h4v4h-4zM378 353h8v4h-8zM426 353h8v4h-8zM382 357h8v4h-8zM426 357h4v4h-4zM458 357h4v4h-4zM378 361h4v4h-4zM390 361h4v4h-4zM426 361h4v4h-4zM382 365h4v4h-4zM474 365h4v4h-4zM382 369h4v4h-4zM538 369h4v4h-4zM382 373h4v4h-4zM450 373h4v4h-4zM458 373h4v4h-4zM538 373h4v4h-4zM382 377h4v4h-4zM510 377h8v4h-8zM382 381h4v4h-4zM394 381h4v4h-4zM442 381h4v4h-4zM490 381h4v4h-4zM510 381h4v4h-4zM534 381h4v4h-4zM378 385h4v4h-4zM390 385h4v4h-4zM530 385h4v4h-4zM574 385h4v4h-4zM390 389h4v4h-4zM570 389h8v4h-8zM386 393h4v4h-4zM566 393h8v4h-8zM386 397h4v4h-4zM566 397h8v4h-8zM378 401h8v4h-8zM378 405h8v4h-8zM414 405h4v4h-4zM378 409h12v4h-12zM410 409h4v4h-4zM378 413h36v4h-36zM530 413h12v4h-12zM382 417h4v4h-4zM402 417h16v4h-16zM546 417h4v4h-4zM382 421h4v4h-4zM402 421h8v4h-8zM418 421h4v4h-4zM458 421h8v4h-8zM478 421h8v4h-8zM510 421h4v4h-4zM546 421h20v4h-20zM422 425h4v4h-4zM534 425h24v4h-24zM566 425h4v4h-4zM394 429h4v4h-4zM426 429h4v4h-4zM518 429h8v4h-8zM550 429h4v4h-4zM566 429h4v4h-4zM602 429h4v4h-4zM398 433h8v4h-8zM430 433h4v4h-4zM510 433h8v4h-8zM550 433h4v4h-4zM598 433h8v4h-8zM434 437h4v4h-4zM502 437h8v4h-8zM550 437h4v4h-4zM570 437h4v4h-4zM598 437h4v4h-4zM438 441h4v4h-4zM490 441h8v4h-8zM546 441h4v4h-4zM570 441h4v4h-4zM598 441h4v4h-4zM446 445h4v4h-4zM482 445h4v4h-4zM542 445h4v4h-4zM598 445h4v4h-4zM454 449h4v4h-4zM474 449h8v4h-8zM522 449h20v4h-20zM598 449h4v4h-4zM522 453h20v4h-20zM594 453h4v4h-4z"/>
<path fill="#272727" d="M386 229h4v4h-4zM458 229h8v4h-8zM410 233h4v4h-4zM462 233h8v4h-8zM494 233h8v4h-8zM526 233h4v4h-4zM382 237h4v4h-4zM442 237h28v4h-28zM490 237h4v4h-4zM534 237h4v4h-4zM382 241h4v4h-4zM406 241h4v4h-4zM434 241h8v4h-8zM458 241h32v4h-32zM382 245h4v4h-4zM406 245h4v4h-4zM462 245h12v4h-12zM574 245h4v4h-4zM382 249h4v4h-4zM406 249h4v4h-4zM430 249h4v4h-4zM458 249h8v4h-8zM550 249h4v4h-4zM570 249h4v4h-4zM582 249h4v4h-4zM382 253h4v4h-4zM430 253h4v4h-4zM450 253h8v4h-8zM554 253h4v4h-4zM570 253h4v4h-4zM586 253h4v4h-4zM378 257h4v4h-4zM410 257h4v4h-4zM430 257h16v4h-16zM558 257h4v4h-4zM570 257h4v4h-4zM410 261h4v4h-4zM562 261h12v4h-12zM410 265h8v4h-8zM462 265h4v4h-4zM526 265h4v4h-4zM570 265h4v4h-4zM602 265h4v4h-4zM410 269h24v4h-24zM454 269h4v4h-4zM602 269h4v4h-4zM410 273h8v4h-8zM574 273h12v4h-12zM410 277h8v4h-8zM546 277h4v4h-4zM570 277h4v4h-4zM586 277h12v4h-12zM410 281h8v4h-8zM554 281h4v4h-4zM562 281h4v4h-4zM590 281h4v4h-4zM406 285h4v4h-4zM414 285h4v4h-4zM590 285h4v4h-4zM414 289h4v4h-4zM590 289h4v4h-4zM402 293h4v4h-4zM586 293h4v4h-4zM402 297h4v4h-4zM410 297h4v4h-4zM402 301h8v4h-8zM478 301h12v4h-12zM582 301h4v4h-4zM602 301h4v4h-4zM542 305h4v4h-4zM598 305h4v4h-4zM378 309h4v4h-4zM546 309h4v4h-4zM598 309h4v4h-4zM378 313h4v4h-4zM438 313h4v4h-4zM522 313h4v4h-4zM598 313h4v4h-4zM438 317h4v4h-4zM498 317h4v4h-4zM582 317h4v4h-4zM602 317h4v4h-4zM442 321h4v4h-4zM510 321h4v4h-4zM526 325h4v4h-4zM546 329h4v4h-4zM554 329h4v4h-4zM594 329h4v4h-4zM526 333h4v4h-4zM550 333h8v4h-8zM598 333h4v4h-4zM530 341h4v4h-4zM450 345h4v4h-4zM526 345h4v4h-4zM378 349h4v4h-4zM426 349h4v4h-4zM450 349h4v4h-4zM386 353h4v4h-4zM454 353h4v4h-4zM434 357h4v4h-4zM534 357h4v4h-4zM534 361h4v4h-4zM378 365h4v4h-4zM394 365h4v4h-4zM454 365h4v4h-4zM538 365h4v4h-4zM602 369h4v4h-4zM398 373h4v4h-4zM454 373h4v4h-4zM598 373h8v4h-8zM398 377h4v4h-4zM602 377h4v4h-4zM378 381h4v4h-4zM494 381h16v4h-16zM574 381h8v4h-8zM394 385h4v4h-4zM570 385h4v4h-4zM458 389h4v4h-4zM566 389h4v4h-4zM390 393h4v4h-4zM478 393h24v4h-24zM574 393h4v4h-4zM602 397h4v4h-4zM386 401h4v4h-4zM418 401h4v4h-4zM566 401h8v4h-8zM602 401h4v4h-4zM386 405h8v4h-8zM410 405h4v4h-4zM430 405h4v4h-4zM566 405h4v4h-4zM390 409h20v4h-20zM566 409h4v4h-4zM442 413h4v4h-4zM526 413h4v4h-4zM542 413h8v4h-8zM558 413h12v4h-12zM378 417h4v4h-4zM450 417h4v4h-4zM518 417h4v4h-4zM550 417h20v4h-20zM410 421h8v4h-8zM486 421h8v4h-8zM502 421h8v4h-8zM566 421h8v4h-8zM386 425h4v4h-4zM406 425h4v4h-4zM418 425h4v4h-4zM570 425h4v4h-4zM602 425h4v4h-4zM390 429h4v4h-4zM406 429h4v4h-4zM422 429h4v4h-4zM526 429h8v4h-8zM546 429h4v4h-4zM570 429h4v4h-4zM598 429h4v4h-4zM394 433h4v4h-4zM406 433h4v4h-4zM426 433h4v4h-4zM518 433h8v4h-8zM546 433h4v4h-4zM570 433h4v4h-4zM594 433h4v4h-4zM402 437h8v4h-8zM510 437h12v4h-12zM546 437h4v4h-4zM594 437h4v4h-4zM498 441h24v4h-24zM542 441h4v4h-4zM594 441h4v4h-4zM442 445h4v4h-4zM486 445h12v4h-12zM510 445h32v4h-32zM570 445h4v4h-4zM594 445h4v4h-4zM450 449h4v4h-4zM482 449h8v4h-8zM510 449h12v4h-12zM594 449h4v4h-4zM514 453h8v4h-8zM566 453h4v4h-4z"/>
<path fill="#282828" d="M390 229h4v4h-4zM410 229h4v4h-4zM466 229h8v4h-8zM502 229h16v4h-16zM386 233h4v4h-4zM470 233h12v4h-12zM486 233h8v4h-8zM530 233h4v4h-4zM386 237h4v4h-4zM406 237h4v4h-4zM470 237h20v4h-20zM538 237h4v4h-4zM386 241h4v4h-4zM442 241h16v4h-16zM542 241h4v4h-4zM386 245h4v4h-4zM434 245h8v4h-8zM454 245h8v4h-8zM546 245h4v4h-4zM570 245h4v4h-4zM578 245h4v4h-4zM386 249h4v4h-4zM434 249h4v4h-4zM454 249h4v4h-4zM566 249h4v4h-4zM386 253h4v4h-4zM406 253h4v4h-4zM434 253h16v4h-16zM558 253h4v4h-4zM566 253h4v4h-4zM382 257h4v4h-4zM406 257h4v4h-4zM562 257h8v4h-8zM594 257h4v4h-4zM378 261h4v4h-4zM406 261h4v4h-4zM598 261h4v4h-4zM406 265h4v4h-4zM466 265h4v4h-4zM518 265h8v4h-8zM406 269h4v4h-4zM406 273h4v4h-4zM418 273h8v4h-8zM438 273h8v4h-8zM538 273h4v4h-4zM406 277h4v4h-4zM418 277h4v4h-4zM574 277h12v4h-12zM378 281h4v4h-4zM406 281h4v4h-4zM566 281h8v4h-8zM586 281h4v4h-4zM378 285h4v4h-4zM586 285h4v4h-4zM378 289h4v4h-4zM402 289h4v4h-4zM586 289h4v4h-4zM414 293h4v4h-4zM582 297h4v4h-4zM378 301h4v4h-4zM398 301h4v4h-4zM378 305h4v4h-4zM398 305h12v4h-12zM602 305h4v4h-4zM382 309h20v4h-20zM438 309h4v4h-4zM382 313h16v4h-16zM530 313h4v4h-4zM602 313h4v4h-4zM378 317h12v4h-12zM462 325h4v4h-4zM542 325h4v4h-4zM554 325h4v4h-4zM586 325h4v4h-4zM458 329h4v4h-4zM522 329h4v4h-4zM590 329h4v4h-4zM594 333h4v4h-4zM530 337h4v4h-4zM554 337h4v4h-4zM602 337h4v4h-4zM446 341h4v4h-4zM382 349h4v4h-4zM422 349h4v4h-4zM422 353h4v4h-4zM450 353h4v4h-4zM534 353h4v4h-4zM390 357h4v4h-4zM394 361h4v4h-4zM438 361h4v4h-4zM426 365h4v4h-4zM598 365h8v4h-8zM378 369h4v4h-4zM398 369h4v4h-4zM446 369h4v4h-4zM586 369h16v4h-16zM378 373h4v4h-4zM430 373h4v4h-4zM578 373h20v4h-20zM378 377h4v4h-4zM434 377h4v4h-4zM538 377h4v4h-4zM574 377h12v4h-12zM598 377h4v4h-4zM398 381h4v4h-4zM570 381h4v4h-4zM602 381h4v4h-4zM578 385h4v4h-4zM602 385h4v4h-4zM394 389h4v4h-4zM526 389h4v4h-4zM578 389h4v4h-4zM602 389h4v4h-4zM474 393h4v4h-4zM502 393h8v4h-8zM602 393h4v4h-4zM390 397h4v4h-4zM562 397h4v4h-4zM574 397h4v4h-4zM390 401h4v4h-4zM414 401h4v4h-4zM422 401h4v4h-4zM562 401h4v4h-4zM574 401h4v4h-4zM394 405h16v4h-16zM562 405h4v4h-4zM570 405h4v4h-4zM602 405h4v4h-4zM438 409h4v4h-4zM558 409h8v4h-8zM570 409h4v4h-4zM550 413h8v4h-8zM570 413h4v4h-4zM570 417h4v4h-4zM378 421h4v4h-4zM494 421h8v4h-8zM602 421h4v4h-4zM382 425h4v4h-4zM410 425h8v4h-8zM598 425h4v4h-4zM410 429h12v4h-12zM534 429h12v4h-12zM574 429h4v4h-4zM594 429h4v4h-4zM410 433h4v4h-4zM526 433h4v4h-4zM542 433h4v4h-4zM574 433h4v4h-4zM398 437h4v4h-4zM410 437h4v4h-4zM430 437h4v4h-4zM522 437h8v4h-8zM542 437h4v4h-4zM574 437h4v4h-4zM402 441h8v4h-8zM434 441h4v4h-4zM522 441h20v4h-20zM574 441h4v4h-4zM498 445h12v4h-12zM446 449h4v4h-4zM490 449h20v4h-20zM570 449h4v4h-4zM458 453h28v4h-28zM506 453h8v4h-8zM590 453h4v4h-4z"/>
<path fill="#292929" d="M406 229h4v4h-4zM474 229h28v4h-28zM518 229h8v4h-8zM574 229h12v4h-12zM406 233h4v4h-4zM482 233h4v4h-4zM534 233h4v4h-4zM402 241h4v4h-4zM570 241h12v4h-12zM390 245h4v4h-4zM402 245h4v4h-4zM442 245h12v4h-12zM550 245h4v4h-4zM566 245h4v4h-4zM582 245h4v4h-4zM390 249h4v4h-4zM402 249h4v4h-4zM438 249h16v4h-16zM554 249h12v4h-12zM586 249h4v4h-4zM390 253h4v4h-4zM402 253h4v4h-4zM562 253h4v4h-4zM590 253h4v4h-4zM386 257h4v4h-4zM402 257h4v4h-4zM382 261h4v4h-4zM402 261h4v4h-4zM602 261h4v4h-4zM378 265h4v4h-4zM402 265h4v4h-4zM514 265h4v4h-4zM378 269h4v4h-4zM402 269h4v4h-4zM458 269h4v4h-4zM530 269h4v4h-4zM378 273h4v4h-4zM402 273h4v4h-4zM426 273h12v4h-12zM446 273h4v4h-4zM378 277h4v4h-4zM402 277h4v4h-4zM422 277h4v4h-4zM402 281h4v4h-4zM418 281h4v4h-4zM550 281h4v4h-4zM574 281h12v4h-12zM402 285h4v4h-4zM418 285h4v4h-4zM558 285h8v4h-8zM582 285h4v4h-4zM582 289h4v4h-4zM378 293h4v4h-4zM398 293h4v4h-4zM454 293h4v4h-4zM518 293h4v4h-4zM582 293h4v4h-4zM378 297h4v4h-4zM398 297h4v4h-4zM382 301h4v4h-4zM394 301h4v4h-4zM410 301h4v4h-4zM538 301h4v4h-4zM578 301h4v4h-4zM382 305h16v4h-16zM578 305h4v4h-4zM402 309h4v4h-4zM578 309h4v4h-4zM602 309h4v4h-4zM398 313h4v4h-4zM526 313h4v4h-4zM550 313h4v4h-4zM578 313h4v4h-4zM390 317h12v4h-12zM534 317h4v4h-4zM378 321h24v4h-24zM438 321h4v4h-4zM526 321h4v4h-4zM538 321h4v4h-4zM554 321h4v4h-4zM582 321h4v4h-4zM394 325h8v4h-8zM442 325h4v4h-4zM394 329h12v4h-12zM586 329h4v4h-4zM398 333h8v4h-8zM530 333h4v4h-4zM546 333h4v4h-4zM558 333h4v4h-4zM590 333h4v4h-4zM526 337h4v4h-4zM550 337h4v4h-4zM558 337h4v4h-4zM594 337h8v4h-8zM526 341h4v4h-4zM558 341h4v4h-4zM378 345h8v4h-8zM422 345h8v4h-8zM386 349h4v4h-4zM430 349h4v4h-4zM534 349h4v4h-4zM574 349h8v4h-8zM390 353h4v4h-4zM434 353h4v4h-4zM574 353h12v4h-12zM422 357h4v4h-4zM450 357h4v4h-4zM578 357h8v4h-8zM466 361h4v4h-4zM538 361h4v4h-4zM582 361h12v4h-12zM398 365h4v4h-4zM442 365h4v4h-4zM502 365h4v4h-4zM542 365h4v4h-4zM582 365h16v4h-16zM454 369h4v4h-4zM542 369h4v4h-4zM578 369h8v4h-8zM586 377h12v4h-12zM438 381h4v4h-4zM582 381h8v4h-8zM594 381h8v4h-8zM398 385h4v4h-4zM446 385h4v4h-4zM566 385h4v4h-4zM582 385h4v4h-4zM598 385h4v4h-4zM394 393h4v4h-4zM510 393h4v4h-4zM562 393h4v4h-4zM578 393h4v4h-4zM598 393h4v4h-4zM394 397h4v4h-4zM598 397h4v4h-4zM394 401h8v4h-8zM406 401h8v4h-8zM426 401h4v4h-4zM598 401h4v4h-4zM558 405h4v4h-4zM574 405h4v4h-4zM598 405h4v4h-4zM554 409h4v4h-4zM574 409h4v4h-4zM602 409h4v4h-4zM446 413h4v4h-4zM574 413h4v4h-4zM602 413h4v4h-4zM454 417h4v4h-4zM514 417h4v4h-4zM574 417h4v4h-4zM602 417h4v4h-4zM574 421h4v4h-4zM598 421h4v4h-4zM574 425h4v4h-4zM594 425h4v4h-4zM386 429h4v4h-4zM590 429h4v4h-4zM390 433h4v4h-4zM414 433h12v4h-12zM530 433h12v4h-12zM578 433h4v4h-4zM590 433h4v4h-4zM394 437h4v4h-4zM414 437h4v4h-4zM426 437h4v4h-4zM530 437h12v4h-12zM578 437h4v4h-4zM590 437h4v4h-4zM398 441h4v4h-4zM410 441h4v4h-4zM590 441h4v4h-4zM438 445h4v4h-4zM574 445h4v4h-4zM590 445h4v4h-4zM442 449h4v4h-4zM574 449h4v4h-4zM590 449h4v4h-4zM398 453h8v4h-8zM450 453h8v4h-8zM486 453h20v4h-20zM570 453h4v4h-4z"/>
<path fill="#2a2a2a" d="M394 229h4v4h-4zM402 229h4v4h-4zM526 229h4v4h-4zM570 229h4v4h-4zM586 229h4v4h-4zM390 233h4v4h-4zM402 233h4v4h-4zM574 233h8v4h-8zM390 237h4v4h-4zM402 237h4v4h-4zM542 237h4v4h-4zM570 237h12v4h-12zM390 241h12v4h-12zM546 241h4v4h-4zM566 241h4v4h-4zM582 241h4v4h-4zM394 245h8v4h-8zM554 245h12v4h-12zM394 249h8v4h-8zM394 253h8v4h-8zM390 257h12v4h-12zM598 257h4v4h-4zM386 261h8v4h-8zM398 261h4v4h-4zM382 265h4v4h-4zM398 265h4v4h-4zM470 265h4v4h-4zM506 265h8v4h-8zM382 269h4v4h-4zM398 269h4v4h-4zM382 273h4v4h-4zM398 273h4v4h-4zM450 273h4v4h-4zM382 277h4v4h-4zM542 277h4v4h-4zM382 281h4v4h-4zM382 285h4v4h-4zM566 285h16v4h-16zM382 289h4v4h-4zM398 289h4v4h-4zM482 289h16v4h-16zM382 293h4v4h-4zM382 297h4v4h-4zM394 297h4v4h-4zM414 297h4v4h-4zM446 297h4v4h-4zM530 297h4v4h-4zM578 297h4v4h-4zM386 301h8v4h-8zM442 301h4v4h-4zM406 309h4v4h-4zM402 313h4v4h-4zM402 317h4v4h-4zM434 317h4v4h-4zM482 317h4v4h-4zM526 317h4v4h-4zM578 317h4v4h-4zM402 321h4v4h-4zM386 325h8v4h-8zM402 325h4v4h-4zM582 325h4v4h-4zM390 329h4v4h-4zM406 329h4v4h-4zM442 329h4v4h-4zM530 329h4v4h-4zM542 329h4v4h-4zM558 329h4v4h-4zM390 333h8v4h-8zM406 333h8v4h-8zM586 333h4v4h-4zM394 337h24v4h-24zM590 337h4v4h-4zM414 341h12v4h-12zM554 341h4v4h-4zM562 341h4v4h-4zM594 341h12v4h-12zM386 345h4v4h-4zM418 345h4v4h-4zM446 345h4v4h-4zM534 345h4v4h-4zM558 345h28v4h-28zM390 349h4v4h-4zM418 349h4v4h-4zM570 349h4v4h-4zM582 349h8v4h-8zM570 353h4v4h-4zM586 353h4v4h-4zM394 357h4v4h-4zM574 357h4v4h-4zM586 357h8v4h-8zM422 361h4v4h-4zM450 361h4v4h-4zM542 361h4v4h-4zM578 361h4v4h-4zM594 361h12v4h-12zM578 365h4v4h-4zM426 369h4v4h-4zM450 369h4v4h-4zM574 373h4v4h-4zM402 377h4v4h-4zM570 377h4v4h-4zM402 381h4v4h-4zM590 381h4v4h-4zM586 385h4v4h-4zM594 385h4v4h-4zM398 389h4v4h-4zM454 389h4v4h-4zM582 389h4v4h-4zM598 389h4v4h-4zM398 393h4v4h-4zM470 393h4v4h-4zM514 393h4v4h-4zM398 397h4v4h-4zM410 397h12v4h-12zM578 397h4v4h-4zM402 401h4v4h-4zM558 401h4v4h-4zM578 401h4v4h-4zM434 405h4v4h-4zM578 405h4v4h-4zM534 409h20v4h-20zM578 409h4v4h-4zM598 409h4v4h-4zM522 413h4v4h-4zM578 413h4v4h-4zM598 413h4v4h-4zM458 417h4v4h-4zM578 417h8v4h-8zM594 417h8v4h-8zM578 421h8v4h-8zM590 421h8v4h-8zM378 425h4v4h-4zM578 425h16v4h-16zM578 429h12v4h-12zM582 433h8v4h-8zM418 437h8v4h-8zM582 437h8v4h-8zM414 441h4v4h-4zM430 441h4v4h-4zM578 441h12v4h-12zM398 445h16v4h-16zM434 445h4v4h-4zM578 445h4v4h-4zM586 445h4v4h-4zM398 449h8v4h-8zM586 449h4v4h-4zM394 453h4v4h-4zM406 453h4v4h-4zM446 453h4v4h-4zM574 453h4v4h-4zM586 453h4v4h-4z"/>
<path fill="#2b2b2b" d="M398 229h4v4h-4zM530 229h8v4h-8zM590 229h4v4h-4zM394 233h8v4h-8zM538 233h4v4h-4zM570 233h4v4h-4zM582 233h4v4h-4zM394 237h8v4h-8zM566 237h4v4h-4zM582 237h4v4h-4zM550 241h4v4h-4zM562 241h4v4h-4zM586 245h4v4h-4zM590 249h4v4h-4zM594 253h4v4h-4zM602 257h4v4h-4zM394 261h4v4h-4zM386 265h12v4h-12zM474 265h4v4h-4zM502 265h4v4h-4zM386 269h12v4h-12zM526 269h4v4h-4zM386 273h12v4h-12zM534 273h4v4h-4zM386 277h16v4h-16zM426 277h4v4h-4zM386 281h4v4h-4zM398 281h4v4h-4zM422 281h4v4h-4zM386 285h4v4h-4zM398 285h4v4h-4zM554 285h4v4h-4zM418 289h4v4h-4zM470 289h12v4h-12zM498 289h4v4h-4zM570 289h12v4h-12zM386 293h4v4h-4zM394 293h4v4h-4zM578 293h4v4h-4zM386 297h8v4h-8zM410 305h4v4h-4zM546 305h4v4h-4zM550 309h4v4h-4zM406 313h4v4h-4zM434 313h4v4h-4zM530 317h4v4h-4zM554 317h4v4h-4zM434 321h4v4h-4zM378 325h8v4h-8zM406 325h4v4h-4zM438 325h4v4h-4zM538 325h4v4h-4zM386 329h4v4h-4zM410 329h4v4h-4zM386 333h4v4h-4zM414 333h4v4h-4zM442 333h4v4h-4zM386 337h8v4h-8zM418 337h8v4h-8zM454 337h4v4h-4zM546 337h4v4h-4zM562 337h4v4h-4zM586 337h4v4h-4zM378 341h36v4h-36zM426 341h4v4h-4zM550 341h4v4h-4zM566 341h8v4h-8zM578 341h16v4h-16zM390 345h8v4h-8zM414 345h4v4h-4zM430 345h4v4h-4zM554 345h4v4h-4zM586 345h12v4h-12zM394 349h4v4h-4zM446 349h4v4h-4zM562 349h8v4h-8zM590 349h4v4h-4zM394 353h4v4h-4zM418 353h4v4h-4zM590 353h4v4h-4zM438 357h4v4h-4zM538 357h4v4h-4zM570 357h4v4h-4zM594 357h12v4h-12zM398 361h4v4h-4zM442 361h4v4h-4zM574 361h4v4h-4zM446 365h8v4h-8zM574 365h4v4h-4zM574 369h4v4h-4zM402 373h4v4h-4zM542 373h4v4h-4zM430 377h4v4h-4zM566 381h4v4h-4zM402 385h4v4h-4zM534 385h4v4h-4zM590 385h4v4h-4zM402 389h4v4h-4zM562 389h4v4h-4zM586 389h4v4h-4zM594 389h4v4h-4zM402 393h4v4h-4zM518 393h4v4h-4zM582 393h4v4h-4zM594 393h4v4h-4zM402 397h8v4h-8zM422 397h4v4h-4zM558 397h4v4h-4zM582 397h4v4h-4zM594 397h4v4h-4zM582 401h4v4h-4zM594 401h4v4h-4zM554 405h4v4h-4zM582 405h4v4h-4zM590 405h8v4h-8zM530 409h4v4h-4zM582 409h16v4h-16zM582 413h16v4h-16zM462 417h4v4h-4zM510 417h4v4h-4zM586 417h8v4h-8zM586 421h4v4h-4zM382 429h4v4h-4zM386 433h4v4h-4zM390 437h4v4h-4zM394 441h4v4h-4zM418 441h12v4h-12zM414 445h4v4h-4zM582 445h4v4h-4zM394 449h4v4h-4zM406 449h8v4h-8zM438 449h4v4h-4zM578 449h8v4h-8zM390 453h4v4h-4zM410 453h4v4h-4zM442 453h4v4h-4zM578 453h8v4h-8z"/>
<path fill="#2c2c2c" d="M538 229h4v4h-4zM566 229h4v4h-4zM594 229h4v4h-4zM542 233h4v4h-4zM566 233h4v4h-4zM586 233h4v4h-4zM546 237h4v4h-4zM562 237h4v4h-4zM586 237h4v4h-4zM554 241h8v4h-8zM586 241h4v4h-4zM598 253h4v4h-4zM478 265h4v4h-4zM498 265h4v4h-4zM462 269h4v4h-4zM454 273h4v4h-4zM430 277h8v4h-8zM390 281h8v4h-8zM546 281h4v4h-4zM390 285h8v4h-8zM386 289h12v4h-12zM466 289h4v4h-4zM502 289h4v4h-4zM562 289h8v4h-8zM390 293h4v4h-4zM418 293h4v4h-4zM450 293h4v4h-4zM522 293h4v4h-4zM574 293h4v4h-4zM574 297h4v4h-4zM414 301h4v4h-4zM542 301h4v4h-4zM574 301h4v4h-4zM438 305h4v4h-4zM574 305h4v4h-4zM574 309h4v4h-4zM406 317h4v4h-4zM494 317h4v4h-4zM406 321h4v4h-4zM470 321h4v4h-4zM530 321h8v4h-8zM578 321h4v4h-4zM434 325h4v4h-4zM530 325h4v4h-4zM558 325h4v4h-4zM378 329h8v4h-8zM582 329h4v4h-4zM382 333h4v4h-4zM418 333h4v4h-4zM542 333h4v4h-4zM562 333h4v4h-4zM582 333h4v4h-4zM378 337h8v4h-8zM426 337h4v4h-4zM442 337h4v4h-4zM566 337h4v4h-4zM582 337h4v4h-4zM534 341h4v4h-4zM574 341h4v4h-4zM398 345h4v4h-4zM410 345h4v4h-4zM598 345h8v4h-8zM414 349h4v4h-4zM434 349h4v4h-4zM454 349h4v4h-4zM554 349h8v4h-8zM594 349h8v4h-8zM446 353h4v4h-4zM538 353h4v4h-4zM566 353h4v4h-4zM594 353h12v4h-12zM398 357h4v4h-4zM542 357h4v4h-4zM546 361h4v4h-4zM570 361h4v4h-4zM422 365h4v4h-4zM546 365h4v4h-4zM402 369h4v4h-4zM426 373h4v4h-4zM570 373h4v4h-4zM434 381h4v4h-4zM538 381h4v4h-4zM442 385h4v4h-4zM406 389h4v4h-4zM530 389h4v4h-4zM590 389h4v4h-4zM406 393h12v4h-12zM466 393h4v4h-4zM586 393h8v4h-8zM586 397h8v4h-8zM430 401h4v4h-4zM586 401h8v4h-8zM550 405h4v4h-4zM586 405h4v4h-4zM442 409h4v4h-4zM450 413h4v4h-4zM518 413h4v4h-4zM466 417h4v4h-4zM378 429h4v4h-4zM394 445h4v4h-4zM418 445h4v4h-4zM426 445h8v4h-8zM434 449h4v4h-4zM386 453h4v4h-4z"/>
<path fill="#2d2d2d" d="M542 229h4v4h-4zM562 229h4v4h-4zM598 229h8v4h-8zM546 233h4v4h-4zM562 233h4v4h-4zM590 233h4v4h-4zM602 233h4v4h-4zM550 237h12v4h-12zM590 245h4v4h-4zM594 249h4v4h-4zM602 253h4v4h-4zM482 265h16v4h-16zM522 269h4v4h-4zM438 277h8v4h-8zM426 281h4v4h-4zM422 285h4v4h-4zM550 285h4v4h-4zM462 289h4v4h-4zM506 289h4v4h-4zM558 289h4v4h-4zM566 293h8v4h-8zM534 297h4v4h-4zM570 297h4v4h-4zM410 309h4v4h-4zM554 313h4v4h-4zM574 313h4v4h-4zM486 317h4v4h-4zM430 321h4v4h-4zM558 321h4v4h-4zM410 325h4v4h-4zM430 325h4v4h-4zM534 325h4v4h-4zM578 325h4v4h-4zM414 329h4v4h-4zM438 329h4v4h-4zM538 329h4v4h-4zM562 329h4v4h-4zM378 333h4v4h-4zM422 333h8v4h-8zM534 333h4v4h-4zM534 337h4v4h-4zM570 337h12v4h-12zM430 341h4v4h-4zM442 341h4v4h-4zM546 341h4v4h-4zM402 345h8v4h-8zM550 345h4v4h-4zM398 349h4v4h-4zM602 349h4v4h-4zM398 353h4v4h-4zM438 353h4v4h-4zM558 353h8v4h-8zM418 357h4v4h-4zM442 357h8v4h-8zM546 357h4v4h-4zM566 357h4v4h-4zM446 361h4v4h-4zM402 365h4v4h-4zM478 365h4v4h-4zM570 365h4v4h-4zM546 369h4v4h-4zM570 369h4v4h-4zM406 377h4v4h-4zM566 377h4v4h-4zM406 381h4v4h-4zM406 385h4v4h-4zM562 385h4v4h-4zM410 389h4v4h-4zM450 389h4v4h-4zM418 393h4v4h-4zM522 393h4v4h-4zM558 393h4v4h-4zM426 397h4v4h-4zM554 401h4v4h-4zM546 405h4v4h-4zM526 409h4v4h-4zM470 417h4v4h-4zM506 417h4v4h-4zM382 433h4v4h-4zM386 437h4v4h-4zM390 441h4v4h-4zM390 445h4v4h-4zM422 445h4v4h-4zM390 449h4v4h-4zM414 449h8v4h-8zM430 449h4v4h-4zM378 453h8v4h-8zM414 453h4v4h-4zM438 453h4v4h-4z"/>
<path fill="#2e2e2e" d="M546 229h4v4h-4zM558 229h4v4h-4zM550 233h12v4h-12zM594 233h8v4h-8zM590 237h4v4h-4zM602 237h4v4h-4zM590 241h4v4h-4zM598 249h4v4h-4zM466 269h4v4h-4zM530 273h4v4h-4zM446 277h4v4h-4zM538 277h4v4h-4zM458 289h4v4h-4zM554 289h4v4h-4zM562 293h4v4h-4zM566 297h4v4h-4zM570 301h4v4h-4zM414 305h4v4h-4zM550 305h4v4h-4zM570 305h4v4h-4zM434 309h4v4h-4zM410 313h4v4h-4zM410 317h4v4h-4zM430 317h4v4h-4zM490 317h4v4h-4zM574 317h4v4h-4zM410 321h4v4h-4zM414 325h4v4h-4zM418 329h20v4h-20zM534 329h4v4h-4zM578 329h4v4h-4zM430 333h4v4h-4zM438 333h4v4h-4zM538 333h4v4h-4zM566 333h4v4h-4zM578 333h4v4h-4zM430 337h4v4h-4zM542 337h4v4h-4zM434 345h4v4h-4zM442 345h4v4h-4zM546 345h4v4h-4zM402 349h12v4h-12zM438 349h8v4h-8zM522 349h4v4h-4zM538 349h4v4h-4zM550 349h4v4h-4zM414 353h4v4h-4zM442 353h4v4h-4zM542 353h16v4h-16zM550 357h4v4h-4zM562 357h4v4h-4zM402 361h4v4h-4zM418 361h4v4h-4zM510 361h4v4h-4zM550 361h4v4h-4zM566 361h4v4h-4zM422 369h4v4h-4zM406 373h4v4h-4zM542 377h4v4h-4zM410 385h4v4h-4zM414 389h4v4h-4zM422 393h4v4h-4zM462 393h4v4h-4zM438 405h4v4h-4zM542 405h4v4h-4zM454 413h4v4h-4zM474 417h4v4h-4zM502 417h4v4h-4zM378 433h4v4h-4zM378 449h12v4h-12zM422 449h8v4h-8zM418 453h4v4h-4zM430 453h8v4h-8z"/>
<path fill="#2f2f2f" d="M550 229h8v4h-8zM594 237h8v4h-8zM594 241h4v4h-4zM602 241h4v4h-4zM594 245h4v4h-4zM602 249h4v4h-4zM518 269h4v4h-4zM458 273h4v4h-4zM430 281h4v4h-4zM542 281h4v4h-4zM422 289h4v4h-4zM510 289h4v4h-4zM526 293h4v4h-4zM558 293h4v4h-4zM418 297h4v4h-4zM442 297h4v4h-4zM538 297h4v4h-4zM546 301h4v4h-4zM554 309h4v4h-4zM570 309h4v4h-4zM558 317h4v4h-4zM426 321h4v4h-4zM574 321h4v4h-4zM418 325h12v4h-12zM514 325h4v4h-4zM562 325h4v4h-4zM434 333h4v4h-4zM522 333h4v4h-4zM570 333h8v4h-8zM434 337h8v4h-8zM538 337h4v4h-4zM434 341h4v4h-4zM454 341h4v4h-4zM538 341h8v4h-8zM438 345h4v4h-4zM454 345h4v4h-4zM538 345h4v4h-4zM542 349h8v4h-8zM402 353h4v4h-4zM402 357h4v4h-4zM462 357h4v4h-4zM554 357h8v4h-8zM550 365h4v4h-4zM566 365h4v4h-4zM406 369h4v4h-4zM566 369h4v4h-4zM546 373h4v4h-4zM566 373h4v4h-4zM426 377h4v4h-4zM410 381h4v4h-4zM430 381h4v4h-4zM562 381h4v4h-4zM438 385h4v4h-4zM418 389h4v4h-4zM558 389h4v4h-4zM526 393h4v4h-4zM554 397h4v4h-4zM434 401h4v4h-4zM550 401h4v4h-4zM534 405h8v4h-8zM446 409h4v4h-4zM522 409h4v4h-4zM514 413h4v4h-4zM478 417h8v4h-8zM498 417h4v4h-4zM382 437h4v4h-4zM386 441h4v4h-4zM378 445h12v4h-12zM422 453h8v4h-8z"/>
<path fill="#303030" d="M598 241h4v4h-4zM598 245h8v4h-8zM514 269h4v4h-4zM450 277h4v4h-4zM434 281h4v4h-4zM426 285h4v4h-4zM546 285h4v4h-4zM454 289h4v4h-4zM514 289h4v4h-4zM550 289h4v4h-4zM446 293h4v4h-4zM554 293h4v4h-4zM562 297h4v4h-4zM438 301h4v4h-4zM566 301h4v4h-4zM554 305h4v4h-4zM566 305h4v4h-4zM414 309h4v4h-4zM430 313h4v4h-4zM558 313h4v4h-4zM570 313h4v4h-4zM414 321h4v4h-4zM574 325h4v4h-4zM566 329h12v4h-12zM438 341h4v4h-4zM542 345h4v4h-4zM406 353h8v4h-8zM458 353h4v4h-4zM414 357h4v4h-4zM554 361h12v4h-12zM406 365h4v4h-4zM418 365h4v4h-4zM498 365h4v4h-4zM422 373h4v4h-4zM410 377h4v4h-4zM414 385h4v4h-4zM434 385h4v4h-4zM422 389h4v4h-4zM446 389h4v4h-4zM426 393h4v4h-4zM430 397h4v4h-4zM530 405h4v4h-4zM458 413h4v4h-4zM486 417h12v4h-12zM378 437h4v4h-4zM378 441h8v4h-8z"/>
<path fill="#313131" d="M470 269h4v4h-4zM526 273h4v4h-4zM534 277h4v4h-4zM438 281h4v4h-4zM422 293h4v4h-4zM530 293h4v4h-4zM542 297h4v4h-4zM554 297h8v4h-8zM418 301h4v4h-4zM550 301h16v4h-16zM434 305h4v4h-4zM558 309h4v4h-4zM566 309h4v4h-4zM414 313h4v4h-4zM414 317h4v4h-4zM426 317h4v4h-4zM570 317h4v4h-4zM418 321h8v4h-8zM506 321h4v4h-4zM562 321h4v4h-4zM570 321h4v4h-4zM566 325h8v4h-8zM406 357h8v4h-8zM406 361h4v4h-4zM414 361h4v4h-4zM554 365h4v4h-4zM562 365h4v4h-4zM410 369h4v4h-4zM418 369h4v4h-4zM550 369h4v4h-4zM410 373h4v4h-4zM414 377h4v4h-4zM422 377h4v4h-4zM562 377h4v4h-4zM414 381h16v4h-16zM542 381h4v4h-4zM418 385h8v4h-8zM430 385h4v4h-4zM538 385h4v4h-4zM558 385h4v4h-4zM534 389h4v4h-4zM458 393h4v4h-4zM554 393h4v4h-4zM490 397h20v4h-20zM546 401h4v4h-4zM442 405h4v4h-4z"/>
<path fill="#323232" d="M510 269h4v4h-4zM462 273h4v4h-4zM454 277h4v4h-4zM442 281h4v4h-4zM430 285h4v4h-4zM426 289h4v4h-4zM450 289h4v4h-4zM518 289h4v4h-4zM550 293h4v4h-4zM546 297h8v4h-8zM418 305h4v4h-4zM558 305h8v4h-8zM430 309h4v4h-4zM562 309h4v4h-4zM562 313h8v4h-8zM418 317h8v4h-8zM562 317h8v4h-8zM566 321h4v4h-4zM518 329h4v4h-4zM410 361h4v4h-4zM410 365h8v4h-8zM558 365h4v4h-4zM414 369h4v4h-4zM562 369h4v4h-4zM414 373h8v4h-8zM562 373h4v4h-4zM418 377h4v4h-4zM546 377h4v4h-4zM426 385h4v4h-4zM426 389h4v4h-4zM442 389h4v4h-4zM430 393h4v4h-4zM530 393h4v4h-4zM482 397h8v4h-8zM510 397h12v4h-12zM550 397h4v4h-4zM438 401h4v4h-4zM542 401h4v4h-4zM526 405h4v4h-4zM450 409h4v4h-4zM518 409h4v4h-4zM462 413h4v4h-4zM510 413h4v4h-4z"/>
<path fill="#333333" d="M474 269h4v4h-4zM506 269h4v4h-4zM522 273h4v4h-4zM446 281h4v4h-4zM538 281h4v4h-4zM542 285h4v4h-4zM546 289h4v4h-4zM534 293h4v4h-4zM546 293h4v4h-4zM422 297h4v4h-4zM418 309h4v4h-4zM418 313h4v4h-4zM426 313h4v4h-4zM554 369h8v4h-8zM550 373h4v4h-4zM558 381h4v4h-4zM430 389h12v4h-12zM554 389h4v4h-4zM454 393h4v4h-4zM434 397h4v4h-4zM478 397h4v4h-4zM522 397h4v4h-4zM538 401h4v4h-4z"/>
<path fill="#343434" d="M478 269h4v4h-4zM502 269h4v4h-4zM458 277h4v4h-4zM530 277h4v4h-4zM450 281h4v4h-4zM434 285h4v4h-4zM454 285h28v4h-28zM446 289h4v4h-4zM522 289h4v4h-4zM442 293h4v4h-4zM538 293h8v4h-8zM438 297h4v4h-4zM422 301h4v4h-4zM434 301h4v4h-4zM430 305h4v4h-4zM426 309h4v4h-4zM422 313h4v4h-4zM458 333h4v4h-4zM522 337h4v4h-4zM522 345h4v4h-4zM518 353h4v4h-4zM514 357h4v4h-4zM470 361h4v4h-4zM482 365h4v4h-4zM554 373h8v4h-8zM558 377h4v4h-4zM538 389h4v4h-4zM434 393h4v4h-4zM534 393h4v4h-4zM474 397h4v4h-4zM526 397h4v4h-4zM546 397h4v4h-4zM530 401h8v4h-8zM446 405h4v4h-4zM522 405h4v4h-4zM454 409h4v4h-4zM466 413h4v4h-4zM506 413h4v4h-4z"/>
<path fill="#353535" d="M498 269h4v4h-4zM466 273h4v4h-4zM454 281h4v4h-4zM438 285h16v4h-16zM482 285h12v4h-12zM430 289h4v4h-4zM542 289h4v4h-4zM426 293h4v4h-4zM422 305h4v4h-4zM422 309h4v4h-4zM550 377h8v4h-8zM546 381h4v4h-4zM542 385h4v4h-4zM554 385h4v4h-4zM450 393h4v4h-4zM550 393h4v4h-4zM438 397h4v4h-4zM470 397h4v4h-4zM530 397h8v4h-8zM442 401h4v4h-4zM522 401h8v4h-8zM514 409h4v4h-4zM470 413h4v4h-4z"/>
<path fill="#363636" d="M482 269h16v4h-16zM518 273h4v4h-4zM462 277h4v4h-4zM458 281h4v4h-4zM534 281h4v4h-4zM494 285h8v4h-8zM538 285h4v4h-4zM442 289h4v4h-4zM526 289h4v4h-4zM538 289h4v4h-4zM438 293h4v4h-4zM426 297h4v4h-4zM426 301h8v4h-8zM426 305h4v4h-4zM522 341h4v4h-4zM494 365h4v4h-4zM550 381h8v4h-8zM550 389h4v4h-4zM438 393h12v4h-12zM538 393h4v4h-4zM466 397h4v4h-4zM538 397h8v4h-8zM518 401h4v4h-4zM518 405h4v4h-4zM502 413h4v4h-4z"/>
<path fill="#373737" d="M470 273h4v4h-4zM514 273h4v4h-4zM526 277h4v4h-4zM462 281h4v4h-4zM502 285h4v4h-4zM434 289h8v4h-8zM530 289h8v4h-8zM430 293h4v4h-4zM430 297h8v4h-8zM466 325h4v4h-4zM546 385h8v4h-8zM542 389h4v4h-4zM542 393h8v4h-8zM442 397h4v4h-4zM462 397h4v4h-4zM514 401h4v4h-4zM450 405h4v4h-4zM458 409h4v4h-4zM474 413h4v4h-4z"/>
<path fill="#383838" d="M530 281h4v4h-4zM506 285h8v4h-8zM534 285h4v4h-4zM434 293h4v4h-4zM474 321h4v4h-4zM486 365h8v4h-8zM546 389h4v4h-4zM458 397h4v4h-4zM446 401h4v4h-4zM510 401h4v4h-4zM514 405h4v4h-4zM510 409h4v4h-4zM478 413h4v4h-4zM498 413h4v4h-4z"/>
<path fill="#393939" d="M510 273h4v4h-4zM466 277h4v4h-4zM522 277h4v4h-4zM466 281h4v4h-4zM514 285h4v4h-4zM530 285h4v4h-4zM462 329h4v4h-4zM458 349h4v4h-4zM446 397h12v4h-12zM506 401h4v4h-4zM454 405h4v4h-4zM462 409h4v4h-4zM482 413h16v4h-16z"/>
<path fill="#3a3a3a" d="M474 273h4v4h-4zM470 281h4v4h-4zM526 281h4v4h-4zM518 285h12v4h-12zM450 401h4v4h-4zM498 401h8v4h-8zM510 405h4v4h-4zM466 409h4v4h-4zM506 409h4v4h-4z"/>
<path fill="#3b3b3b" d="M478 273h4v4h-4zM506 273h4v4h-4zM470 277h4v4h-4zM518 277h4v4h-4zM474 281h4v4h-4zM506 361h4v4h-4zM454 401h4v4h-4zM490 401h8v4h-8zM458 405h4v4h-4z"/>
<path fill="#3c3c3c" d="M502 273h4v4h-4zM478 281h4v4h-4zM522 281h4v4h-4zM458 401h8v4h-8zM474 401h16v4h-16zM506 405h4v4h-4zM470 409h4v4h-4zM502 409h4v4h-4z"/>
<path fill="#3d3d3d" d="M482 273h8v4h-8zM498 273h4v4h-4zM474 277h4v4h-4zM514 277h4v4h-4zM482 281h8v4h-8zM514 281h8v4h-8zM502 321h4v4h-4zM510 325h4v4h-4zM458 337h4v4h-4zM466 401h8v4h-8zM462 405h4v4h-4zM502 405h4v4h-4zM474 409h4v4h-4zM498 409h4v4h-4z"/>
<path fill="#3e3e3e" d="M490 273h8v4h-8zM478 277h4v4h-4zM510 277h4v4h-4zM490 281h24v4h-24zM518 333h4v4h-4zM466 357h4v4h-4zM466 405h4v4h-4zM478 409h4v4h-4zM494 409h4v4h-4z"/>
<path fill="#3f3f3f" d="M482 277h4v4h-4zM506 277h4v4h-4zM462 353h4v4h-4zM470 405h4v4h-4zM494 405h8v4h-8zM482 409h12v4h-12z"/>
<path fill="#404040" d="M486 277h4v4h-4zM502 277h4v4h-4zM458 345h4v4h-4zM474 405h8v4h-8zM486 405h8v4h-8z"/>
<path fill="#414141" d="M490 277h12v4h-12zM458 341h4v4h-4zM518 349h4v4h-4zM474 361h4v4h-4zM482 405h4v4h-4z"/>
<path fill="#424242" d="M514 329h4v4h-4z"/>
<path fill="#434343" d="M478 321h4v4h-4z"/>
<path fill="#464646" d="M510 357h4v4h-4z"/>
<path fill="#474747" d="M498 321h4v4h-4zM470 325h4v4h-4zM518 337h4v4h-4z"/>
<path fill="#484848" d="M514 353h4v4h-4zM502 361h4v4h-4z"/>
<path fill="#494949" d="M462 333h4v4h-4zM518 345h4v4h-4z"/>
<path fill="#4b4b4b" d="M518 341h4v4h-4z"/>
<path fill="#4c4c4c" d="M482 321h4v4h-4z"/>
<path fill="#4d4d4d" d="M466 329h4v4h-4z"/>
<path fill="#4e4e4e" d="M494 321h4v4h-4zM506 325h4v4h-4zM462 349h4v4h-4zM478 361h4v4h-4z"/>
<path fill="#505050" d="M470 357h4v4h-4z"/>
<path fill="#515151" d="M486 321h4v4h-4z"/>
<path fill="#525252" d="M490 321h4v4h-4z"/>
<path fill="#535353" d="M498 361h4v4h-4z"/>
<path fill="#545454" d="M514 333h4v4h-4zM466 353h4v4h-4z"/>
<path fill="#555555" d="M462 337h4v4h-4z"/>
<path fill="#565656" d="M510 329h4v4h-4z"/>
<path fill="#575757" d="M462 345h4v4h-4z"/>
<path fill="#585858" d="M482 361h4v4h-4z"/>
<path fill="#595959" d="M474 325h4v4h-4zM514 349h4v4h-4zM506 357h4v4h-4z"/>
<path fill="#5a5a5a" d="M462 341h4v4h-4z"/>
<path fill="#5c5c5c" d="M494 361h4v4h-4z"/>
<path fill="#5e5e5e" d="M486 361h4v4h-4z"/>
<path fill="#5f5f5f" d="M502 325h4v4h-4zM510 353h4v4h-4zM490 361h4v4h-4z"/>
<path fill="#616161" d="M514 337h4v4h-4z"/>
<path fill="#626262" d="M466 333h4v4h-4z"/>
<path fill="#636363" d="M474 357h4v4h-4z"/>
<path fill="#646464" d="M470 329h4v4h-4zM514 345h4v4h-4z"/>
<path fill="#666666" d="M514 341h4v4h-4z"/>
<path fill="#676767" d="M466 349h4v4h-4z"/>
<path fill="#686868" d="M478 325h4v4h-4z"/>
<path fill="#6c6c6c" d="M470 353h4v4h-4zM502 357h4v4h-4z"/>
<path fill="#6d6d6d" d="M498 325h4v4h-4zM506 329h4v4h-4zM510 333h4v4h-4z"/>
<path fill="#717171" d="M466 337h4v4h-4z"/>
<path fill="#737373" d="M466 345h4v4h-4z"/>
<path fill="#747474" d="M482 325h4v4h-4zM510 349h4v4h-4zM478 357h4v4h-4z"/>
<path fill="#777777" d="M466 341h4v4h-4z"/>
<path fill="#787878" d="M494 325h4v4h-4zM506 353h4v4h-4z"/>
<path fill="#7a7a7a" d="M474 329h4v4h-4z"/>
<path fill="#7b7b7b" d="M486 325h4v4h-4zM498 357h4v4h-4z"/>
<path fill="#7c7c7c" d="M490 325h4v4h-4z"/>
<path fill="#7d7d7d" d="M470 333h4v4h-4z"/>
<path fill="#7e7e7e" d="M510 337h4v4h-4z"/>
<path fill="#818181" d="M510 345h4v4h-4zM482 357h4v4h-4z"/>
<path fill="#828282" d="M502 329h4v4h-4z"/>
<path fill="#838383" d="M470 349h4v4h-4zM474 353h4v4h-4z"/>
<path fill="#858585" d="M510 341h4v4h-4z"/>
<path fill="#868686" d="M494 357h4v4h-4z"/>
<path fill="#888888" d="M506 333h4v4h-4z"/>
<path fill="#898989" d="M486 357h4v4h-4z"/>
<path fill="#8b8b8b" d="M490 357h4v4h-4z"/>
<path fill="#8e8e8e" d="M478 329h4v4h-4zM502 353h4v4h-4z"/>
<path fill="#8f8f8f" d="M470 337h4v4h-4z"/>
<path fill="#919191" d="M506 349h4v4h-4z"/>
<path fill="#929292" d="M470 345h4v4h-4z"/>
<path fill="#959595" d="M498 329h4v4h-4z"/>
<path fill="#969696" d="M470 341h4v4h-4z"/>
<path fill="#989898" d="M474 333h4v4h-4zM478 353h4v4h-4z"/>
<path fill="#9c9c9c" d="M506 337h4v4h-4z"/>
<path fill="#9d9d9d" d="M482 329h4v4h-4z"/>
<path fill="#9e9e9e" d="M474 349h4v4h-4z"/>
<path fill="#a0a0a0" d="M506 345h4v4h-4z"/>
<path fill="#a1a1a1" d="M494 329h4v4h-4zM502 333h4v4h-4zM498 353h4v4h-4z"/>
<path fill="#a4a4a4" d="M506 341h4v4h-4z"/>
<path fill="#a6a6a6" d="M486 329h4v4h-4z"/>
<path fill="#a7a7a7" d="M490 329h4v4h-4z"/>
<path fill="#a9a9a9" d="M482 353h4v4h-4z"/>
<path fill="#ababab" d="M502 349h4v4h-4z"/>
<path fill="#acacac" d="M474 337h4v4h-4z"/>
<path fill="#aeaeae" d="M494 353h4v4h-4z"/>
<path fill="#afafaf" d="M478 333h4v4h-4z"/>
<path fill="#b0b0b0" d="M474 345h4v4h-4z"/>
<path fill="#b2b2b2" d="M486 353h4v4h-4z"/>
<path fill="#b4b4b4" d="M474 341h4v4h-4zM490 353h4v4h-4z"/>
<path fill="#b6b6b6" d="M478 349h4v4h-4z"/>
<path fill="#b7b7b7" d="M498 333h4v4h-4zM502 337h4v4h-4z"/>
<path fill="#bcbcbc" d="M502 345h4v4h-4z"/>
<path fill="#c0c0c0" d="M482 333h4v4h-4zM498 349h4v4h-4z"/>
<path fill="#c1c1c1" d="M502 341h4v4h-4z"/>
<path fill="#c5c5c5" d="M494 333h4v4h-4zM478 337h4v4h-4z"/>
<path fill="#c9c9c9" d="M482 349h4v4h-4z"/>
<path fill="#cacaca" d="M486 333h4v4h-4zM478 345h4v4h-4z"/>
<path fill="#cccccc" d="M490 333h4v4h-4z"/>
<path fill="#cecece" d="M498 337h4v4h-4z"/>
<path fill="#cfcfcf" d="M478 341h4v4h-4zM494 349h4v4h-4z"/>
<path fill="#d4d4d4" d="M498 345h4v4h-4zM486 349h4v4h-4z"/>
<path fill="#d6d6d6" d="M490 349h4v4h-4z"/>
<path fill="#d8d8d8" d="M482 337h4v4h-4z"/>
<path fill="#d9d9d9" d="M498 341h4v4h-4z"/>
<path fill="#dddddd" d="M482 345h4v4h-4z"/>
<path fill="#dedede" d="M494 337h4v4h-4z"/>
<path fill="#e3e3e3" d="M482 341h4v4h-4z"/>
<path fill="#e4e4e4" d="M486 337h4v4h-4zM494 345h4v4h-4z"/>
<path fill="#e6e6e6" d="M490 337h4v4h-4z"/>
<path fill="#e9e9e9" d="M494 341h4v4h-4zM486 345h4v4h-4z"/>
<path fill="#ebebeb" d="M490 345h4v4h-4z"/>
<path fill="#eeeeee" d="M486 341h4v4h-4z"/>
<path fill="#f0f0f0" d="M490 341h4v4h-4z"/>
</g></g>
<rect class="sp" x="398.5" y="249.5" width="188.0" height="188.0"/>
<path class="tk" d="M415.5 437.5v4.86M492.5 437.5v4.86M569.5 437.5v4.86"/>
<text transform="translate(415.50 455.00) scale(0.97 1.03)" text-anchor="middle">−5</text>
<text transform="translate(492.50 455.00) scale(0.97 1.03)" text-anchor="middle">0</text>
<text transform="translate(569.50 455.00) scale(0.97 1.03)" text-anchor="middle">5</text>
<path class="tk" d="M398.0 420.5h-4.86M398.0 382.5h-4.86M398.0 343.5h-4.86M398.0 305.5h-4.86M398.0 266.5h-4.86"/>
<text transform="translate(388.38 424.30) scale(0.97 1.03)" text-anchor="end">−5.0</text>
<text transform="translate(388.38 385.80) scale(0.97 1.03)" text-anchor="end">−2.5</text>
<text transform="translate(388.38 347.30) scale(0.97 1.03)" text-anchor="end">0.0</text>
<text transform="translate(388.38 308.80) scale(0.97 1.03)" text-anchor="end">2.5</text>
<text transform="translate(388.38 270.30) scale(0.97 1.03)" text-anchor="end">5.0</text>
<text transform="translate(492.20 242.30) scale(0.994 1)" text-anchor="middle">Image_list.alma.cycle6.1.quick.psf</text>
<rect x="402.5" y="253.5" width="85.5" height="32.5" fill="#fff" fill-opacity="0.7" stroke="#000" stroke-opacity="0.7" stroke-width="1.1"/>
<text transform="translate(408.50 267.00) scale(0.975 1)">bmaj=2.0e+00</text>
<text transform="translate(408.50 277.90) scale(0.975 1)">bmin=1.6e+00</text>
</svg></body></html>
